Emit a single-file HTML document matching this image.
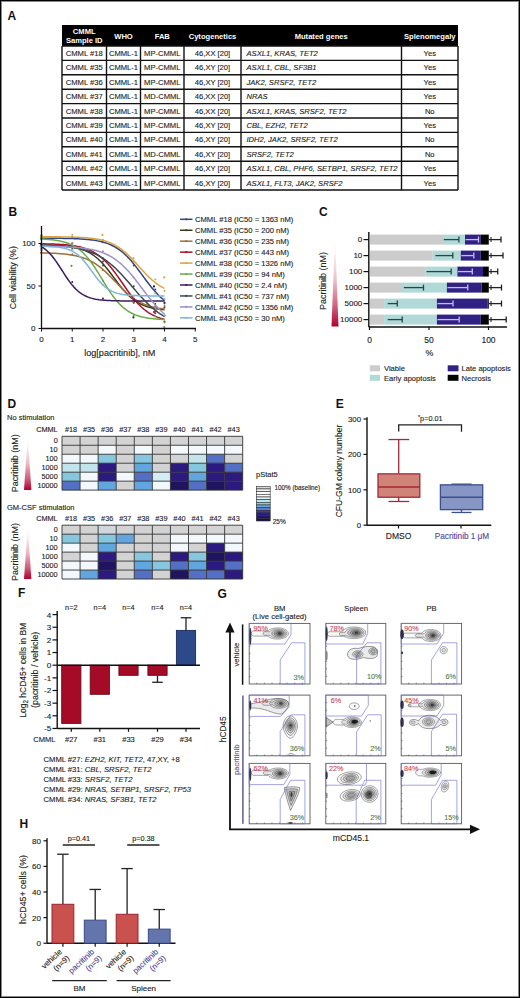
<!DOCTYPE html>
<html><head><meta charset="utf-8"><style>
html,body{margin:0;padding:0;background:#fff;}
svg{display:block;font-family:"Liberation Sans", sans-serif;}
</style></head><body>
<svg width="520" height="998" viewBox="0 0 520 998">
<rect x="0" y="0" width="520" height="998" fill="#fff"/>
<text x="7.5" y="20" font-size="12" text-anchor="start" font-weight="bold" fill="#111">A</text>
<rect x="62" y="25" width="396" height="21" fill="#000" stroke="none" stroke-width="1"/>
<text x="84.25" y="33.5" font-size="7.6" text-anchor="middle" font-weight="bold" fill="#fff">CMML</text>
<text x="84.25" y="42.5" font-size="7.6" text-anchor="middle" font-weight="bold" fill="#fff">Sample ID</text>
<text x="123.5" y="38.5" font-size="7.6" text-anchor="middle" font-weight="bold" fill="#fff">WHO</text>
<text x="162.25" y="38.5" font-size="7.6" text-anchor="middle" font-weight="bold" fill="#fff">FAB</text>
<text x="212.5" y="38.5" font-size="7.6" text-anchor="middle" font-weight="bold" fill="#fff">Cytogenetics</text>
<text x="321.25" y="38.5" font-size="7.6" text-anchor="middle" font-weight="bold" fill="#fff">Mutated genes</text>
<text x="429.75" y="38.5" font-size="7.6" text-anchor="middle" font-weight="bold" fill="#fff">Splenomegaly</text>
<text x="84.25" y="56.0" font-size="7.6" text-anchor="middle" fill="#222" stroke="#222" stroke-width="0.12">CMML #18</text>
<text x="123.5" y="56.0" font-size="7.6" text-anchor="middle" fill="#222" stroke="#222" stroke-width="0.12">CMML-1</text>
<text x="162.25" y="56.0" font-size="7.6" text-anchor="middle" fill="#222" stroke="#222" stroke-width="0.12">MP-CMML</text>
<text x="212.5" y="56.0" font-size="7.6" text-anchor="middle" fill="#222" stroke="#222" stroke-width="0.12">46,XX [20]</text>
<text x="246.5" y="56.0" font-size="7.6" text-anchor="start" font-style="italic" fill="#222" stroke="#222" stroke-width="0.12">ASXL1, KRAS, TET2</text>
<text x="429.75" y="56.0" font-size="7.6" text-anchor="middle" fill="#222" stroke="#222" stroke-width="0.12">Yes</text>
<text x="84.25" y="70.4" font-size="7.6" text-anchor="middle" fill="#222" stroke="#222" stroke-width="0.12">CMML #35</text>
<text x="123.5" y="70.4" font-size="7.6" text-anchor="middle" fill="#222" stroke="#222" stroke-width="0.12">CMML-1</text>
<text x="162.25" y="70.4" font-size="7.6" text-anchor="middle" fill="#222" stroke="#222" stroke-width="0.12">MP-CMML</text>
<text x="212.5" y="70.4" font-size="7.6" text-anchor="middle" fill="#222" stroke="#222" stroke-width="0.12">46,XY [20]</text>
<text x="246.5" y="70.4" font-size="7.6" text-anchor="start" font-style="italic" fill="#222" stroke="#222" stroke-width="0.12">ASXL1, CBL, SF3B1</text>
<text x="429.75" y="70.4" font-size="7.6" text-anchor="middle" fill="#222" stroke="#222" stroke-width="0.12">Yes</text>
<text x="84.25" y="84.8" font-size="7.6" text-anchor="middle" fill="#222" stroke="#222" stroke-width="0.12">CMML #36</text>
<text x="123.5" y="84.8" font-size="7.6" text-anchor="middle" fill="#222" stroke="#222" stroke-width="0.12">CMML-1</text>
<text x="162.25" y="84.8" font-size="7.6" text-anchor="middle" fill="#222" stroke="#222" stroke-width="0.12">MP-CMML</text>
<text x="212.5" y="84.8" font-size="7.6" text-anchor="middle" fill="#222" stroke="#222" stroke-width="0.12">46,XY [20]</text>
<text x="246.5" y="84.8" font-size="7.6" text-anchor="start" font-style="italic" fill="#222" stroke="#222" stroke-width="0.12">JAK2, SRSF2, TET2</text>
<text x="429.75" y="84.8" font-size="7.6" text-anchor="middle" fill="#222" stroke="#222" stroke-width="0.12">Yes</text>
<text x="84.25" y="99.2" font-size="7.6" text-anchor="middle" fill="#222" stroke="#222" stroke-width="0.12">CMML #37</text>
<text x="123.5" y="99.2" font-size="7.6" text-anchor="middle" fill="#222" stroke="#222" stroke-width="0.12">CMML-1</text>
<text x="162.25" y="99.2" font-size="7.6" text-anchor="middle" fill="#222" stroke="#222" stroke-width="0.12">MD-CMML</text>
<text x="212.5" y="99.2" font-size="7.6" text-anchor="middle" fill="#222" stroke="#222" stroke-width="0.12">46,XX [20]</text>
<text x="246.5" y="99.2" font-size="7.6" text-anchor="start" font-style="italic" fill="#222" stroke="#222" stroke-width="0.12">NRAS</text>
<text x="429.75" y="99.2" font-size="7.6" text-anchor="middle" fill="#222" stroke="#222" stroke-width="0.12">Yes</text>
<text x="84.25" y="113.6" font-size="7.6" text-anchor="middle" fill="#222" stroke="#222" stroke-width="0.12">CMML #38</text>
<text x="123.5" y="113.6" font-size="7.6" text-anchor="middle" fill="#222" stroke="#222" stroke-width="0.12">CMML-1</text>
<text x="162.25" y="113.6" font-size="7.6" text-anchor="middle" fill="#222" stroke="#222" stroke-width="0.12">MP-CMML</text>
<text x="212.5" y="113.6" font-size="7.6" text-anchor="middle" fill="#222" stroke="#222" stroke-width="0.12">46,XX [20]</text>
<text x="246.5" y="113.6" font-size="7.6" text-anchor="start" font-style="italic" fill="#222" stroke="#222" stroke-width="0.12">ASXL1, KRAS, SRSF2, TET2</text>
<text x="429.75" y="113.6" font-size="7.6" text-anchor="middle" fill="#222" stroke="#222" stroke-width="0.12">No</text>
<text x="84.25" y="128.0" font-size="7.6" text-anchor="middle" fill="#222" stroke="#222" stroke-width="0.12">CMML #39</text>
<text x="123.5" y="128.0" font-size="7.6" text-anchor="middle" fill="#222" stroke="#222" stroke-width="0.12">CMML-1</text>
<text x="162.25" y="128.0" font-size="7.6" text-anchor="middle" fill="#222" stroke="#222" stroke-width="0.12">MP-CMML</text>
<text x="212.5" y="128.0" font-size="7.6" text-anchor="middle" fill="#222" stroke="#222" stroke-width="0.12">46,XY [20]</text>
<text x="246.5" y="128.0" font-size="7.6" text-anchor="start" font-style="italic" fill="#222" stroke="#222" stroke-width="0.12">CBL, EZH2, TET2</text>
<text x="429.75" y="128.0" font-size="7.6" text-anchor="middle" fill="#222" stroke="#222" stroke-width="0.12">Yes</text>
<text x="84.25" y="142.4" font-size="7.6" text-anchor="middle" fill="#222" stroke="#222" stroke-width="0.12">CMML #40</text>
<text x="123.5" y="142.4" font-size="7.6" text-anchor="middle" fill="#222" stroke="#222" stroke-width="0.12">CMML-1</text>
<text x="162.25" y="142.4" font-size="7.6" text-anchor="middle" fill="#222" stroke="#222" stroke-width="0.12">MP-CMML</text>
<text x="212.5" y="142.4" font-size="7.6" text-anchor="middle" fill="#222" stroke="#222" stroke-width="0.12">46,XY [20]</text>
<text x="246.5" y="142.4" font-size="7.6" text-anchor="start" font-style="italic" fill="#222" stroke="#222" stroke-width="0.12">IDH2, JAK2, SRSF2, TET2</text>
<text x="429.75" y="142.4" font-size="7.6" text-anchor="middle" fill="#222" stroke="#222" stroke-width="0.12">No</text>
<text x="84.25" y="156.8" font-size="7.6" text-anchor="middle" fill="#222" stroke="#222" stroke-width="0.12">CMML #41</text>
<text x="123.5" y="156.8" font-size="7.6" text-anchor="middle" fill="#222" stroke="#222" stroke-width="0.12">CMML-1</text>
<text x="162.25" y="156.8" font-size="7.6" text-anchor="middle" fill="#222" stroke="#222" stroke-width="0.12">MD-CMML</text>
<text x="212.5" y="156.8" font-size="7.6" text-anchor="middle" fill="#222" stroke="#222" stroke-width="0.12">46,XY [20]</text>
<text x="246.5" y="156.8" font-size="7.6" text-anchor="start" font-style="italic" fill="#222" stroke="#222" stroke-width="0.12">SRSF2, TET2</text>
<text x="429.75" y="156.8" font-size="7.6" text-anchor="middle" fill="#222" stroke="#222" stroke-width="0.12">No</text>
<text x="84.25" y="171.2" font-size="7.6" text-anchor="middle" fill="#222" stroke="#222" stroke-width="0.12">CMML #42</text>
<text x="123.5" y="171.2" font-size="7.6" text-anchor="middle" fill="#222" stroke="#222" stroke-width="0.12">CMML-1</text>
<text x="162.25" y="171.2" font-size="7.6" text-anchor="middle" fill="#222" stroke="#222" stroke-width="0.12">MP-CMML</text>
<text x="212.5" y="171.2" font-size="7.6" text-anchor="middle" fill="#222" stroke="#222" stroke-width="0.12">46,XY [20]</text>
<text x="246.5" y="171.2" font-size="7.6" text-anchor="start" font-style="italic" fill="#222" stroke="#222" stroke-width="0.12">ASXL1, CBL, PHF6, SETBP1, SRSF2, TET2</text>
<text x="429.75" y="171.2" font-size="7.6" text-anchor="middle" fill="#222" stroke="#222" stroke-width="0.12">Yes</text>
<text x="84.25" y="185.6" font-size="7.6" text-anchor="middle" fill="#222" stroke="#222" stroke-width="0.12">CMML #43</text>
<text x="123.5" y="185.6" font-size="7.6" text-anchor="middle" fill="#222" stroke="#222" stroke-width="0.12">CMML-1</text>
<text x="162.25" y="185.6" font-size="7.6" text-anchor="middle" fill="#222" stroke="#222" stroke-width="0.12">MP-CMML</text>
<text x="212.5" y="185.6" font-size="7.6" text-anchor="middle" fill="#222" stroke="#222" stroke-width="0.12">46,XY [20]</text>
<text x="246.5" y="185.6" font-size="7.6" text-anchor="start" font-style="italic" fill="#222" stroke="#222" stroke-width="0.12">ASXL1, FLT3, JAK2, SRSF2</text>
<text x="429.75" y="185.6" font-size="7.6" text-anchor="middle" fill="#222" stroke="#222" stroke-width="0.12">Yes</text>
<line x1="62" y1="46.0" x2="458" y2="46.0" stroke="#111" stroke-width="1.4"/>
<line x1="62" y1="60.4" x2="458" y2="60.4" stroke="#111" stroke-width="1.4"/>
<line x1="62" y1="74.8" x2="458" y2="74.8" stroke="#111" stroke-width="1.4"/>
<line x1="62" y1="89.2" x2="458" y2="89.2" stroke="#111" stroke-width="1.4"/>
<line x1="62" y1="103.6" x2="458" y2="103.6" stroke="#111" stroke-width="1.4"/>
<line x1="62" y1="118.0" x2="458" y2="118.0" stroke="#111" stroke-width="1.4"/>
<line x1="62" y1="132.4" x2="458" y2="132.4" stroke="#111" stroke-width="1.4"/>
<line x1="62" y1="146.8" x2="458" y2="146.8" stroke="#111" stroke-width="1.4"/>
<line x1="62" y1="161.2" x2="458" y2="161.2" stroke="#111" stroke-width="1.4"/>
<line x1="62" y1="175.6" x2="458" y2="175.6" stroke="#111" stroke-width="1.4"/>
<line x1="62" y1="190.0" x2="458" y2="190.0" stroke="#111" stroke-width="1.4"/>
<line x1="62" y1="46" x2="62" y2="190.0" stroke="#111" stroke-width="1.4"/>
<line x1="106.5" y1="46" x2="106.5" y2="190.0" stroke="#111" stroke-width="1.4"/>
<line x1="140.5" y1="46" x2="140.5" y2="190.0" stroke="#111" stroke-width="1.4"/>
<line x1="184" y1="46" x2="184" y2="190.0" stroke="#111" stroke-width="1.4"/>
<line x1="241" y1="46" x2="241" y2="190.0" stroke="#111" stroke-width="1.4"/>
<line x1="401.5" y1="46" x2="401.5" y2="190.0" stroke="#111" stroke-width="1.4"/>
<line x1="458" y1="46" x2="458" y2="190.0" stroke="#111" stroke-width="1.4"/>
<text x="8.5" y="215.5" font-size="12" text-anchor="start" font-weight="bold" fill="#111">B</text>
<polyline points="39.96,238.19 41.52,238.19 43.08,238.20 44.63,238.21 46.19,238.21 47.75,238.22 49.30,238.23 50.86,238.24 52.42,238.25 53.97,238.26 55.53,238.28 57.09,238.29 58.64,238.31 60.20,238.33 61.76,238.35 63.31,238.38 64.87,238.41 66.43,238.44 67.98,238.47 69.54,238.51 71.10,238.56 72.65,238.61 74.21,238.66 75.77,238.72 77.32,238.79 78.88,238.87 80.44,238.95 81.99,239.05 83.55,239.16 85.11,239.27 86.66,239.41 88.22,239.56 89.78,239.72 91.33,239.91 92.89,240.11 94.45,240.34 96.00,240.59 97.56,240.88 99.12,241.19 100.67,241.54 102.23,241.92 103.79,242.35 105.34,242.82 106.90,243.34 108.46,243.92 110.01,244.55 111.57,245.25 113.13,246.01 114.69,246.84 116.24,247.75 117.80,248.73 119.36,249.80 120.91,250.96 122.47,252.21 124.03,253.55 125.58,254.98 127.14,256.50 128.70,258.11 130.25,259.81 131.81,261.60 133.37,263.46 134.92,265.39 136.48,267.38 138.04,269.42 139.59,271.50 141.15,273.61 142.71,275.72 144.26,277.84 145.82,279.95 147.38,282.03 148.93,284.07 150.49,286.06 152.05,287.98 153.60,289.84 155.16,291.62 156.72,293.31 158.27,294.92 159.83,296.44 161.39,297.87 162.94,299.20 164.50,300.44" fill="none" stroke="#33457e" stroke-width="1.5"/>
<circle cx="41.50" cy="235.13" r="1.0" fill="#33457e"/>
<circle cx="72.25" cy="237.06" r="1.0" fill="#33457e"/>
<circle cx="103.00" cy="242.13" r="1.0" fill="#33457e"/>
<circle cx="133.75" cy="265.46" r="1.0" fill="#33457e"/>
<circle cx="155.28" cy="289.45" r="1.0" fill="#33457e"/>
<circle cx="164.50" cy="303.50" r="1.0" fill="#33457e"/>
<polyline points="39.96,245.10 41.52,245.12 43.08,245.14 44.63,245.17 46.19,245.20 47.75,245.24 49.30,245.28 50.86,245.32 52.42,245.37 53.97,245.43 55.53,245.49 57.09,245.57 58.64,245.65 60.20,245.75 61.76,245.85 63.31,245.97 64.87,246.11 66.43,246.27 67.98,246.44 69.54,246.64 71.10,246.86 72.65,247.11 74.21,247.40 75.77,247.71 77.32,248.07 78.88,248.47 80.44,248.92 81.99,249.42 83.55,249.98 85.11,250.61 86.66,251.30 88.22,252.07 89.78,252.92 91.33,253.85 92.89,254.88 94.45,256.00 96.00,257.21 97.56,258.53 99.12,259.96 100.67,261.48 102.23,263.10 103.79,264.82 105.34,266.63 106.90,268.51 108.46,270.47 110.01,272.48 111.57,274.54 113.13,276.62 114.69,278.71 116.24,280.79 117.80,282.86 119.36,284.88 120.91,286.85 122.47,288.75 124.03,290.57 125.58,292.31 127.14,293.95 128.70,295.50 130.25,296.94 131.81,298.28 133.37,299.52 134.92,300.66 136.48,301.71 138.04,302.66 139.59,303.52 141.15,304.31 142.71,305.02 144.26,305.66 145.82,306.23 147.38,306.74 148.93,307.20 150.49,307.61 152.05,307.98 153.60,308.31 155.16,308.60 156.72,308.85 158.27,309.08 159.83,309.28 161.39,309.46 162.94,309.62 164.50,309.76" fill="none" stroke="#3b3a1c" stroke-width="1.5"/>
<circle cx="41.50" cy="243.59" r="1.0" fill="#3b3a1c"/>
<circle cx="72.25" cy="247.05" r="1.0" fill="#3b3a1c"/>
<circle cx="103.00" cy="265.47" r="1.0" fill="#3b3a1c"/>
<circle cx="133.75" cy="302.87" r="1.0" fill="#3b3a1c"/>
<circle cx="155.28" cy="307.85" r="1.0" fill="#3b3a1c"/>
<circle cx="164.50" cy="307.47" r="1.0" fill="#3b3a1c"/>
<polyline points="39.96,252.85 41.52,252.88 43.08,252.92 44.63,252.95 46.19,253.00 47.75,253.04 49.30,253.10 50.86,253.15 52.42,253.22 53.97,253.29 55.53,253.37 57.09,253.47 58.64,253.57 60.20,253.68 61.76,253.81 63.31,253.95 64.87,254.10 66.43,254.27 67.98,254.47 69.54,254.68 71.10,254.92 72.65,255.18 74.21,255.47 75.77,255.79 77.32,256.15 78.88,256.54 80.44,256.97 81.99,257.45 83.55,257.97 85.11,258.54 86.66,259.17 88.22,259.85 89.78,260.59 91.33,261.39 92.89,262.26 94.45,263.19 96.00,264.20 97.56,265.27 99.12,266.42 100.67,267.63 102.23,268.91 103.79,270.25 105.34,271.66 106.90,273.12 108.46,274.62 110.01,276.17 111.57,277.76 113.13,279.36 114.69,280.98 116.24,282.60 117.80,284.22 119.36,285.82 120.91,287.40 122.47,288.94 124.03,290.44 125.58,291.89 127.14,293.28 128.70,294.61 130.25,295.88 131.81,297.07 133.37,298.20 134.92,299.26 136.48,300.25 138.04,301.17 139.59,302.03 141.15,302.82 142.71,303.55 144.26,304.21 145.82,304.83 147.38,305.39 148.93,305.90 150.49,306.37 152.05,306.79 153.60,307.17 155.16,307.52 156.72,307.84 158.27,308.12 159.83,308.38 161.39,308.61 162.94,308.82 164.50,309.01" fill="none" stroke="#9c7238" stroke-width="1.5"/>
<circle cx="41.50" cy="250.59" r="1.0" fill="#9c7238"/>
<circle cx="72.25" cy="254.35" r="1.0" fill="#9c7238"/>
<circle cx="103.00" cy="270.33" r="1.0" fill="#9c7238"/>
<circle cx="133.75" cy="300.77" r="1.0" fill="#9c7238"/>
<circle cx="155.28" cy="306.02" r="1.0" fill="#9c7238"/>
<circle cx="164.50" cy="305.95" r="1.0" fill="#9c7238"/>
<polyline points="39.96,243.77 41.52,243.79 43.08,243.82 44.63,243.85 46.19,243.88 47.75,243.91 49.30,243.95 50.86,244.00 52.42,244.05 53.97,244.10 55.53,244.17 57.09,244.24 58.64,244.31 60.20,244.40 61.76,244.50 63.31,244.61 64.87,244.73 66.43,244.87 67.98,245.02 69.54,245.19 71.10,245.38 72.65,245.59 74.21,245.83 75.77,246.09 77.32,246.38 78.88,246.71 80.44,247.07 81.99,247.47 83.55,247.92 85.11,248.41 86.66,248.95 88.22,249.55 89.78,250.22 91.33,250.94 92.89,251.74 94.45,252.62 96.00,253.57 97.56,254.61 99.12,255.74 100.67,256.96 102.23,258.28 103.79,259.70 105.34,261.21 106.90,262.83 108.46,264.54 110.01,266.35 111.57,268.24 113.13,270.22 114.69,272.28 116.24,274.40 117.80,276.57 119.36,278.79 120.91,281.03 122.47,283.29 124.03,285.55 125.58,287.79 127.14,290.00 128.70,292.17 130.25,294.28 131.81,296.33 133.37,298.30 134.92,300.19 136.48,301.98 138.04,303.68 139.59,305.28 141.15,306.79 142.71,308.19 144.26,309.50 145.82,310.71 147.38,311.83 148.93,312.86 150.49,313.80 152.05,314.67 153.60,315.46 155.16,316.17 156.72,316.83 158.27,317.42 159.83,317.96 161.39,318.45 162.94,318.88 164.50,319.28" fill="none" stroke="#a8122e" stroke-width="1.5"/>
<circle cx="41.50" cy="246.85" r="1.0" fill="#a8122e"/>
<circle cx="72.25" cy="243.24" r="1.0" fill="#a8122e"/>
<circle cx="103.00" cy="258.20" r="1.0" fill="#a8122e"/>
<circle cx="133.75" cy="299.54" r="1.0" fill="#a8122e"/>
<circle cx="155.28" cy="313.17" r="1.0" fill="#a8122e"/>
<circle cx="164.50" cy="321.58" r="1.0" fill="#a8122e"/>
<polyline points="39.96,236.73 41.52,236.74 43.08,236.74 44.63,236.75 46.19,236.75 47.75,236.76 49.30,236.77 50.86,236.78 52.42,236.79 53.97,236.80 55.53,236.81 57.09,236.82 58.64,236.84 60.20,236.86 61.76,236.88 63.31,236.90 64.87,236.92 66.43,236.95 67.98,236.98 69.54,237.01 71.10,237.05 72.65,237.10 74.21,237.15 75.77,237.20 77.32,237.26 78.88,237.33 80.44,237.41 81.99,237.50 83.55,237.60 85.11,237.71 86.66,237.83 88.22,237.97 89.78,238.13 91.33,238.30 92.89,238.49 94.45,238.71 96.00,238.95 97.56,239.22 99.12,239.52 100.67,239.85 102.23,240.23 103.79,240.64 105.34,241.09 106.90,241.59 108.46,242.15 110.01,242.76 111.57,243.43 113.13,244.17 114.69,244.97 116.24,245.84 117.80,246.79 119.36,247.81 120.91,248.91 122.47,250.09 124.03,251.35 125.58,252.68 127.14,254.09 128.70,255.57 130.25,257.11 131.81,258.71 133.37,260.36 134.92,262.04 136.48,263.76 138.04,265.49 139.59,267.22 141.15,268.95 142.71,270.66 144.26,272.34 145.82,273.98 147.38,275.57 148.93,277.10 150.49,278.56 152.05,279.96 153.60,281.28 155.16,282.52 156.72,283.69 158.27,284.77 159.83,285.78 161.39,286.72 162.94,287.58 164.50,288.37" fill="none" stroke="#dca440" stroke-width="1.5"/>
<circle cx="41.50" cy="239.80" r="1.0" fill="#dca440"/>
<circle cx="72.25" cy="234.79" r="1.0" fill="#dca440"/>
<circle cx="103.00" cy="239.66" r="1.0" fill="#dca440"/>
<circle cx="133.75" cy="261.53" r="1.0" fill="#dca440"/>
<circle cx="155.28" cy="279.55" r="1.0" fill="#dca440"/>
<circle cx="164.50" cy="290.66" r="1.0" fill="#dca440"/>
<polyline points="39.96,238.93 41.52,239.00 43.08,239.09 44.63,239.18 46.19,239.28 47.75,239.40 49.30,239.53 50.86,239.68 52.42,239.84 53.97,240.03 55.53,240.25 57.09,240.49 58.64,240.76 60.20,241.07 61.76,241.41 63.31,241.80 64.87,242.24 66.43,242.72 67.98,243.27 69.54,243.88 71.10,244.56 72.65,245.32 74.21,246.15 75.77,247.08 77.32,248.11 78.88,249.24 80.44,250.48 81.99,251.83 83.55,253.31 85.11,254.90 86.66,256.62 88.22,258.47 89.78,260.43 91.33,262.51 92.89,264.70 94.45,267.00 96.00,269.38 97.56,271.83 99.12,274.34 100.67,276.89 102.23,279.45 103.79,282.02 105.34,284.56 106.90,287.06 108.46,289.50 110.01,291.86 111.57,294.14 113.13,296.31 114.69,298.37 116.24,300.31 117.80,302.13 119.36,303.82 120.91,305.39 122.47,306.84 124.03,308.17 125.58,309.39 127.14,310.50 128.70,311.51 130.25,312.42 131.81,313.24 133.37,313.98 134.92,314.65 136.48,315.24 138.04,315.78 139.59,316.25 141.15,316.68 142.71,317.06 144.26,317.39 145.82,317.69 147.38,317.96 148.93,318.20 150.49,318.40 152.05,318.59 153.60,318.75 155.16,318.90 156.72,319.03 158.27,319.14 159.83,319.24 161.39,319.33 162.94,319.41 164.50,319.48" fill="none" stroke="#6aaa48" stroke-width="1.5"/>
<circle cx="41.50" cy="235.94" r="1.0" fill="#6aaa48"/>
<circle cx="72.25" cy="243.58" r="1.0" fill="#6aaa48"/>
<circle cx="103.00" cy="280.72" r="1.0" fill="#6aaa48"/>
<circle cx="133.75" cy="315.68" r="1.0" fill="#6aaa48"/>
<circle cx="155.28" cy="316.61" r="1.0" fill="#6aaa48"/>
<circle cx="164.50" cy="322.54" r="1.0" fill="#6aaa48"/>
<polyline points="39.96,245.80 41.52,246.68 43.08,247.68 44.63,248.80 46.19,250.06 47.75,251.47 49.30,253.02 50.86,254.72 52.42,256.57 53.97,258.55 55.53,260.67 57.09,262.90 58.64,265.22 60.20,267.61 61.76,270.03 63.31,272.46 64.87,274.87 66.43,277.22 67.98,279.50 69.54,281.66 71.10,283.71 72.65,285.62 74.21,287.39 75.77,289.01 77.32,290.48 78.88,291.80 80.44,292.98 81.99,294.04 83.55,294.97 85.11,295.79 86.66,296.51 88.22,297.13 89.78,297.68 91.33,298.15 92.89,298.56 94.45,298.91 96.00,299.22 97.56,299.48 99.12,299.71 100.67,299.90 102.23,300.07 103.79,300.21 105.34,300.33 106.90,300.44 108.46,300.53 110.01,300.60 111.57,300.67 113.13,300.72 114.69,300.77 116.24,300.81 117.80,300.84 119.36,300.87 120.91,300.90 122.47,300.92 124.03,300.94 125.58,300.95 127.14,300.97 128.70,300.98 130.25,300.99 131.81,301.00 133.37,301.00 134.92,301.01 136.48,301.02 138.04,301.02 139.59,301.02 141.15,301.03 142.71,301.03 144.26,301.03 145.82,301.03 147.38,301.04 148.93,301.04 150.49,301.04 152.05,301.04 153.60,301.04 155.16,301.04 156.72,301.04 158.27,301.04 159.83,301.04 161.39,301.04 162.94,301.04 164.50,301.04" fill="none" stroke="#3a1e5e" stroke-width="1.5"/>
<circle cx="41.50" cy="248.96" r="1.0" fill="#3a1e5e"/>
<circle cx="72.25" cy="282.08" r="1.0" fill="#3a1e5e"/>
<circle cx="103.00" cy="298.61" r="1.0" fill="#3a1e5e"/>
<circle cx="133.75" cy="301.01" r="1.0" fill="#3a1e5e"/>
<circle cx="155.28" cy="304.10" r="1.0" fill="#3a1e5e"/>
<circle cx="164.50" cy="302.57" r="1.0" fill="#3a1e5e"/>
<polyline points="39.96,245.08 41.52,245.12 43.08,245.17 44.63,245.22 46.19,245.28 47.75,245.34 49.30,245.40 50.86,245.48 52.42,245.55 53.97,245.64 55.53,245.73 57.09,245.83 58.64,245.95 60.20,246.07 61.76,246.20 63.31,246.34 64.87,246.49 66.43,246.66 67.98,246.84 69.54,247.04 71.10,247.26 72.65,247.49 74.21,247.75 75.77,248.02 77.32,248.32 78.88,248.64 80.44,248.99 81.99,249.37 83.55,249.78 85.11,250.22 86.66,250.70 88.22,251.21 89.78,251.76 91.33,252.35 92.89,252.99 94.45,253.67 96.00,254.40 97.56,255.19 99.12,256.02 100.67,256.91 102.23,257.85 103.79,258.86 105.34,259.92 106.90,261.04 108.46,262.23 110.01,263.47 111.57,264.78 113.13,266.15 114.69,267.57 116.24,269.06 117.80,270.60 119.36,272.18 120.91,273.82 122.47,275.50 124.03,277.22 125.58,278.97 127.14,280.75 128.70,282.55 130.25,284.36 131.81,286.18 133.37,288.01 134.92,289.82 136.48,291.62 138.04,293.40 139.59,295.16 141.15,296.88 142.71,298.57 144.26,300.21 145.82,301.81 147.38,303.35 148.93,304.84 150.49,306.27 152.05,307.65 153.60,308.96 155.16,310.22 156.72,311.41 158.27,312.54 159.83,313.61 161.39,314.62 162.94,315.57 164.50,316.47" fill="none" stroke="#3e4854" stroke-width="1.5"/>
<circle cx="41.50" cy="245.12" r="1.0" fill="#3e4854"/>
<circle cx="72.25" cy="248.96" r="1.0" fill="#3e4854"/>
<circle cx="103.00" cy="261.40" r="1.0" fill="#3e4854"/>
<circle cx="133.75" cy="286.16" r="1.0" fill="#3e4854"/>
<circle cx="155.28" cy="311.07" r="1.0" fill="#3e4854"/>
<circle cx="164.50" cy="315.70" r="1.0" fill="#3e4854"/>
<polyline points="39.96,246.27 41.52,246.29 43.08,246.30 44.63,246.32 46.19,246.34 47.75,246.36 49.30,246.38 50.86,246.41 52.42,246.43 53.97,246.47 55.53,246.50 57.09,246.54 58.64,246.58 60.20,246.62 61.76,246.67 63.31,246.73 64.87,246.79 66.43,246.85 67.98,246.93 69.54,247.01 71.10,247.10 72.65,247.20 74.21,247.30 75.77,247.42 77.32,247.55 78.88,247.69 80.44,247.85 81.99,248.02 83.55,248.21 85.11,248.42 86.66,248.65 88.22,248.90 89.78,249.18 91.33,249.48 92.89,249.80 94.45,250.16 96.00,250.56 97.56,250.99 99.12,251.45 100.67,251.96 102.23,252.52 103.79,253.12 105.34,253.77 106.90,254.48 108.46,255.25 110.01,256.07 111.57,256.96 113.13,257.92 114.69,258.95 116.24,260.05 117.80,261.23 119.36,262.48 120.91,263.81 122.47,265.22 124.03,266.70 125.58,268.26 127.14,269.90 128.70,271.61 130.25,273.38 131.81,275.22 133.37,277.12 134.92,279.06 136.48,281.05 138.04,283.07 139.59,285.12 141.15,287.18 142.71,289.25 144.26,291.31 145.82,293.36 147.38,295.39 148.93,297.38 150.49,299.33 152.05,301.24 153.60,303.08 155.16,304.87 156.72,306.59 158.27,308.24 159.83,309.81 161.39,311.31 162.94,312.73 164.50,314.07" fill="none" stroke="#9a92c8" stroke-width="1.5"/>
<circle cx="41.50" cy="248.58" r="1.0" fill="#9a92c8"/>
<circle cx="72.25" cy="244.11" r="1.0" fill="#9a92c8"/>
<circle cx="103.00" cy="251.28" r="1.0" fill="#9a92c8"/>
<circle cx="133.75" cy="277.59" r="1.0" fill="#9a92c8"/>
<circle cx="155.28" cy="308.06" r="1.0" fill="#9a92c8"/>
<circle cx="164.50" cy="315.60" r="1.0" fill="#9a92c8"/>
<polyline points="39.96,246.21 41.52,246.24 43.08,246.27 44.63,246.31 46.19,246.36 47.75,246.42 49.30,246.49 50.86,246.57 52.42,246.67 53.97,246.79 55.53,246.92 57.09,247.09 58.64,247.28 60.20,247.50 61.76,247.77 63.31,248.08 64.87,248.45 66.43,248.88 67.98,249.38 69.54,249.96 71.10,250.64 72.65,251.41 74.21,252.30 75.77,253.32 77.32,254.46 78.88,255.75 80.44,257.18 81.99,258.75 83.55,260.47 85.11,262.31 86.66,264.27 88.22,266.32 89.78,268.44 91.33,270.60 92.89,272.76 94.45,274.90 96.00,276.98 97.56,278.97 99.12,280.86 100.67,282.62 102.23,284.25 103.79,285.73 105.34,287.07 106.90,288.27 108.46,289.33 110.01,290.26 111.57,291.08 113.13,291.79 114.69,292.41 116.24,292.94 117.80,293.39 119.36,293.78 120.91,294.11 122.47,294.40 124.03,294.64 125.58,294.84 127.14,295.01 128.70,295.16 130.25,295.28 131.81,295.39 133.37,295.48 134.92,295.55 136.48,295.61 138.04,295.67 139.59,295.71 141.15,295.75 142.71,295.78 144.26,295.80 145.82,295.83 147.38,295.85 148.93,295.86 150.49,295.88 152.05,295.89 153.60,295.90 155.16,295.90 156.72,295.91 158.27,295.92 159.83,295.92 161.39,295.92 162.94,295.93 164.50,295.93" fill="none" stroke="#80b4dc" stroke-width="1.5"/>
<circle cx="41.50" cy="243.18" r="1.0" fill="#80b4dc"/>
<circle cx="72.25" cy="249.67" r="1.0" fill="#80b4dc"/>
<circle cx="103.00" cy="285.00" r="1.0" fill="#80b4dc"/>
<circle cx="133.75" cy="297.03" r="1.0" fill="#80b4dc"/>
<circle cx="155.28" cy="293.61" r="1.0" fill="#80b4dc"/>
<circle cx="164.50" cy="298.99" r="1.0" fill="#80b4dc"/>
<circle cx="71.5" cy="265.8" r="1.1" fill="#9c7238"/>
<circle cx="133.4" cy="317.4" r="1.1" fill="#2a3a1a"/>
<circle cx="164.3" cy="277.4" r="1.1" fill="#dca440"/>
<circle cx="154" cy="286.4" r="1.1" fill="#222"/>
<circle cx="102.4" cy="234.9" r="1.1" fill="#dca440"/>
<circle cx="133.4" cy="258" r="1.1" fill="#dca440"/>
<circle cx="133.4" cy="302" r="1.1" fill="#8a5060"/>
<circle cx="164.3" cy="327" r="1.1" fill="#a07070"/>
<circle cx="154" cy="312" r="1.1" fill="#a8122e"/>
<line x1="41.5" y1="226" x2="41.5" y2="328.5" stroke="#111" stroke-width="1.3"/>
<line x1="41.5" y1="328.5" x2="196" y2="328.5" stroke="#111" stroke-width="1.3"/>
<line x1="38.5" y1="328.5" x2="41.5" y2="328.5" stroke="#111" stroke-width="1"/>
<text x="35.5" y="331.4" font-size="8.0" text-anchor="end" fill="#222" stroke="#222" stroke-width="0.12">0</text>
<line x1="38.5" y1="286.0" x2="41.5" y2="286.0" stroke="#111" stroke-width="1"/>
<text x="35.5" y="288.9" font-size="8.0" text-anchor="end" fill="#222" stroke="#222" stroke-width="0.12">50</text>
<line x1="38.5" y1="243.5" x2="41.5" y2="243.5" stroke="#111" stroke-width="1"/>
<text x="35.5" y="246.4" font-size="8.0" text-anchor="end" fill="#222" stroke="#222" stroke-width="0.12">100</text>
<line x1="41.5" y1="328.5" x2="41.5" y2="331.5" stroke="#111" stroke-width="1"/>
<text x="41.5" y="342" font-size="8.0" text-anchor="middle" fill="#222" stroke="#222" stroke-width="0.12">0</text>
<line x1="72.25" y1="328.5" x2="72.25" y2="331.5" stroke="#111" stroke-width="1"/>
<text x="72.25" y="342" font-size="8.0" text-anchor="middle" fill="#222" stroke="#222" stroke-width="0.12">1</text>
<line x1="103.0" y1="328.5" x2="103.0" y2="331.5" stroke="#111" stroke-width="1"/>
<text x="103.0" y="342" font-size="8.0" text-anchor="middle" fill="#222" stroke="#222" stroke-width="0.12">2</text>
<line x1="133.75" y1="328.5" x2="133.75" y2="331.5" stroke="#111" stroke-width="1"/>
<text x="133.75" y="342" font-size="8.0" text-anchor="middle" fill="#222" stroke="#222" stroke-width="0.12">3</text>
<line x1="164.5" y1="328.5" x2="164.5" y2="331.5" stroke="#111" stroke-width="1"/>
<text x="164.5" y="342" font-size="8.0" text-anchor="middle" fill="#222" stroke="#222" stroke-width="0.12">4</text>
<line x1="195.25" y1="328.5" x2="195.25" y2="331.5" stroke="#111" stroke-width="1"/>
<text x="195.25" y="342" font-size="8.0" text-anchor="middle" fill="#222" stroke="#222" stroke-width="0.12">5</text>
<text x="119.8" y="356.2" font-size="9.1" text-anchor="middle" fill="#222" stroke="#222" stroke-width="0.12">log[pacritinib], nM</text>
<text x="15.8" y="277.7" font-size="8.9" text-anchor="middle" fill="#222" stroke="#222" stroke-width="0.12" transform="rotate(-90 15.8 277.7)">Cell viability (%)</text>
<line x1="180" y1="219.3" x2="192.5" y2="219.3" stroke="#33457e" stroke-width="1.5"/>
<circle cx="186.2" cy="219.3" r="1.1" fill="#33457e"/>
<line x1="180" y1="230.25" x2="192.5" y2="230.25" stroke="#3b3a1c" stroke-width="1.5"/>
<circle cx="186.2" cy="230.25" r="1.1" fill="#3b3a1c"/>
<line x1="180" y1="241.20000000000002" x2="192.5" y2="241.20000000000002" stroke="#9c7238" stroke-width="1.5"/>
<circle cx="186.2" cy="241.20000000000002" r="1.1" fill="#9c7238"/>
<line x1="180" y1="252.15" x2="192.5" y2="252.15" stroke="#a8122e" stroke-width="1.5"/>
<circle cx="186.2" cy="252.15" r="1.1" fill="#a8122e"/>
<line x1="180" y1="263.1" x2="192.5" y2="263.1" stroke="#dca440" stroke-width="1.5"/>
<circle cx="186.2" cy="263.1" r="1.1" fill="#dca440"/>
<line x1="180" y1="274.05" x2="192.5" y2="274.05" stroke="#6aaa48" stroke-width="1.5"/>
<circle cx="186.2" cy="274.05" r="1.1" fill="#6aaa48"/>
<line x1="180" y1="285.0" x2="192.5" y2="285.0" stroke="#3a1e5e" stroke-width="1.5"/>
<circle cx="186.2" cy="285.0" r="1.1" fill="#3a1e5e"/>
<line x1="180" y1="295.95" x2="192.5" y2="295.95" stroke="#3e4854" stroke-width="1.5"/>
<circle cx="186.2" cy="295.95" r="1.1" fill="#3e4854"/>
<line x1="180" y1="306.9" x2="192.5" y2="306.9" stroke="#9a92c8" stroke-width="1.5"/>
<circle cx="186.2" cy="306.9" r="1.1" fill="#9a92c8"/>
<line x1="180" y1="317.85" x2="192.5" y2="317.85" stroke="#80b4dc" stroke-width="1.5"/>
<circle cx="186.2" cy="317.85" r="1.1" fill="#80b4dc"/>
<text x="195" y="222.0" font-size="7.6" text-anchor="start" fill="#222" stroke="#222" stroke-width="0.12">CMML #18 (IC50 = 1363 nM)</text>
<text x="195" y="232.95" font-size="7.6" text-anchor="start" fill="#222" stroke="#222" stroke-width="0.12">CMML #35 (IC50 = 200 nM)</text>
<text x="195" y="243.9" font-size="7.6" text-anchor="start" fill="#222" stroke="#222" stroke-width="0.12">CMML #36 (IC50 = 235 nM)</text>
<text x="195" y="254.85" font-size="7.6" text-anchor="start" fill="#222" stroke="#222" stroke-width="0.12">CMML #37 (IC50 = 443 nM)</text>
<text x="195" y="265.8" font-size="7.6" text-anchor="start" fill="#222" stroke="#222" stroke-width="0.12">CMML #38 (IC50 = 1326 nM)</text>
<text x="195" y="276.75" font-size="7.6" text-anchor="start" fill="#222" stroke="#222" stroke-width="0.12">CMML #39 (IC50 = 94 nM)</text>
<text x="195" y="287.7" font-size="7.6" text-anchor="start" fill="#222" stroke="#222" stroke-width="0.12">CMML #40 (IC50 = 2.4 nM)</text>
<text x="195" y="298.65" font-size="7.6" text-anchor="start" fill="#222" stroke="#222" stroke-width="0.12">CMML #41 (IC50 = 737 nM)</text>
<text x="195" y="309.59999999999997" font-size="7.6" text-anchor="start" fill="#222" stroke="#222" stroke-width="0.12">CMML #42 (IC50 = 1356 nM)</text>
<text x="195" y="320.55" font-size="7.6" text-anchor="start" fill="#222" stroke="#222" stroke-width="0.12">CMML #43 (IC50 = 30 nM)</text>
<text x="319" y="216" font-size="12" text-anchor="start" font-weight="bold" fill="#111">C</text>
<rect x="370" y="234.6" width="73" height="10" fill="#cccccc" stroke="none" stroke-width="1"/>
<rect x="443" y="234.6" width="22" height="10" fill="#b1d9d8" stroke="none" stroke-width="1"/>
<rect x="465" y="234.6" width="15.800000000000011" height="10" fill="#302284" stroke="none" stroke-width="1"/>
<rect x="480.8" y="234.6" width="8.0" height="10" fill="#050505" stroke="none" stroke-width="1"/>
<line x1="443.8" y1="239.6" x2="458.9" y2="239.6" stroke="#1c4a48" stroke-width="1.3"/>
<line x1="458.9" y1="236.6" x2="458.9" y2="242.6" stroke="#1c4a48" stroke-width="1.3"/>
<line x1="465.5" y1="239.6" x2="478.5" y2="239.6" stroke="#c8b8ff" stroke-width="1.3"/>
<line x1="478.5" y1="236.6" x2="478.5" y2="242.6" stroke="#c8b8ff" stroke-width="1.3"/>
<line x1="488.8" y1="239.6" x2="501" y2="239.6" stroke="#222" stroke-width="1.3"/>
<line x1="501" y1="236.6" x2="501" y2="242.6" stroke="#222" stroke-width="1.3"/>
<line x1="491" y1="237.1" x2="491" y2="242.1" stroke="#222" stroke-width="1.1"/>
<rect x="370" y="250.6" width="62.69999999999999" height="10" fill="#cccccc" stroke="none" stroke-width="1"/>
<rect x="432.7" y="250.6" width="28.100000000000023" height="10" fill="#b1d9d8" stroke="none" stroke-width="1"/>
<rect x="460.8" y="250.6" width="20.0" height="10" fill="#302284" stroke="none" stroke-width="1"/>
<rect x="480.8" y="250.6" width="8.0" height="10" fill="#050505" stroke="none" stroke-width="1"/>
<line x1="435.4" y1="255.6" x2="452.8" y2="255.6" stroke="#1c4a48" stroke-width="1.3"/>
<line x1="452.8" y1="252.6" x2="452.8" y2="258.6" stroke="#1c4a48" stroke-width="1.3"/>
<line x1="461.3" y1="255.6" x2="473.8" y2="255.6" stroke="#c8b8ff" stroke-width="1.3"/>
<line x1="473.8" y1="252.6" x2="473.8" y2="258.6" stroke="#c8b8ff" stroke-width="1.3"/>
<line x1="488.8" y1="255.6" x2="503" y2="255.6" stroke="#222" stroke-width="1.3"/>
<line x1="503" y1="252.6" x2="503" y2="258.6" stroke="#222" stroke-width="1.3"/>
<line x1="491" y1="253.1" x2="491" y2="258.1" stroke="#222" stroke-width="1.1"/>
<rect x="370" y="266.6" width="55.80000000000001" height="10" fill="#cccccc" stroke="none" stroke-width="1"/>
<rect x="425.8" y="266.6" width="31.599999999999966" height="10" fill="#b1d9d8" stroke="none" stroke-width="1"/>
<rect x="457.4" y="266.6" width="25.600000000000023" height="10" fill="#302284" stroke="none" stroke-width="1"/>
<rect x="483" y="266.6" width="5.800000000000011" height="10" fill="#050505" stroke="none" stroke-width="1"/>
<line x1="426.5" y1="271.6" x2="451.2" y2="271.6" stroke="#1c4a48" stroke-width="1.3"/>
<line x1="451.2" y1="268.6" x2="451.2" y2="274.6" stroke="#1c4a48" stroke-width="1.3"/>
<line x1="457.9" y1="271.6" x2="472.3" y2="271.6" stroke="#c8b8ff" stroke-width="1.3"/>
<line x1="472.3" y1="268.6" x2="472.3" y2="274.6" stroke="#c8b8ff" stroke-width="1.3"/>
<line x1="488.8" y1="271.6" x2="497.7" y2="271.6" stroke="#222" stroke-width="1.3"/>
<line x1="497.7" y1="268.6" x2="497.7" y2="274.6" stroke="#222" stroke-width="1.3"/>
<line x1="491" y1="269.1" x2="491" y2="274.1" stroke="#222" stroke-width="1.1"/>
<rect x="370" y="282.6" width="31.0" height="10" fill="#cccccc" stroke="none" stroke-width="1"/>
<rect x="401.0" y="282.6" width="45.89999999999998" height="10" fill="#b1d9d8" stroke="none" stroke-width="1"/>
<rect x="446.9" y="282.6" width="34.60000000000002" height="10" fill="#302284" stroke="none" stroke-width="1"/>
<rect x="481.5" y="282.6" width="7.300000000000011" height="10" fill="#050505" stroke="none" stroke-width="1"/>
<line x1="403.8" y1="287.6" x2="423.5" y2="287.6" stroke="#1c4a48" stroke-width="1.3"/>
<line x1="423.5" y1="284.6" x2="423.5" y2="290.6" stroke="#1c4a48" stroke-width="1.3"/>
<line x1="447.4" y1="287.6" x2="467.7" y2="287.6" stroke="#c8b8ff" stroke-width="1.3"/>
<line x1="467.7" y1="284.6" x2="467.7" y2="290.6" stroke="#c8b8ff" stroke-width="1.3"/>
<line x1="488.8" y1="287.6" x2="501.5" y2="287.6" stroke="#222" stroke-width="1.3"/>
<line x1="501.5" y1="284.6" x2="501.5" y2="290.6" stroke="#222" stroke-width="1.3"/>
<line x1="491" y1="285.1" x2="491" y2="290.1" stroke="#222" stroke-width="1.1"/>
<rect x="370" y="298.6" width="14.199999999999989" height="10" fill="#cccccc" stroke="none" stroke-width="1"/>
<rect x="384.2" y="298.6" width="52.69999999999999" height="10" fill="#b1d9d8" stroke="none" stroke-width="1"/>
<rect x="436.9" y="298.6" width="50.80000000000001" height="10" fill="#302284" stroke="none" stroke-width="1"/>
<rect x="487.7" y="298.6" width="1.1000000000000227" height="10" fill="#050505" stroke="none" stroke-width="1"/>
<line x1="387.7" y1="303.6" x2="397.3" y2="303.6" stroke="#1c4a48" stroke-width="1.3"/>
<line x1="397.3" y1="300.6" x2="397.3" y2="306.6" stroke="#1c4a48" stroke-width="1.3"/>
<line x1="437.4" y1="303.6" x2="453" y2="303.6" stroke="#c8b8ff" stroke-width="1.3"/>
<line x1="453" y1="300.6" x2="453" y2="306.6" stroke="#c8b8ff" stroke-width="1.3"/>
<line x1="488.8" y1="303.6" x2="501.5" y2="303.6" stroke="#222" stroke-width="1.3"/>
<line x1="501.5" y1="300.6" x2="501.5" y2="306.6" stroke="#222" stroke-width="1.3"/>
<line x1="491" y1="301.1" x2="491" y2="306.1" stroke="#222" stroke-width="1.1"/>
<rect x="370" y="314.6" width="14.199999999999989" height="10" fill="#cccccc" stroke="none" stroke-width="1"/>
<rect x="384.2" y="314.6" width="52.69999999999999" height="10" fill="#b1d9d8" stroke="none" stroke-width="1"/>
<rect x="436.9" y="314.6" width="43.900000000000034" height="10" fill="#302284" stroke="none" stroke-width="1"/>
<rect x="480.8" y="314.6" width="8.0" height="10" fill="#050505" stroke="none" stroke-width="1"/>
<line x1="387.7" y1="319.6" x2="402.2" y2="319.6" stroke="#1c4a48" stroke-width="1.3"/>
<line x1="402.2" y1="316.6" x2="402.2" y2="322.6" stroke="#1c4a48" stroke-width="1.3"/>
<line x1="437.4" y1="319.6" x2="459.2" y2="319.6" stroke="#c8b8ff" stroke-width="1.3"/>
<line x1="459.2" y1="316.6" x2="459.2" y2="322.6" stroke="#c8b8ff" stroke-width="1.3"/>
<line x1="488.8" y1="319.6" x2="506.2" y2="319.6" stroke="#222" stroke-width="1.3"/>
<line x1="506.2" y1="316.6" x2="506.2" y2="322.6" stroke="#222" stroke-width="1.3"/>
<line x1="491" y1="317.1" x2="491" y2="322.1" stroke="#222" stroke-width="1.1"/>
<line x1="368.8" y1="232" x2="368.8" y2="327" stroke="#111" stroke-width="1.4"/>
<line x1="368.8" y1="327" x2="507" y2="327" stroke="#111" stroke-width="1.4"/>
<line x1="363.5" y1="239.6" x2="368.8" y2="239.6" stroke="#111" stroke-width="1.2"/>
<text x="362.3" y="241.9" font-size="8.0" text-anchor="end" fill="#222" stroke="#222" stroke-width="0.12">0</text>
<line x1="363.5" y1="255.6" x2="368.8" y2="255.6" stroke="#111" stroke-width="1.2"/>
<text x="362.3" y="257.9" font-size="8.0" text-anchor="end" fill="#222" stroke="#222" stroke-width="0.12">10</text>
<line x1="363.5" y1="271.6" x2="368.8" y2="271.6" stroke="#111" stroke-width="1.2"/>
<text x="362.3" y="273.90000000000003" font-size="8.0" text-anchor="end" fill="#222" stroke="#222" stroke-width="0.12">100</text>
<line x1="363.5" y1="287.6" x2="368.8" y2="287.6" stroke="#111" stroke-width="1.2"/>
<text x="362.3" y="289.90000000000003" font-size="8.0" text-anchor="end" fill="#222" stroke="#222" stroke-width="0.12">1000</text>
<line x1="363.5" y1="303.6" x2="368.8" y2="303.6" stroke="#111" stroke-width="1.2"/>
<text x="362.3" y="305.90000000000003" font-size="8.0" text-anchor="end" fill="#222" stroke="#222" stroke-width="0.12">5000</text>
<line x1="363.5" y1="319.6" x2="368.8" y2="319.6" stroke="#111" stroke-width="1.2"/>
<text x="362.3" y="321.90000000000003" font-size="8.0" text-anchor="end" fill="#222" stroke="#222" stroke-width="0.12">10000</text>
<line x1="369.5" y1="326.5" x2="369.5" y2="330" stroke="#111" stroke-width="1.2"/>
<text x="369.5" y="343.2" font-size="8.5" text-anchor="middle" fill="#222" stroke="#222" stroke-width="0.12">0</text>
<line x1="429.0" y1="326.5" x2="429.0" y2="330" stroke="#111" stroke-width="1.2"/>
<text x="429.0" y="343.2" font-size="8.5" text-anchor="middle" fill="#222" stroke="#222" stroke-width="0.12">50</text>
<line x1="488.5" y1="326.5" x2="488.5" y2="330" stroke="#111" stroke-width="1.2"/>
<text x="488.5" y="343.2" font-size="8.5" text-anchor="middle" fill="#222" stroke="#222" stroke-width="0.12">100</text>
<text x="429.5" y="355.6" font-size="8.8" text-anchor="middle" fill="#222" stroke="#222" stroke-width="0.12">%</text>
<text x="326.3" y="281" font-size="9.0" text-anchor="middle" fill="#222" stroke="#222" stroke-width="0.12" transform="rotate(-90 326.3 281)">Pacritinib (nM)</text>
<defs><linearGradient id="tri" x1="0" y1="0" x2="0" y2="1"><stop offset="0" stop-color="#ffffff"/><stop offset="0.2" stop-color="#fcf0f3"/><stop offset="0.5" stop-color="#eebcc8"/><stop offset="0.78" stop-color="#d0607e"/><stop offset="1" stop-color="#b00030"/></linearGradient></defs>
<polygon points="335,235 331.5,326.5 338.5,326.5" fill="url(#tri)"/>
<rect x="369.8" y="365.3" width="10.2" height="6" fill="#cccccc" stroke="none" stroke-width="1"/>
<text x="384" y="371" font-size="7.6" text-anchor="start" fill="#222" stroke="#222" stroke-width="0.12">Viable</text>
<rect x="369.8" y="374.8" width="10.2" height="6" fill="#b1d9d8" stroke="none" stroke-width="1"/>
<text x="384" y="380.5" font-size="7.6" text-anchor="start" fill="#222" stroke="#222" stroke-width="0.12">Early apoptosis</text>
<rect x="447.7" y="365.3" width="10.8" height="6" fill="#302284" stroke="none" stroke-width="1"/>
<text x="461.5" y="371" font-size="7.6" text-anchor="start" fill="#222" stroke="#222" stroke-width="0.12">Late apoptosis</text>
<rect x="447.7" y="374.8" width="10.8" height="6" fill="#050505" stroke="none" stroke-width="1"/>
<text x="461.5" y="380.5" font-size="7.6" text-anchor="start" fill="#222" stroke="#222" stroke-width="0.12">Necrosis</text>
<text x="7.5" y="408" font-size="12" text-anchor="start" font-weight="bold" fill="#111">D</text>
<text x="7" y="419.5" font-size="7.5" text-anchor="start" fill="#222" stroke="#222" stroke-width="0.12">No stimulation</text>
<text x="57.7" y="431.7" font-size="7.3" text-anchor="end" fill="#222" stroke="#222" stroke-width="0.12">CMML</text>
<text x="71.035" y="431.7" font-size="7.3" text-anchor="middle" fill="#222" stroke="#222" stroke-width="0.12">#18</text>
<text x="89.10499999999999" y="431.7" font-size="7.3" text-anchor="middle" fill="#222" stroke="#222" stroke-width="0.12">#35</text>
<text x="107.175" y="431.7" font-size="7.3" text-anchor="middle" fill="#222" stroke="#222" stroke-width="0.12">#36</text>
<text x="125.245" y="431.7" font-size="7.3" text-anchor="middle" fill="#222" stroke="#222" stroke-width="0.12">#37</text>
<text x="143.315" y="431.7" font-size="7.3" text-anchor="middle" fill="#222" stroke="#222" stroke-width="0.12">#38</text>
<text x="161.385" y="431.7" font-size="7.3" text-anchor="middle" fill="#222" stroke="#222" stroke-width="0.12">#39</text>
<text x="179.455" y="431.7" font-size="7.3" text-anchor="middle" fill="#222" stroke="#222" stroke-width="0.12">#40</text>
<text x="197.525" y="431.7" font-size="7.3" text-anchor="middle" fill="#222" stroke="#222" stroke-width="0.12">#41</text>
<text x="215.595" y="431.7" font-size="7.3" text-anchor="middle" fill="#222" stroke="#222" stroke-width="0.12">#42</text>
<text x="233.665" y="431.7" font-size="7.3" text-anchor="middle" fill="#222" stroke="#222" stroke-width="0.12">#43</text>
<rect x="62.0" y="436.3" width="18.07" height="8.97" fill="#d3d3d3" stroke="none" stroke-width="1"/>
<rect x="62.0" y="445.27000000000004" width="18.07" height="8.97" fill="#d3d3d3" stroke="none" stroke-width="1"/>
<rect x="62.0" y="454.24" width="18.07" height="8.97" fill="#f3f8fc" stroke="none" stroke-width="1"/>
<rect x="62.0" y="463.21000000000004" width="18.07" height="8.97" fill="#c2e4ea" stroke="none" stroke-width="1"/>
<rect x="62.0" y="472.18" width="18.07" height="8.97" fill="#86c6df" stroke="none" stroke-width="1"/>
<rect x="62.0" y="481.15000000000003" width="18.07" height="8.97" fill="#5470c4" stroke="none" stroke-width="1"/>
<rect x="80.07" y="436.3" width="18.07" height="8.97" fill="#d3d3d3" stroke="none" stroke-width="1"/>
<rect x="80.07" y="445.27000000000004" width="18.07" height="8.97" fill="#d3d3d3" stroke="none" stroke-width="1"/>
<rect x="80.07" y="454.24" width="18.07" height="8.97" fill="#f3f8fc" stroke="none" stroke-width="1"/>
<rect x="80.07" y="463.21000000000004" width="18.07" height="8.97" fill="#c2e4ea" stroke="none" stroke-width="1"/>
<rect x="80.07" y="472.18" width="18.07" height="8.97" fill="#f3f8fc" stroke="none" stroke-width="1"/>
<rect x="80.07" y="481.15000000000003" width="18.07" height="8.97" fill="#f3f8fc" stroke="none" stroke-width="1"/>
<rect x="98.14" y="436.3" width="18.07" height="8.97" fill="#d3d3d3" stroke="none" stroke-width="1"/>
<rect x="98.14" y="445.27000000000004" width="18.07" height="8.97" fill="#f3f8fc" stroke="none" stroke-width="1"/>
<rect x="98.14" y="454.24" width="18.07" height="8.97" fill="#86c6df" stroke="none" stroke-width="1"/>
<rect x="98.14" y="463.21000000000004" width="18.07" height="8.97" fill="#2c1a80" stroke="none" stroke-width="1"/>
<rect x="98.14" y="472.18" width="18.07" height="8.97" fill="#2c1a80" stroke="none" stroke-width="1"/>
<rect x="98.14" y="481.15000000000003" width="18.07" height="8.97" fill="#62a6e0" stroke="none" stroke-width="1"/>
<rect x="116.21000000000001" y="436.3" width="18.07" height="8.97" fill="#d3d3d3" stroke="none" stroke-width="1"/>
<rect x="116.21000000000001" y="445.27000000000004" width="18.07" height="8.97" fill="#d3d3d3" stroke="none" stroke-width="1"/>
<rect x="116.21000000000001" y="454.24" width="18.07" height="8.97" fill="#d3d3d3" stroke="none" stroke-width="1"/>
<rect x="116.21000000000001" y="463.21000000000004" width="18.07" height="8.97" fill="#d3d3d3" stroke="none" stroke-width="1"/>
<rect x="116.21000000000001" y="472.18" width="18.07" height="8.97" fill="#f3f8fc" stroke="none" stroke-width="1"/>
<rect x="116.21000000000001" y="481.15000000000003" width="18.07" height="8.97" fill="#d3d3d3" stroke="none" stroke-width="1"/>
<rect x="134.28" y="436.3" width="18.07" height="8.97" fill="#d3d3d3" stroke="none" stroke-width="1"/>
<rect x="134.28" y="445.27000000000004" width="18.07" height="8.97" fill="#f3f8fc" stroke="none" stroke-width="1"/>
<rect x="134.28" y="454.24" width="18.07" height="8.97" fill="#86c6df" stroke="none" stroke-width="1"/>
<rect x="134.28" y="463.21000000000004" width="18.07" height="8.97" fill="#62a6e0" stroke="none" stroke-width="1"/>
<rect x="134.28" y="472.18" width="18.07" height="8.97" fill="#5470c4" stroke="none" stroke-width="1"/>
<rect x="134.28" y="481.15000000000003" width="18.07" height="8.97" fill="#62a6e0" stroke="none" stroke-width="1"/>
<rect x="152.35" y="436.3" width="18.07" height="8.97" fill="#d3d3d3" stroke="none" stroke-width="1"/>
<rect x="152.35" y="445.27000000000004" width="18.07" height="8.97" fill="#d3d3d3" stroke="none" stroke-width="1"/>
<rect x="152.35" y="454.24" width="18.07" height="8.97" fill="#d3d3d3" stroke="none" stroke-width="1"/>
<rect x="152.35" y="463.21000000000004" width="18.07" height="8.97" fill="#d3d3d3" stroke="none" stroke-width="1"/>
<rect x="152.35" y="472.18" width="18.07" height="8.97" fill="#d4edf3" stroke="none" stroke-width="1"/>
<rect x="152.35" y="481.15000000000003" width="18.07" height="8.97" fill="#f3f8fc" stroke="none" stroke-width="1"/>
<rect x="170.42000000000002" y="436.3" width="18.07" height="8.97" fill="#d3d3d3" stroke="none" stroke-width="1"/>
<rect x="170.42000000000002" y="445.27000000000004" width="18.07" height="8.97" fill="#f3f8fc" stroke="none" stroke-width="1"/>
<rect x="170.42000000000002" y="454.24" width="18.07" height="8.97" fill="#d3d3d3" stroke="none" stroke-width="1"/>
<rect x="170.42000000000002" y="463.21000000000004" width="18.07" height="8.97" fill="#2c1a80" stroke="none" stroke-width="1"/>
<rect x="170.42000000000002" y="472.18" width="18.07" height="8.97" fill="#2c1a80" stroke="none" stroke-width="1"/>
<rect x="170.42000000000002" y="481.15000000000003" width="18.07" height="8.97" fill="#1e1460" stroke="none" stroke-width="1"/>
<rect x="188.49" y="436.3" width="18.07" height="8.97" fill="#d3d3d3" stroke="none" stroke-width="1"/>
<rect x="188.49" y="445.27000000000004" width="18.07" height="8.97" fill="#f3f8fc" stroke="none" stroke-width="1"/>
<rect x="188.49" y="454.24" width="18.07" height="8.97" fill="#c2e4ea" stroke="none" stroke-width="1"/>
<rect x="188.49" y="463.21000000000004" width="18.07" height="8.97" fill="#86c6df" stroke="none" stroke-width="1"/>
<rect x="188.49" y="472.18" width="18.07" height="8.97" fill="#62a6e0" stroke="none" stroke-width="1"/>
<rect x="188.49" y="481.15000000000003" width="18.07" height="8.97" fill="#5470c4" stroke="none" stroke-width="1"/>
<rect x="206.56" y="436.3" width="18.07" height="8.97" fill="#d3d3d3" stroke="none" stroke-width="1"/>
<rect x="206.56" y="445.27000000000004" width="18.07" height="8.97" fill="#f3f8fc" stroke="none" stroke-width="1"/>
<rect x="206.56" y="454.24" width="18.07" height="8.97" fill="#5470c4" stroke="none" stroke-width="1"/>
<rect x="206.56" y="463.21000000000004" width="18.07" height="8.97" fill="#2c1a80" stroke="none" stroke-width="1"/>
<rect x="206.56" y="472.18" width="18.07" height="8.97" fill="#2c1a80" stroke="none" stroke-width="1"/>
<rect x="206.56" y="481.15000000000003" width="18.07" height="8.97" fill="#1e1460" stroke="none" stroke-width="1"/>
<rect x="224.63" y="436.3" width="18.07" height="8.97" fill="#d3d3d3" stroke="none" stroke-width="1"/>
<rect x="224.63" y="445.27000000000004" width="18.07" height="8.97" fill="#f3f8fc" stroke="none" stroke-width="1"/>
<rect x="224.63" y="454.24" width="18.07" height="8.97" fill="#d3d3d3" stroke="none" stroke-width="1"/>
<rect x="224.63" y="463.21000000000004" width="18.07" height="8.97" fill="#5470c4" stroke="none" stroke-width="1"/>
<rect x="224.63" y="472.18" width="18.07" height="8.97" fill="#2c1a80" stroke="none" stroke-width="1"/>
<rect x="224.63" y="481.15000000000003" width="18.07" height="8.97" fill="#2c1a80" stroke="none" stroke-width="1"/>
<line x1="62" y1="436.3" x2="242.7" y2="436.3" stroke="#333" stroke-width="0.9"/>
<line x1="62" y1="445.27000000000004" x2="242.7" y2="445.27000000000004" stroke="#333" stroke-width="0.9"/>
<line x1="62" y1="454.24" x2="242.7" y2="454.24" stroke="#333" stroke-width="0.9"/>
<line x1="62" y1="463.21000000000004" x2="242.7" y2="463.21000000000004" stroke="#333" stroke-width="0.9"/>
<line x1="62" y1="472.18" x2="242.7" y2="472.18" stroke="#333" stroke-width="0.9"/>
<line x1="62" y1="481.15000000000003" x2="242.7" y2="481.15000000000003" stroke="#333" stroke-width="0.9"/>
<line x1="62" y1="490.12" x2="242.7" y2="490.12" stroke="#333" stroke-width="0.9"/>
<line x1="62.0" y1="436.3" x2="62.0" y2="490.12" stroke="#333" stroke-width="0.9"/>
<line x1="80.07" y1="436.3" x2="80.07" y2="490.12" stroke="#333" stroke-width="0.9"/>
<line x1="98.14" y1="436.3" x2="98.14" y2="490.12" stroke="#333" stroke-width="0.9"/>
<line x1="116.21000000000001" y1="436.3" x2="116.21000000000001" y2="490.12" stroke="#333" stroke-width="0.9"/>
<line x1="134.28" y1="436.3" x2="134.28" y2="490.12" stroke="#333" stroke-width="0.9"/>
<line x1="152.35" y1="436.3" x2="152.35" y2="490.12" stroke="#333" stroke-width="0.9"/>
<line x1="170.42000000000002" y1="436.3" x2="170.42000000000002" y2="490.12" stroke="#333" stroke-width="0.9"/>
<line x1="188.49" y1="436.3" x2="188.49" y2="490.12" stroke="#333" stroke-width="0.9"/>
<line x1="206.56" y1="436.3" x2="206.56" y2="490.12" stroke="#333" stroke-width="0.9"/>
<line x1="224.63" y1="436.3" x2="224.63" y2="490.12" stroke="#333" stroke-width="0.9"/>
<line x1="242.7" y1="436.3" x2="242.7" y2="490.12" stroke="#333" stroke-width="0.9"/>
<text x="57.7" y="443.38500000000005" font-size="7.3" text-anchor="end" fill="#222" stroke="#222" stroke-width="0.12">0</text>
<text x="57.7" y="452.3550000000001" font-size="7.3" text-anchor="end" fill="#222" stroke="#222" stroke-width="0.12">10</text>
<text x="57.7" y="461.32500000000005" font-size="7.3" text-anchor="end" fill="#222" stroke="#222" stroke-width="0.12">100</text>
<text x="57.7" y="470.2950000000001" font-size="7.3" text-anchor="end" fill="#222" stroke="#222" stroke-width="0.12">1000</text>
<text x="57.7" y="479.26500000000004" font-size="7.3" text-anchor="end" fill="#222" stroke="#222" stroke-width="0.12">5000</text>
<text x="57.7" y="488.23500000000007" font-size="7.3" text-anchor="end" fill="#222" stroke="#222" stroke-width="0.12">10000</text>
<polygon points="27.7,436.3 24,490.12 31.4,490.12" fill="url(#tri)"/>
<text x="18.3" y="463.21000000000004" font-size="9.0" text-anchor="middle" fill="#222" stroke="#222" stroke-width="0.12" transform="rotate(-90 18.3 463.21000000000004)">Pacritinib (nM)</text>
<text x="7" y="509.5" font-size="7.5" text-anchor="start" fill="#222" stroke="#222" stroke-width="0.12">GM-CSF stimulation</text>
<text x="57.7" y="520.6" font-size="7.3" text-anchor="end" fill="#222" stroke="#222" stroke-width="0.12">CMML</text>
<text x="71.035" y="520.6" font-size="7.3" text-anchor="middle" fill="#222" stroke="#222" stroke-width="0.12">#18</text>
<text x="89.10499999999999" y="520.6" font-size="7.3" text-anchor="middle" fill="#222" stroke="#222" stroke-width="0.12">#35</text>
<text x="107.175" y="520.6" font-size="7.3" text-anchor="middle" fill="#222" stroke="#222" stroke-width="0.12">#36</text>
<text x="125.245" y="520.6" font-size="7.3" text-anchor="middle" fill="#222" stroke="#222" stroke-width="0.12">#37</text>
<text x="143.315" y="520.6" font-size="7.3" text-anchor="middle" fill="#222" stroke="#222" stroke-width="0.12">#38</text>
<text x="161.385" y="520.6" font-size="7.3" text-anchor="middle" fill="#222" stroke="#222" stroke-width="0.12">#39</text>
<text x="179.455" y="520.6" font-size="7.3" text-anchor="middle" fill="#222" stroke="#222" stroke-width="0.12">#40</text>
<text x="197.525" y="520.6" font-size="7.3" text-anchor="middle" fill="#222" stroke="#222" stroke-width="0.12">#41</text>
<text x="215.595" y="520.6" font-size="7.3" text-anchor="middle" fill="#222" stroke="#222" stroke-width="0.12">#42</text>
<text x="233.665" y="520.6" font-size="7.3" text-anchor="middle" fill="#222" stroke="#222" stroke-width="0.12">#43</text>
<rect x="62.0" y="525.2" width="18.07" height="8.97" fill="#d3d3d3" stroke="none" stroke-width="1"/>
<rect x="62.0" y="534.1700000000001" width="18.07" height="8.97" fill="#86c6df" stroke="none" stroke-width="1"/>
<rect x="62.0" y="543.1400000000001" width="18.07" height="8.97" fill="#f3f8fc" stroke="none" stroke-width="1"/>
<rect x="62.0" y="552.11" width="18.07" height="8.97" fill="#d3d3d3" stroke="none" stroke-width="1"/>
<rect x="62.0" y="561.08" width="18.07" height="8.97" fill="#f3f8fc" stroke="none" stroke-width="1"/>
<rect x="62.0" y="570.0500000000001" width="18.07" height="8.97" fill="#f3f8fc" stroke="none" stroke-width="1"/>
<rect x="80.07" y="525.2" width="18.07" height="8.97" fill="#d3d3d3" stroke="none" stroke-width="1"/>
<rect x="80.07" y="534.1700000000001" width="18.07" height="8.97" fill="#d3d3d3" stroke="none" stroke-width="1"/>
<rect x="80.07" y="543.1400000000001" width="18.07" height="8.97" fill="#d3d3d3" stroke="none" stroke-width="1"/>
<rect x="80.07" y="552.11" width="18.07" height="8.97" fill="#f3f8fc" stroke="none" stroke-width="1"/>
<rect x="80.07" y="561.08" width="18.07" height="8.97" fill="#f3f8fc" stroke="none" stroke-width="1"/>
<rect x="80.07" y="570.0500000000001" width="18.07" height="8.97" fill="#62a6e0" stroke="none" stroke-width="1"/>
<rect x="98.14" y="525.2" width="18.07" height="8.97" fill="#cfd6de" stroke="none" stroke-width="1"/>
<rect x="98.14" y="534.1700000000001" width="18.07" height="8.97" fill="#86c6df" stroke="none" stroke-width="1"/>
<rect x="98.14" y="543.1400000000001" width="18.07" height="8.97" fill="#62a6e0" stroke="none" stroke-width="1"/>
<rect x="98.14" y="552.11" width="18.07" height="8.97" fill="#2c1a80" stroke="none" stroke-width="1"/>
<rect x="98.14" y="561.08" width="18.07" height="8.97" fill="#1e1460" stroke="none" stroke-width="1"/>
<rect x="98.14" y="570.0500000000001" width="18.07" height="8.97" fill="#2c1a80" stroke="none" stroke-width="1"/>
<rect x="116.21000000000001" y="525.2" width="18.07" height="8.97" fill="#d3d3d3" stroke="none" stroke-width="1"/>
<rect x="116.21000000000001" y="534.1700000000001" width="18.07" height="8.97" fill="#62a6e0" stroke="none" stroke-width="1"/>
<rect x="116.21000000000001" y="543.1400000000001" width="18.07" height="8.97" fill="#d3d3d3" stroke="none" stroke-width="1"/>
<rect x="116.21000000000001" y="552.11" width="18.07" height="8.97" fill="#d3d3d3" stroke="none" stroke-width="1"/>
<rect x="116.21000000000001" y="561.08" width="18.07" height="8.97" fill="#d3d3d3" stroke="none" stroke-width="1"/>
<rect x="116.21000000000001" y="570.0500000000001" width="18.07" height="8.97" fill="#d3d3d3" stroke="none" stroke-width="1"/>
<rect x="134.28" y="525.2" width="18.07" height="8.97" fill="#d3d3d3" stroke="none" stroke-width="1"/>
<rect x="134.28" y="534.1700000000001" width="18.07" height="8.97" fill="#d3d3d3" stroke="none" stroke-width="1"/>
<rect x="134.28" y="543.1400000000001" width="18.07" height="8.97" fill="#d3d3d3" stroke="none" stroke-width="1"/>
<rect x="134.28" y="552.11" width="18.07" height="8.97" fill="#86c6df" stroke="none" stroke-width="1"/>
<rect x="134.28" y="561.08" width="18.07" height="8.97" fill="#62a6e0" stroke="none" stroke-width="1"/>
<rect x="134.28" y="570.0500000000001" width="18.07" height="8.97" fill="#5470c4" stroke="none" stroke-width="1"/>
<rect x="152.35" y="525.2" width="18.07" height="8.97" fill="#d3d3d3" stroke="none" stroke-width="1"/>
<rect x="152.35" y="534.1700000000001" width="18.07" height="8.97" fill="#d3d3d3" stroke="none" stroke-width="1"/>
<rect x="152.35" y="543.1400000000001" width="18.07" height="8.97" fill="#d3d3d3" stroke="none" stroke-width="1"/>
<rect x="152.35" y="552.11" width="18.07" height="8.97" fill="#d3d3d3" stroke="none" stroke-width="1"/>
<rect x="152.35" y="561.08" width="18.07" height="8.97" fill="#86c6df" stroke="none" stroke-width="1"/>
<rect x="152.35" y="570.0500000000001" width="18.07" height="8.97" fill="#d3d3d3" stroke="none" stroke-width="1"/>
<rect x="170.42000000000002" y="525.2" width="18.07" height="8.97" fill="#d3d3d3" stroke="none" stroke-width="1"/>
<rect x="170.42000000000002" y="534.1700000000001" width="18.07" height="8.97" fill="#f3f8fc" stroke="none" stroke-width="1"/>
<rect x="170.42000000000002" y="543.1400000000001" width="18.07" height="8.97" fill="#f3f8fc" stroke="none" stroke-width="1"/>
<rect x="170.42000000000002" y="552.11" width="18.07" height="8.97" fill="#2c1a80" stroke="none" stroke-width="1"/>
<rect x="170.42000000000002" y="561.08" width="18.07" height="8.97" fill="#5470c4" stroke="none" stroke-width="1"/>
<rect x="170.42000000000002" y="570.0500000000001" width="18.07" height="8.97" fill="#1e1460" stroke="none" stroke-width="1"/>
<rect x="188.49" y="525.2" width="18.07" height="8.97" fill="#d3d3d3" stroke="none" stroke-width="1"/>
<rect x="188.49" y="534.1700000000001" width="18.07" height="8.97" fill="#f3f8fc" stroke="none" stroke-width="1"/>
<rect x="188.49" y="543.1400000000001" width="18.07" height="8.97" fill="#d3d3d3" stroke="none" stroke-width="1"/>
<rect x="188.49" y="552.11" width="18.07" height="8.97" fill="#86c6df" stroke="none" stroke-width="1"/>
<rect x="188.49" y="561.08" width="18.07" height="8.97" fill="#62a6e0" stroke="none" stroke-width="1"/>
<rect x="188.49" y="570.0500000000001" width="18.07" height="8.97" fill="#5470c4" stroke="none" stroke-width="1"/>
<rect x="206.56" y="525.2" width="18.07" height="8.97" fill="#d3d3d3" stroke="none" stroke-width="1"/>
<rect x="206.56" y="534.1700000000001" width="18.07" height="8.97" fill="#f3f8fc" stroke="none" stroke-width="1"/>
<rect x="206.56" y="543.1400000000001" width="18.07" height="8.97" fill="#2c1a80" stroke="none" stroke-width="1"/>
<rect x="206.56" y="552.11" width="18.07" height="8.97" fill="#1e1460" stroke="none" stroke-width="1"/>
<rect x="206.56" y="561.08" width="18.07" height="8.97" fill="#2c1a80" stroke="none" stroke-width="1"/>
<rect x="206.56" y="570.0500000000001" width="18.07" height="8.97" fill="#5470c4" stroke="none" stroke-width="1"/>
<rect x="224.63" y="525.2" width="18.07" height="8.97" fill="#d3d3d3" stroke="none" stroke-width="1"/>
<rect x="224.63" y="534.1700000000001" width="18.07" height="8.97" fill="#f3f8fc" stroke="none" stroke-width="1"/>
<rect x="224.63" y="543.1400000000001" width="18.07" height="8.97" fill="#f3f8fc" stroke="none" stroke-width="1"/>
<rect x="224.63" y="552.11" width="18.07" height="8.97" fill="#2c1a80" stroke="none" stroke-width="1"/>
<rect x="224.63" y="561.08" width="18.07" height="8.97" fill="#5470c4" stroke="none" stroke-width="1"/>
<rect x="224.63" y="570.0500000000001" width="18.07" height="8.97" fill="#2c1a80" stroke="none" stroke-width="1"/>
<line x1="62" y1="525.2" x2="242.7" y2="525.2" stroke="#333" stroke-width="0.9"/>
<line x1="62" y1="534.1700000000001" x2="242.7" y2="534.1700000000001" stroke="#333" stroke-width="0.9"/>
<line x1="62" y1="543.1400000000001" x2="242.7" y2="543.1400000000001" stroke="#333" stroke-width="0.9"/>
<line x1="62" y1="552.11" x2="242.7" y2="552.11" stroke="#333" stroke-width="0.9"/>
<line x1="62" y1="561.08" x2="242.7" y2="561.08" stroke="#333" stroke-width="0.9"/>
<line x1="62" y1="570.0500000000001" x2="242.7" y2="570.0500000000001" stroke="#333" stroke-width="0.9"/>
<line x1="62" y1="579.0200000000001" x2="242.7" y2="579.0200000000001" stroke="#333" stroke-width="0.9"/>
<line x1="62.0" y1="525.2" x2="62.0" y2="579.0200000000001" stroke="#333" stroke-width="0.9"/>
<line x1="80.07" y1="525.2" x2="80.07" y2="579.0200000000001" stroke="#333" stroke-width="0.9"/>
<line x1="98.14" y1="525.2" x2="98.14" y2="579.0200000000001" stroke="#333" stroke-width="0.9"/>
<line x1="116.21000000000001" y1="525.2" x2="116.21000000000001" y2="579.0200000000001" stroke="#333" stroke-width="0.9"/>
<line x1="134.28" y1="525.2" x2="134.28" y2="579.0200000000001" stroke="#333" stroke-width="0.9"/>
<line x1="152.35" y1="525.2" x2="152.35" y2="579.0200000000001" stroke="#333" stroke-width="0.9"/>
<line x1="170.42000000000002" y1="525.2" x2="170.42000000000002" y2="579.0200000000001" stroke="#333" stroke-width="0.9"/>
<line x1="188.49" y1="525.2" x2="188.49" y2="579.0200000000001" stroke="#333" stroke-width="0.9"/>
<line x1="206.56" y1="525.2" x2="206.56" y2="579.0200000000001" stroke="#333" stroke-width="0.9"/>
<line x1="224.63" y1="525.2" x2="224.63" y2="579.0200000000001" stroke="#333" stroke-width="0.9"/>
<line x1="242.7" y1="525.2" x2="242.7" y2="579.0200000000001" stroke="#333" stroke-width="0.9"/>
<text x="57.7" y="532.2850000000001" font-size="7.3" text-anchor="end" fill="#222" stroke="#222" stroke-width="0.12">0</text>
<text x="57.7" y="541.2550000000001" font-size="7.3" text-anchor="end" fill="#222" stroke="#222" stroke-width="0.12">10</text>
<text x="57.7" y="550.2250000000001" font-size="7.3" text-anchor="end" fill="#222" stroke="#222" stroke-width="0.12">100</text>
<text x="57.7" y="559.195" font-size="7.3" text-anchor="end" fill="#222" stroke="#222" stroke-width="0.12">1000</text>
<text x="57.7" y="568.1650000000001" font-size="7.3" text-anchor="end" fill="#222" stroke="#222" stroke-width="0.12">5000</text>
<text x="57.7" y="577.1350000000001" font-size="7.3" text-anchor="end" fill="#222" stroke="#222" stroke-width="0.12">10000</text>
<polygon points="27.7,525.2 24,579.0200000000001 31.4,579.0200000000001" fill="url(#tri)"/>
<text x="18.3" y="552.11" font-size="9.0" text-anchor="middle" fill="#222" stroke="#222" stroke-width="0.12" transform="rotate(-90 18.3 552.11)">Pacritinib (nM)</text>
<text x="256" y="477" font-size="7.5" text-anchor="start" fill="#222" stroke="#222" stroke-width="0.12">pStat5</text>
<rect x="256.3" y="486.3" width="13.9" height="2.669230769230768" fill="#d8d8d8" stroke="#333" stroke-width="0.6"/>
<rect x="256.3" y="488.96923076923076" width="13.9" height="2.669230769230768" fill="#f4f4f4" stroke="#333" stroke-width="0.6"/>
<rect x="256.3" y="491.63846153846157" width="13.9" height="2.669230769230768" fill="#ffffff" stroke="#333" stroke-width="0.6"/>
<rect x="256.3" y="494.3076923076923" width="13.9" height="2.669230769230768" fill="#ffffff" stroke="#333" stroke-width="0.6"/>
<rect x="256.3" y="496.9769230769231" width="13.9" height="2.669230769230768" fill="#e0f4f8" stroke="#333" stroke-width="0.6"/>
<rect x="256.3" y="499.6461538461539" width="13.9" height="2.669230769230768" fill="#b8e4ee" stroke="#333" stroke-width="0.6"/>
<rect x="256.3" y="502.31538461538463" width="13.9" height="2.669230769230768" fill="#86cbe2" stroke="#333" stroke-width="0.6"/>
<rect x="256.3" y="504.9846153846154" width="13.9" height="2.669230769230768" fill="#72a8dc" stroke="#333" stroke-width="0.6"/>
<rect x="256.3" y="507.65384615384613" width="13.9" height="2.669230769230768" fill="#5a7ccc" stroke="#333" stroke-width="0.6"/>
<rect x="256.3" y="510.32307692307694" width="13.9" height="2.669230769230768" fill="#3c3ca6" stroke="#333" stroke-width="0.6"/>
<rect x="256.3" y="512.9923076923077" width="13.9" height="2.669230769230768" fill="#2a1a84" stroke="#333" stroke-width="0.6"/>
<rect x="256.3" y="515.6615384615385" width="13.9" height="2.669230769230768" fill="#20146a" stroke="#333" stroke-width="0.6"/>
<rect x="256.3" y="518.3307692307692" width="13.9" height="2.669230769230768" fill="#180e52" stroke="#333" stroke-width="0.6"/>
<text x="274.4" y="490" font-size="6.35" text-anchor="start" fill="#222" stroke="#222" stroke-width="0.12">100% (baseline)</text>
<text x="272.7" y="523.5" font-size="6.5" text-anchor="start" fill="#222" stroke="#222" stroke-width="0.12">25%</text>
<text x="335.8" y="408.1" font-size="12" text-anchor="start" font-weight="bold" fill="#111">E</text>
<line x1="367" y1="417.2" x2="367" y2="525.2" stroke="#111" stroke-width="1.4"/>
<line x1="367" y1="525.2" x2="491.3" y2="525.2" stroke="#111" stroke-width="1.4"/>
<line x1="363.5" y1="525.2" x2="367" y2="525.2" stroke="#111" stroke-width="1.2"/>
<text x="361" y="528.0" font-size="7.8" text-anchor="end" fill="#222" stroke="#222" stroke-width="0.12">0</text>
<line x1="363.5" y1="489.80000000000007" x2="367" y2="489.80000000000007" stroke="#111" stroke-width="1.2"/>
<text x="361" y="492.6000000000001" font-size="7.8" text-anchor="end" fill="#222" stroke="#222" stroke-width="0.12">100</text>
<line x1="363.5" y1="454.40000000000003" x2="367" y2="454.40000000000003" stroke="#111" stroke-width="1.2"/>
<text x="361" y="457.20000000000005" font-size="7.8" text-anchor="end" fill="#222" stroke="#222" stroke-width="0.12">200</text>
<line x1="363.5" y1="419.00000000000006" x2="367" y2="419.00000000000006" stroke="#111" stroke-width="1.2"/>
<text x="361" y="421.80000000000007" font-size="7.8" text-anchor="end" fill="#222" stroke="#222" stroke-width="0.12">300</text>
<line x1="398.5" y1="525.2" x2="398.5" y2="528.5" stroke="#111" stroke-width="1.2"/>
<line x1="461" y1="525.2" x2="461" y2="528.5" stroke="#111" stroke-width="1.2"/>
<text x="398.5" y="539.3" font-size="8.5" text-anchor="middle" fill="#222" stroke="#222" stroke-width="0.12">DMSO</text>
<text x="462" y="539.3" font-size="8.2" text-anchor="middle" fill="#4a4a9a" stroke="#4a4a9a" stroke-width="0.12">Pacritinib 1 &#956;M</text>
<text x="342.3" y="471" font-size="8.55" text-anchor="middle" fill="#222" stroke="#222" stroke-width="0.12" transform="rotate(-90 342.3 471)">CFU-GM colony number</text>
<line x1="398.7" y1="439.53200000000004" x2="398.7" y2="473.87000000000006" stroke="#a3283a" stroke-width="1.3"/>
<line x1="388.5" y1="439.53200000000004" x2="409.2" y2="439.53200000000004" stroke="#a3283a" stroke-width="1.3"/>
<line x1="398.7" y1="497.23400000000004" x2="398.7" y2="501.482" stroke="#a3283a" stroke-width="1.3"/>
<line x1="388.5" y1="501.482" x2="409.2" y2="501.482" stroke="#a3283a" stroke-width="1.3"/>
<rect x="378" y="473.87000000000006" width="41.8" height="23.363999999999976" fill="#d08478" stroke="#a3283a" stroke-width="1.3"/>
<line x1="378" y1="486.9680000000001" x2="419.8" y2="486.9680000000001" stroke="#a3283a" stroke-width="1.6"/>
<line x1="461.5" y1="484.136" x2="461.5" y2="484.84400000000005" stroke="#3a4f8e" stroke-width="1.3"/>
<line x1="451.5" y1="484.136" x2="471.5" y2="484.136" stroke="#3a4f8e" stroke-width="1.3"/>
<line x1="461.5" y1="509.624" x2="461.5" y2="512.456" stroke="#3a4f8e" stroke-width="1.3"/>
<line x1="451.5" y1="512.456" x2="471.5" y2="512.456" stroke="#3a4f8e" stroke-width="1.3"/>
<rect x="440.4" y="484.84400000000005" width="42.3" height="24.779999999999973" fill="#8796c4" stroke="#3a4f8e" stroke-width="1.3"/>
<line x1="440.4" y1="497.23400000000004" x2="482.7" y2="497.23400000000004" stroke="#3a4f8e" stroke-width="1.6"/>
<polyline points="398.7,431.6 398.7,424.8 461.5,424.8 461.5,431.7" fill="none" stroke="#222" stroke-width="1.3"/>
<text x="430.3" y="420.5" font-size="7.3" text-anchor="middle" fill="#222" stroke="#222" stroke-width="0.12"><tspan font-size="5.5" dy="-1.5">*</tspan><tspan dy="1.5">p=0.01</tspan></text>
<text x="18" y="597.2" font-size="12" text-anchor="start" font-weight="bold" fill="#111">F</text>
<line x1="57.2" y1="611" x2="57.2" y2="728.45" stroke="#111" stroke-width="1.4"/>
<line x1="57.2" y1="728.45" x2="200" y2="728.45" stroke="#111" stroke-width="1.4"/>
<line x1="52.5" y1="728.45" x2="57.2" y2="728.45" stroke="#111" stroke-width="1.2"/>
<text x="51.2" y="731.35" font-size="8.1" text-anchor="end" fill="#222" stroke="#222" stroke-width="0.12">-5</text>
<line x1="52.5" y1="715.8000000000001" x2="57.2" y2="715.8000000000001" stroke="#111" stroke-width="1.2"/>
<text x="51.2" y="718.7" font-size="8.1" text-anchor="end" fill="#222" stroke="#222" stroke-width="0.12">-4</text>
<line x1="52.5" y1="703.1500000000001" x2="57.2" y2="703.1500000000001" stroke="#111" stroke-width="1.2"/>
<text x="51.2" y="706.0500000000001" font-size="8.1" text-anchor="end" fill="#222" stroke="#222" stroke-width="0.12">-3</text>
<line x1="52.5" y1="690.5" x2="57.2" y2="690.5" stroke="#111" stroke-width="1.2"/>
<text x="51.2" y="693.4" font-size="8.1" text-anchor="end" fill="#222" stroke="#222" stroke-width="0.12">-2</text>
<line x1="52.5" y1="677.85" x2="57.2" y2="677.85" stroke="#111" stroke-width="1.2"/>
<text x="51.2" y="680.75" font-size="8.1" text-anchor="end" fill="#222" stroke="#222" stroke-width="0.12">-1</text>
<line x1="52.5" y1="665.2" x2="57.2" y2="665.2" stroke="#111" stroke-width="1.2"/>
<text x="51.2" y="668.1" font-size="8.1" text-anchor="end" fill="#222" stroke="#222" stroke-width="0.12">0</text>
<line x1="52.5" y1="652.5500000000001" x2="57.2" y2="652.5500000000001" stroke="#111" stroke-width="1.2"/>
<text x="51.2" y="655.45" font-size="8.1" text-anchor="end" fill="#222" stroke="#222" stroke-width="0.12">1</text>
<line x1="52.5" y1="639.9000000000001" x2="57.2" y2="639.9000000000001" stroke="#111" stroke-width="1.2"/>
<text x="51.2" y="642.8000000000001" font-size="8.1" text-anchor="end" fill="#222" stroke="#222" stroke-width="0.12">2</text>
<line x1="52.5" y1="627.25" x2="57.2" y2="627.25" stroke="#111" stroke-width="1.2"/>
<text x="51.2" y="630.15" font-size="8.1" text-anchor="end" fill="#222" stroke="#222" stroke-width="0.12">3</text>
<line x1="52.5" y1="614.6" x2="57.2" y2="614.6" stroke="#111" stroke-width="1.2"/>
<text x="51.2" y="617.5" font-size="8.1" text-anchor="end" fill="#222" stroke="#222" stroke-width="0.12">4</text>
<rect x="61.699999999999996" y="665.2" width="19.2" height="58.190000000000055" fill="#a50a26" stroke="#6a0a18" stroke-width="0.9"/>
<text x="71.3" y="610" font-size="7.3" text-anchor="middle" fill="#222" stroke="#222" stroke-width="0.12">n=2</text>
<line x1="71.3" y1="728.45" x2="71.3" y2="731.75" stroke="#111" stroke-width="1.2"/>
<text x="71.3" y="741.8" font-size="7.5" text-anchor="middle" fill="#222" stroke="#222" stroke-width="0.12">#27</text>
<rect x="90.2" y="665.2" width="19.2" height="29.095000000000027" fill="#a50a26" stroke="#6a0a18" stroke-width="0.9"/>
<text x="99.8" y="610" font-size="7.3" text-anchor="middle" fill="#222" stroke="#222" stroke-width="0.12">n=4</text>
<line x1="99.8" y1="728.45" x2="99.8" y2="731.75" stroke="#111" stroke-width="1.2"/>
<text x="99.8" y="741.8" font-size="7.5" text-anchor="middle" fill="#222" stroke="#222" stroke-width="0.12">#31</text>
<rect x="118.9" y="665.2" width="19.2" height="10.120000000000005" fill="#a50a26" stroke="#6a0a18" stroke-width="0.9"/>
<text x="128.5" y="610" font-size="7.3" text-anchor="middle" fill="#222" stroke="#222" stroke-width="0.12">n=4</text>
<line x1="128.5" y1="728.45" x2="128.5" y2="731.75" stroke="#111" stroke-width="1.2"/>
<text x="128.5" y="741.8" font-size="7.5" text-anchor="middle" fill="#222" stroke="#222" stroke-width="0.12">#33</text>
<rect x="147.9" y="665.2" width="19.2" height="10.120000000000005" fill="#a50a26" stroke="#6a0a18" stroke-width="0.9"/>
<line x1="157.5" y1="675.32" x2="157.5" y2="682.2775" stroke="#222" stroke-width="1.3"/>
<line x1="152.2" y1="682.2775" x2="162.8" y2="682.2775" stroke="#222" stroke-width="1.3"/>
<text x="157.5" y="610" font-size="7.3" text-anchor="middle" fill="#222" stroke="#222" stroke-width="0.12">n=4</text>
<line x1="157.5" y1="728.45" x2="157.5" y2="731.75" stroke="#111" stroke-width="1.2"/>
<text x="157.5" y="741.8" font-size="7.5" text-anchor="middle" fill="#222" stroke="#222" stroke-width="0.12">#29</text>
<rect x="176.4" y="630.4125" width="19.2" height="34.78750000000002" fill="#2c4a8a" stroke="#1a2a5a" stroke-width="0.9"/>
<line x1="186" y1="630.4125" x2="186" y2="617.7625" stroke="#222" stroke-width="1.3"/>
<line x1="180.7" y1="617.7625" x2="191.3" y2="617.7625" stroke="#222" stroke-width="1.3"/>
<text x="186" y="610" font-size="7.3" text-anchor="middle" fill="#222" stroke="#222" stroke-width="0.12">n=4</text>
<line x1="186" y1="728.45" x2="186" y2="731.75" stroke="#111" stroke-width="1.2"/>
<text x="186" y="741.8" font-size="7.5" text-anchor="middle" fill="#222" stroke="#222" stroke-width="0.12">#34</text>
<line x1="57.2" y1="665.2" x2="200" y2="665.2" stroke="#111" stroke-width="1.4"/>
<text x="55.4" y="741.8" font-size="7.5" text-anchor="end" fill="#222" stroke="#222" stroke-width="0.12">CMML</text>
<text x="26.3" y="670.3" font-size="8.5" text-anchor="middle" fill="#222" stroke="#222" stroke-width="0.12" transform="rotate(-90 26.3 670.3)">Log<tspan font-size="6.3" dy="2">2</tspan><tspan dy="-2"> hCD45+ cells in BM</tspan></text>
<text x="37.6" y="669.8" font-size="8.85" text-anchor="middle" fill="#222" stroke="#222" stroke-width="0.12" transform="rotate(-90 37.6 669.8)">(pacritinib / vehicle)</text>
<text x="43.5" y="761.6" font-size="7.65" fill="#222" stroke="#222" stroke-width="0.12">CMML #27: <tspan font-style="italic">EZH2, KIT, TET2</tspan>, 47,XY, +8</text>
<text x="43.5" y="771.6" font-size="7.65" fill="#222" stroke="#222" stroke-width="0.12">CMML #31: <tspan font-style="italic">CBL, SRSF2, TET2</tspan></text>
<text x="43.5" y="781.6" font-size="7.65" fill="#222" stroke="#222" stroke-width="0.12">CMML #33: <tspan font-style="italic">SRSF2, TET2</tspan></text>
<text x="43.5" y="791.6" font-size="7.65" fill="#222" stroke="#222" stroke-width="0.12">CMML #29: <tspan font-style="italic">NRAS, SETBP1, SRSF2, TP53</tspan></text>
<text x="43.5" y="801.6" font-size="7.65" fill="#222" stroke="#222" stroke-width="0.12">CMML #34: <tspan font-style="italic">NRAS, SF3B1, TET2</tspan></text>
<text x="19.4" y="828" font-size="12" text-anchor="start" font-weight="bold" fill="#111">H</text>
<line x1="47" y1="838.3" x2="47" y2="943.2" stroke="#111" stroke-width="1.4"/>
<line x1="47" y1="943.2" x2="175.5" y2="943.2" stroke="#111" stroke-width="1.4"/>
<line x1="43.5" y1="943.2" x2="47" y2="943.2" stroke="#111" stroke-width="1.2"/>
<text x="41" y="946.1" font-size="8.1" text-anchor="end" fill="#222" stroke="#222" stroke-width="0.12">0</text>
<line x1="43.5" y1="917.6" x2="47" y2="917.6" stroke="#111" stroke-width="1.2"/>
<text x="41" y="920.5" font-size="8.1" text-anchor="end" fill="#222" stroke="#222" stroke-width="0.12">20</text>
<line x1="43.5" y1="892.0" x2="47" y2="892.0" stroke="#111" stroke-width="1.2"/>
<text x="41" y="894.9" font-size="8.1" text-anchor="end" fill="#222" stroke="#222" stroke-width="0.12">40</text>
<line x1="43.5" y1="866.4000000000001" x2="47" y2="866.4000000000001" stroke="#111" stroke-width="1.2"/>
<text x="41" y="869.3000000000001" font-size="8.1" text-anchor="end" fill="#222" stroke="#222" stroke-width="0.12">60</text>
<line x1="43.5" y1="840.8000000000001" x2="47" y2="840.8000000000001" stroke="#111" stroke-width="1.2"/>
<text x="41" y="843.7" font-size="8.1" text-anchor="end" fill="#222" stroke="#222" stroke-width="0.12">80</text>
<text x="26" y="889.5" font-size="8.85" text-anchor="middle" fill="#222" stroke="#222" stroke-width="0.12" transform="rotate(-90 26 889.5)">hCD45+ cells (%)</text>
<line x1="62.9" y1="904.288" x2="62.9" y2="854.24" stroke="#222" stroke-width="1.3"/>
<line x1="57.199999999999996" y1="854.24" x2="68.6" y2="854.24" stroke="#222" stroke-width="1.3"/>
<rect x="52.0" y="904.288" width="21.8" height="38.912000000000035" fill="#c9524e" stroke="#9a2230" stroke-width="1.0"/>
<line x1="62.9" y1="943.2" x2="62.9" y2="946.8" stroke="#111" stroke-width="1.2"/>
<text x="62.4" y="952.5" font-size="7.9" text-anchor="end" fill="#222" stroke="#222" stroke-width="0.12" transform="rotate(-43 62.4 952.5)">vehicle</text>
<text x="69.9" y="958.8" font-size="7.9" text-anchor="end" fill="#222" stroke="#222" stroke-width="0.12" transform="rotate(-43 69.9 958.8)">(n=9)</text>
<line x1="95.2" y1="920.1600000000001" x2="95.2" y2="889.44" stroke="#222" stroke-width="1.3"/>
<line x1="89.5" y1="889.44" x2="100.9" y2="889.44" stroke="#222" stroke-width="1.3"/>
<rect x="84.3" y="920.1600000000001" width="21.8" height="23.039999999999964" fill="#6474ac" stroke="#3a4a84" stroke-width="1.0"/>
<line x1="95.2" y1="943.2" x2="95.2" y2="946.8" stroke="#111" stroke-width="1.2"/>
<text x="94.7" y="952.5" font-size="7.9" text-anchor="end" fill="#4a4a9a" stroke="#4a4a9a" stroke-width="0.12" transform="rotate(-43 94.7 952.5)">pacritinib</text>
<text x="102.2" y="958.8" font-size="7.9" text-anchor="end" fill="#4a4a9a" stroke="#4a4a9a" stroke-width="0.12" transform="rotate(-43 102.2 958.8)">(n=9)</text>
<line x1="127.1" y1="914.272" x2="127.1" y2="868.576" stroke="#222" stroke-width="1.3"/>
<line x1="121.39999999999999" y1="868.576" x2="132.79999999999998" y2="868.576" stroke="#222" stroke-width="1.3"/>
<rect x="116.19999999999999" y="914.272" width="21.8" height="28.927999999999997" fill="#c9524e" stroke="#9a2230" stroke-width="1.0"/>
<line x1="127.1" y1="943.2" x2="127.1" y2="946.8" stroke="#111" stroke-width="1.2"/>
<text x="126.6" y="952.5" font-size="7.9" text-anchor="end" fill="#222" stroke="#222" stroke-width="0.12" transform="rotate(-43 126.6 952.5)">vehicle</text>
<text x="134.1" y="958.8" font-size="7.9" text-anchor="end" fill="#222" stroke="#222" stroke-width="0.12" transform="rotate(-43 134.1 958.8)">(n=9)</text>
<line x1="159.25" y1="929.12" x2="159.25" y2="909.5360000000001" stroke="#222" stroke-width="1.3"/>
<line x1="153.55" y1="909.5360000000001" x2="164.95" y2="909.5360000000001" stroke="#222" stroke-width="1.3"/>
<rect x="148.35" y="929.12" width="21.8" height="14.080000000000041" fill="#6474ac" stroke="#3a4a84" stroke-width="1.0"/>
<line x1="159.25" y1="943.2" x2="159.25" y2="946.8" stroke="#111" stroke-width="1.2"/>
<text x="158.75" y="952.5" font-size="7.9" text-anchor="end" fill="#4a4a9a" stroke="#4a4a9a" stroke-width="0.12" transform="rotate(-43 158.75 952.5)">pacritinib</text>
<text x="166.25" y="958.8" font-size="7.9" text-anchor="end" fill="#4a4a9a" stroke="#4a4a9a" stroke-width="0.12" transform="rotate(-43 166.25 958.8)">(n=9)</text>
<line x1="62.8" y1="845" x2="95" y2="845" stroke="#222" stroke-width="1.3"/>
<text x="78.9" y="840.5" font-size="7.3" text-anchor="middle" fill="#222" stroke="#222" stroke-width="0.12">p=0.41</text>
<line x1="127.2" y1="845" x2="159.5" y2="845" stroke="#222" stroke-width="1.3"/>
<text x="143.4" y="840.5" font-size="7.3" text-anchor="middle" fill="#222" stroke="#222" stroke-width="0.12">p=0.38</text>
<line x1="52.2" y1="980.7" x2="106.8" y2="980.7" stroke="#222" stroke-width="1.3"/>
<line x1="116.6" y1="980.7" x2="170.6" y2="980.7" stroke="#222" stroke-width="1.3"/>
<text x="79.5" y="991" font-size="8.0" text-anchor="middle" fill="#222" stroke="#222" stroke-width="0.12">BM</text>
<text x="143.6" y="991" font-size="8.0" text-anchor="middle" fill="#222" stroke="#222" stroke-width="0.12">Spleen</text>
<text x="217.5" y="597.5" font-size="12" text-anchor="start" font-weight="bold" fill="#111">G</text>
<text x="279.6" y="610.5" font-size="7.6" text-anchor="middle" fill="#222" stroke="#222" stroke-width="0.12">BM</text>
<text x="279.6" y="619" font-size="7.6" text-anchor="middle" fill="#222" stroke="#222" stroke-width="0.12">(Live cell-gated)</text>
<text x="356.2" y="610.5" font-size="7.6" text-anchor="middle" fill="#222" stroke="#222" stroke-width="0.12">Spleen</text>
<text x="431.5" y="610.5" font-size="7.6" text-anchor="middle" fill="#222" stroke="#222" stroke-width="0.12">PB</text>
<line x1="230" y1="630" x2="230" y2="829.3" stroke="#111" stroke-width="1.8"/>
<polygon points="230,622.4 225.4,632.5 234.6,632.5" fill="#111"/>
<line x1="229.1" y1="829.3" x2="472" y2="829.3" stroke="#111" stroke-width="1.8"/>
<polygon points="480,829.3 470,824.7 470,833.9" fill="#111"/>
<text x="225.6" y="729.3" font-size="8.3" text-anchor="middle" fill="#222" stroke="#222" stroke-width="0.12" transform="rotate(-90 225.6 729.3)">hCD45</text>
<text x="351" y="841" font-size="8.6" text-anchor="middle" fill="#222" stroke="#222" stroke-width="0.12">mCD45.1</text>
<line x1="242.6" y1="624.4" x2="242.6" y2="684.8" stroke="#111" stroke-width="1.5"/>
<text x="238.6" y="654.7" font-size="7.6" text-anchor="middle" fill="#222" stroke="#222" stroke-width="0.12" transform="rotate(-90 238.6 654.7)">vehicle</text>
<line x1="242.9" y1="695.6" x2="242.9" y2="823.7" stroke="#5c5c96" stroke-width="1.5"/>
<text x="239.0" y="759.8" font-size="7.6" text-anchor="middle" fill="#5a5a96" stroke="#5a5a96" stroke-width="0.12" transform="rotate(-90 239.0 759.8)">pacritinib</text>
<rect x="249.2" y="623.4" width="60.80000000000001" height="60.60000000000002" fill="#fff" stroke="#5a5a5a" stroke-width="0.9"/>
<line x1="256.8" y1="684.0" x2="256.8" y2="682.7" stroke="#555" stroke-width="0.7"/>
<line x1="264.4" y1="684.0" x2="264.4" y2="682.7" stroke="#555" stroke-width="0.7"/>
<line x1="272.0" y1="684.0" x2="272.0" y2="682.7" stroke="#555" stroke-width="0.7"/>
<line x1="279.6" y1="684.0" x2="279.6" y2="682.7" stroke="#555" stroke-width="0.7"/>
<line x1="287.2" y1="684.0" x2="287.2" y2="682.7" stroke="#555" stroke-width="0.7"/>
<line x1="294.8" y1="684.0" x2="294.8" y2="682.7" stroke="#555" stroke-width="0.7"/>
<line x1="302.4" y1="684.0" x2="302.4" y2="682.7" stroke="#555" stroke-width="0.7"/>
<line x1="249.2" y1="630.975" x2="250.5" y2="630.975" stroke="#555" stroke-width="0.7"/>
<line x1="249.2" y1="638.55" x2="250.5" y2="638.55" stroke="#555" stroke-width="0.7"/>
<line x1="249.2" y1="646.125" x2="250.5" y2="646.125" stroke="#555" stroke-width="0.7"/>
<line x1="249.2" y1="653.7" x2="250.5" y2="653.7" stroke="#555" stroke-width="0.7"/>
<line x1="249.2" y1="661.275" x2="250.5" y2="661.275" stroke="#555" stroke-width="0.7"/>
<line x1="249.2" y1="668.85" x2="250.5" y2="668.85" stroke="#555" stroke-width="0.7"/>
<line x1="249.2" y1="676.425" x2="250.5" y2="676.425" stroke="#555" stroke-width="0.7"/>
<polygon points="249.2,623.4 291,623.4 291,634.8 284.9,644 249.2,644" fill="none" stroke="#7c7cd6" stroke-width="0.7"/>
<polygon points="280.2,684 280.2,660 291.7,642.8 304.9,642.8 304.9,684" fill="none" stroke="#7c7cd6" stroke-width="0.7"/>
<polygon points="251.00,633.50 251.78,632.07 252.56,631.48 253.34,631.03 254.12,630.90 254.91,630.90 255.69,630.90 256.47,630.90 257.25,630.90 258.03,630.90 258.81,630.90 259.59,630.90 260.38,630.90 261.16,630.90 261.94,630.90 262.72,630.90 263.50,630.90 264.28,630.90 265.06,630.90 265.84,630.90 266.62,630.90 267.41,630.90 268.19,630.52 268.97,629.96 269.75,629.53 270.53,629.17 271.31,628.87 272.09,628.62 272.88,628.42 273.66,628.25 274.44,628.12 275.22,628.02 276.00,627.95 276.78,627.91 277.56,627.90 278.34,627.92 279.12,627.96 279.91,628.04 280.69,628.14 281.47,628.28 282.25,628.45 283.03,628.66 283.81,628.91 284.59,629.22 285.38,629.59 286.16,630.04 286.94,630.62 287.72,631.43 288.50,633.50 288.50,633.50 287.72,635.57 286.94,636.38 286.16,636.96 285.38,637.41 284.59,637.78 283.81,638.09 283.03,638.34 282.25,638.55 281.47,638.72 280.69,638.86 279.91,638.96 279.12,639.04 278.34,639.08 277.56,639.10 276.78,639.09 276.00,639.05 275.22,638.98 274.44,638.88 273.66,638.75 272.88,638.58 272.09,638.38 271.31,638.13 270.53,637.83 269.75,637.47 268.97,637.04 268.19,636.48 267.41,636.10 266.62,636.10 265.84,636.10 265.06,636.10 264.28,636.10 263.50,636.10 262.72,636.10 261.94,636.10 261.16,636.10 260.38,636.10 259.59,636.10 258.81,636.10 258.03,636.10 257.25,636.10 256.47,636.10 255.69,636.10 254.91,636.10 254.12,636.10 253.34,635.97 252.56,635.52 251.78,634.93 251.00,633.50" fill="#000" fill-opacity="0.03" stroke="#4a4a4a" stroke-width="0.5"/>
<polygon points="262.93,633.50 263.42,632.55 263.92,632.15 264.42,631.85 264.92,631.68 265.42,631.68 265.92,631.68 266.41,631.68 266.91,631.68 267.41,631.68 267.91,631.68 268.41,631.68 268.91,631.68 269.40,631.68 269.90,631.68 270.40,631.28 270.90,630.89 271.40,630.57 271.90,630.30 272.40,630.07 272.89,629.87 273.39,629.70 273.89,629.55 274.39,629.43 274.89,629.32 275.39,629.23 275.88,629.16 276.38,629.10 276.88,629.06 277.38,629.03 277.88,629.02 278.38,629.02 278.88,629.04 279.37,629.07 279.87,629.12 280.37,629.18 280.87,629.26 281.37,629.35 281.87,629.46 282.36,629.60 282.86,629.75 283.36,629.93 283.86,630.13 284.36,630.38 284.86,630.66 285.35,631.00 285.85,631.43 286.35,632.01 286.85,633.50 286.85,633.50 286.35,634.99 285.85,635.57 285.35,636.00 284.86,636.34 284.36,636.62 283.86,636.87 283.36,637.07 282.86,637.25 282.36,637.40 281.87,637.54 281.37,637.65 280.87,637.74 280.37,637.82 279.87,637.88 279.37,637.93 278.88,637.96 278.38,637.98 277.88,637.98 277.38,637.97 276.88,637.94 276.38,637.90 275.88,637.84 275.39,637.77 274.89,637.68 274.39,637.57 273.89,637.45 273.39,637.30 272.89,637.13 272.40,636.93 271.90,636.70 271.40,636.43 270.90,636.11 270.40,635.72 269.90,635.32 269.40,635.32 268.91,635.32 268.41,635.32 267.91,635.32 267.41,635.32 266.91,635.32 266.41,635.32 265.92,635.32 265.42,635.32 264.92,635.32 264.42,635.15 263.92,634.85 263.42,634.45 262.93,633.50" fill="#000" fill-opacity="0.08" stroke="#4a4a4a" stroke-width="0.5"/>
<polygon points="271.73,633.50 272.01,632.51 272.29,632.11 272.58,631.82 272.86,631.58 273.15,631.38 273.43,631.20 273.71,631.05 274.00,630.91 274.28,630.79 274.57,630.68 274.85,630.58 275.13,630.49 275.42,630.41 275.70,630.34 275.99,630.28 276.27,630.23 276.56,630.18 276.84,630.14 277.12,630.10 277.41,630.08 277.69,630.06 277.98,630.04 278.26,630.03 278.55,630.03 278.83,630.03 279.11,630.04 279.40,630.06 279.68,630.08 279.97,630.10 280.25,630.14 280.53,630.18 280.82,630.23 281.10,630.28 281.39,630.34 281.67,630.41 281.96,630.49 282.24,630.58 282.52,630.68 282.81,630.79 283.09,630.91 283.38,631.05 283.66,631.20 283.94,631.38 284.23,631.58 284.51,631.82 284.80,632.11 285.08,632.51 285.37,633.50 285.37,633.50 285.08,634.49 284.80,634.89 284.51,635.18 284.23,635.42 283.94,635.62 283.66,635.80 283.38,635.95 283.09,636.09 282.81,636.21 282.52,636.32 282.24,636.42 281.96,636.51 281.67,636.59 281.39,636.66 281.10,636.72 280.82,636.77 280.53,636.82 280.25,636.86 279.97,636.90 279.68,636.92 279.40,636.94 279.11,636.96 278.83,636.97 278.55,636.97 278.26,636.97 277.98,636.96 277.69,636.94 277.41,636.92 277.12,636.90 276.84,636.86 276.56,636.82 276.27,636.77 275.99,636.72 275.70,636.66 275.42,636.59 275.13,636.51 274.85,636.42 274.57,636.32 274.28,636.21 274.00,636.09 273.71,635.95 273.43,635.80 273.15,635.62 272.86,635.42 272.58,635.18 272.29,634.89 272.01,634.49 271.73,633.50" fill="#000" fill-opacity="0.13" stroke="#4a4a4a" stroke-width="0.5"/>
<polygon points="274.06,633.50 274.27,632.78 274.48,632.49 274.68,632.28 274.89,632.11 275.09,631.96 275.30,631.83 275.51,631.72 275.71,631.62 275.92,631.53 276.12,631.45 276.33,631.38 276.54,631.32 276.74,631.26 276.95,631.21 277.16,631.16 277.36,631.12 277.57,631.09 277.77,631.06 277.98,631.04 278.19,631.02 278.39,631.00 278.60,630.99 278.81,630.98 279.01,630.98 279.22,630.98 279.43,630.99 279.63,631.00 279.84,631.02 280.04,631.04 280.25,631.06 280.46,631.09 280.66,631.12 280.87,631.16 281.07,631.21 281.28,631.26 281.49,631.32 281.69,631.38 281.90,631.45 282.11,631.53 282.31,631.62 282.52,631.72 282.72,631.83 282.93,631.96 283.14,632.11 283.34,632.28 283.55,632.49 283.76,632.78 283.96,633.50 283.96,633.50 283.76,634.22 283.55,634.51 283.34,634.72 283.14,634.89 282.93,635.04 282.72,635.17 282.52,635.28 282.31,635.38 282.11,635.47 281.90,635.55 281.69,635.62 281.49,635.68 281.28,635.74 281.07,635.79 280.87,635.84 280.66,635.88 280.46,635.91 280.25,635.94 280.04,635.96 279.84,635.98 279.63,636.00 279.43,636.01 279.22,636.02 279.01,636.02 278.81,636.02 278.60,636.01 278.39,636.00 278.19,635.98 277.98,635.96 277.77,635.94 277.57,635.91 277.36,635.88 277.16,635.84 276.95,635.79 276.74,635.74 276.54,635.68 276.33,635.62 276.12,635.55 275.92,635.47 275.71,635.38 275.51,635.28 275.30,635.17 275.09,635.04 274.89,634.89 274.68,634.72 274.48,634.51 274.27,634.22 274.06,633.50" fill="#000" fill-opacity="0.18" stroke="#4a4a4a" stroke-width="0.5"/>
<polygon points="276.12,633.50 276.26,633.02 276.40,632.83 276.54,632.69 276.68,632.57 276.81,632.47 276.95,632.39 277.09,632.31 277.23,632.25 277.36,632.19 277.50,632.14 277.64,632.09 277.77,632.05 277.91,632.01 278.05,631.97 278.19,631.94 278.32,631.92 278.46,631.89 278.60,631.87 278.74,631.86 278.88,631.84 279.01,631.83 279.15,631.83 279.29,631.82 279.43,631.82 279.56,631.82 279.70,631.83 279.84,631.83 279.98,631.84 280.11,631.86 280.25,631.87 280.39,631.89 280.53,631.92 280.66,631.94 280.80,631.97 280.94,632.01 281.08,632.05 281.21,632.09 281.35,632.14 281.49,632.19 281.62,632.25 281.76,632.31 281.90,632.39 282.04,632.47 282.18,632.57 282.31,632.69 282.45,632.83 282.59,633.02 282.73,633.50 282.73,633.50 282.59,633.98 282.45,634.17 282.31,634.31 282.18,634.43 282.04,634.53 281.90,634.61 281.76,634.69 281.62,634.75 281.49,634.81 281.35,634.86 281.21,634.91 281.08,634.95 280.94,634.99 280.80,635.03 280.66,635.06 280.53,635.08 280.39,635.11 280.25,635.13 280.11,635.14 279.98,635.16 279.84,635.17 279.70,635.17 279.56,635.18 279.43,635.18 279.29,635.18 279.15,635.17 279.01,635.17 278.88,635.16 278.74,635.14 278.60,635.13 278.46,635.11 278.32,635.08 278.19,635.06 278.05,635.03 277.91,634.99 277.77,634.95 277.64,634.91 277.50,634.86 277.36,634.81 277.23,634.75 277.09,634.69 276.95,634.61 276.81,634.53 276.68,634.43 276.54,634.31 276.40,634.17 276.26,633.98 276.12,633.50" fill="#000" fill-opacity="0.23" stroke="#4a4a4a" stroke-width="0.5"/>
<ellipse cx="279.7" cy="633.5" rx="1.6900000000000002" ry="1.3" fill="#111" fill-opacity="0.6"/>
<ellipse cx="250.4" cy="636.25" rx="1.0" ry="8.75" fill="#15153a" fill-opacity="0.85"/>
<text x="253.5" y="630.5" font-size="7.2" text-anchor="start" fill="#c8485a" stroke="#c8485a" stroke-width="0.12">95%</text>
<text x="293.5" y="679.7" font-size="7.2" text-anchor="start" fill="#4e7e4e" stroke="#4e7e4e" stroke-width="0.12">3%</text>
<rect x="325.8" y="623.4" width="60.0" height="60.60000000000002" fill="#fff" stroke="#5a5a5a" stroke-width="0.9"/>
<line x1="333.3" y1="684.0" x2="333.3" y2="682.7" stroke="#555" stroke-width="0.7"/>
<line x1="340.8" y1="684.0" x2="340.8" y2="682.7" stroke="#555" stroke-width="0.7"/>
<line x1="348.3" y1="684.0" x2="348.3" y2="682.7" stroke="#555" stroke-width="0.7"/>
<line x1="355.8" y1="684.0" x2="355.8" y2="682.7" stroke="#555" stroke-width="0.7"/>
<line x1="363.3" y1="684.0" x2="363.3" y2="682.7" stroke="#555" stroke-width="0.7"/>
<line x1="370.8" y1="684.0" x2="370.8" y2="682.7" stroke="#555" stroke-width="0.7"/>
<line x1="378.3" y1="684.0" x2="378.3" y2="682.7" stroke="#555" stroke-width="0.7"/>
<line x1="325.8" y1="630.975" x2="327.1" y2="630.975" stroke="#555" stroke-width="0.7"/>
<line x1="325.8" y1="638.55" x2="327.1" y2="638.55" stroke="#555" stroke-width="0.7"/>
<line x1="325.8" y1="646.125" x2="327.1" y2="646.125" stroke="#555" stroke-width="0.7"/>
<line x1="325.8" y1="653.7" x2="327.1" y2="653.7" stroke="#555" stroke-width="0.7"/>
<line x1="325.8" y1="661.275" x2="327.1" y2="661.275" stroke="#555" stroke-width="0.7"/>
<line x1="325.8" y1="668.85" x2="327.1" y2="668.85" stroke="#555" stroke-width="0.7"/>
<line x1="325.8" y1="676.425" x2="327.1" y2="676.425" stroke="#555" stroke-width="0.7"/>
<polygon points="325.8,623.4 367.7,623.4 367.7,633.5 362.8,644 325.8,644" fill="none" stroke="#7c7cd6" stroke-width="0.7"/>
<polygon points="356.6,684 356.6,655.7 367,642.8 380.9,642.8 380.9,684" fill="none" stroke="#7c7cd6" stroke-width="0.7"/>
<polygon points="327.00,634.00 327.81,632.63 328.62,632.07 329.44,631.70 330.25,631.70 331.06,631.70 331.88,631.70 332.69,631.70 333.50,631.70 334.31,631.70 335.12,631.70 335.94,631.70 336.75,631.70 337.56,631.70 338.38,631.70 339.19,631.70 340.00,631.70 340.81,631.70 341.62,631.70 342.44,631.25 343.25,630.22 344.06,629.55 344.88,629.03 345.69,628.62 346.50,628.27 347.31,627.98 348.12,627.74 348.94,627.54 349.75,627.38 350.56,627.24 351.38,627.14 352.19,627.07 353.00,627.02 353.81,627.00 354.62,627.01 355.44,627.04 356.25,627.10 357.06,627.19 357.88,627.31 358.69,627.46 359.50,627.65 360.31,627.87 361.12,628.13 361.94,628.45 362.75,628.83 363.56,629.30 364.38,629.89 365.19,630.70 366.00,634.00 366.00,634.00 365.19,634.90 364.38,635.71 363.56,636.30 362.75,636.77 361.94,637.15 361.12,637.47 360.31,637.73 359.50,637.95 358.69,638.14 357.88,638.29 357.06,638.41 356.25,638.50 355.44,638.56 354.62,638.59 353.81,638.60 353.00,638.58 352.19,638.53 351.38,638.46 350.56,638.36 349.75,638.22 348.94,638.06 348.12,637.86 347.31,637.62 346.50,637.33 345.69,636.98 344.88,636.57 344.06,636.30 343.25,636.30 342.44,636.30 341.62,636.30 340.81,636.30 340.00,636.30 339.19,636.30 338.38,636.30 337.56,636.30 336.75,636.30 335.94,636.30 335.12,636.30 334.31,636.30 333.50,636.30 332.69,636.30 331.88,636.30 331.06,636.30 330.25,636.30 329.44,636.30 328.62,635.93 327.81,635.37 327.00,634.00" fill="#000" fill-opacity="0.03" stroke="#4a4a4a" stroke-width="0.5"/>
<polygon points="339.15,634.00 339.67,633.08 340.19,632.70 340.72,632.41 341.24,632.39 341.76,632.39 342.28,632.39 342.80,632.39 343.32,632.39 343.85,632.39 344.37,632.39 344.89,632.39 345.41,631.45 345.93,630.80 346.46,630.34 346.98,629.98 347.50,629.68 348.02,629.42 348.54,629.20 349.07,629.01 349.59,628.84 350.11,628.70 350.63,628.58 351.15,628.47 351.68,628.38 352.20,628.31 352.72,628.25 353.24,628.21 353.76,628.18 354.28,628.16 354.81,628.16 355.33,628.17 355.85,628.20 356.37,628.24 356.89,628.29 357.42,628.36 357.94,628.45 358.46,628.55 358.98,628.67 359.50,628.81 360.03,628.97 360.55,629.16 361.07,629.37 361.59,629.62 362.11,629.91 362.63,630.26 363.16,630.70 363.68,631.29 364.20,634.00 364.20,634.00 363.68,634.31 363.16,634.90 362.63,635.34 362.11,635.69 361.59,635.98 361.07,636.23 360.55,636.44 360.03,636.63 359.50,636.79 358.98,636.93 358.46,637.05 357.94,637.15 357.42,637.24 356.89,637.31 356.37,637.36 355.85,637.40 355.33,637.43 354.81,637.44 354.28,637.44 353.76,637.42 353.24,637.39 352.72,637.35 352.20,637.29 351.68,637.22 351.15,637.13 350.63,637.02 350.11,636.90 349.59,636.76 349.07,636.59 348.54,636.40 348.02,636.18 347.50,635.92 346.98,635.62 346.46,635.61 345.93,635.61 345.41,635.61 344.89,635.61 344.37,635.61 343.85,635.61 343.32,635.61 342.80,635.61 342.28,635.61 341.76,635.61 341.24,635.61 340.72,635.59 340.19,635.30 339.67,634.92 339.15,634.00" fill="#000" fill-opacity="0.08" stroke="#4a4a4a" stroke-width="0.5"/>
<polygon points="347.70,632.80 348.01,631.77 348.32,631.36 348.63,631.06 348.94,630.81 349.25,630.60 349.56,630.42 349.87,630.26 350.18,630.12 350.49,629.99 350.80,629.88 351.11,629.78 351.42,629.69 351.73,629.60 352.04,629.53 352.35,629.47 352.66,629.41 352.97,629.36 353.28,629.32 353.59,629.28 353.90,629.25 354.21,629.23 354.52,629.22 354.83,629.21 355.14,629.20 355.45,629.21 355.76,629.22 356.07,629.23 356.38,629.25 356.69,629.28 357.00,629.32 357.31,629.36 357.62,629.41 357.93,629.47 358.24,629.53 358.55,629.60 358.86,629.69 359.17,629.78 359.48,629.88 359.79,629.99 360.10,630.12 360.41,630.26 360.72,630.42 361.03,630.60 361.34,630.81 361.65,631.06 361.96,631.36 362.27,631.77 362.58,632.80 362.58,632.80 362.27,633.83 361.96,634.24 361.65,634.54 361.34,634.79 361.03,635.00 360.72,635.18 360.41,635.34 360.10,635.48 359.79,635.61 359.48,635.72 359.17,635.82 358.86,635.91 358.55,636.00 358.24,636.07 357.93,636.13 357.62,636.19 357.31,636.24 357.00,636.28 356.69,636.32 356.38,636.35 356.07,636.37 355.76,636.38 355.45,636.39 355.14,636.40 354.83,636.39 354.52,636.38 354.21,636.37 353.90,636.35 353.59,636.32 353.28,636.28 352.97,636.24 352.66,636.19 352.35,636.13 352.04,636.07 351.73,636.00 351.42,635.91 351.11,635.82 350.80,635.72 350.49,635.61 350.18,635.48 349.87,635.34 349.56,635.18 349.25,635.00 348.94,634.79 348.63,634.54 348.32,634.24 348.01,633.83 347.70,632.80" fill="#000" fill-opacity="0.13" stroke="#4a4a4a" stroke-width="0.5"/>
<polygon points="350.25,632.80 350.48,632.05 350.70,631.76 350.93,631.54 351.15,631.36 351.38,631.21 351.60,631.07 351.82,630.96 352.05,630.85 352.27,630.76 352.50,630.68 352.72,630.61 352.95,630.54 353.18,630.48 353.40,630.43 353.62,630.38 353.85,630.34 354.07,630.30 354.30,630.27 354.52,630.25 354.75,630.23 354.97,630.21 355.20,630.20 355.42,630.19 355.65,630.19 355.88,630.19 356.10,630.20 356.32,630.21 356.55,630.23 356.77,630.25 357.00,630.27 357.22,630.30 357.45,630.34 357.67,630.38 357.90,630.43 358.12,630.48 358.35,630.54 358.57,630.61 358.80,630.68 359.02,630.76 359.25,630.85 359.47,630.96 359.70,631.07 359.92,631.21 360.15,631.36 360.37,631.54 360.60,631.76 360.82,632.05 361.05,632.80 361.05,632.80 360.82,633.55 360.60,633.84 360.37,634.06 360.15,634.24 359.92,634.39 359.70,634.53 359.47,634.64 359.25,634.75 359.02,634.84 358.80,634.92 358.57,634.99 358.35,635.06 358.12,635.12 357.90,635.17 357.67,635.22 357.45,635.26 357.22,635.30 357.00,635.33 356.77,635.35 356.55,635.37 356.32,635.39 356.10,635.40 355.88,635.41 355.65,635.41 355.42,635.41 355.20,635.40 354.97,635.39 354.75,635.37 354.52,635.35 354.30,635.33 354.07,635.30 353.85,635.26 353.62,635.22 353.40,635.17 353.18,635.12 352.95,635.06 352.72,634.99 352.50,634.92 352.27,634.84 352.05,634.75 351.82,634.64 351.60,634.53 351.38,634.39 351.15,634.24 350.93,634.06 350.70,633.84 350.48,633.55 350.25,632.80" fill="#000" fill-opacity="0.18" stroke="#4a4a4a" stroke-width="0.5"/>
<polygon points="352.50,634.00 352.65,632.30 352.80,632.10 352.95,631.96 353.10,631.84 353.25,631.74 353.40,631.65 353.55,631.57 353.70,631.50 353.85,631.44 354.00,631.39 354.15,631.34 354.30,631.29 354.45,631.25 354.60,631.22 354.75,631.19 354.90,631.16 355.05,631.14 355.20,631.12 355.35,631.10 355.50,631.08 355.65,631.07 355.80,631.07 355.95,631.06 356.10,631.06 356.25,631.06 356.40,631.07 356.55,631.07 356.70,631.08 356.85,631.10 357.00,631.12 357.15,631.14 357.30,631.16 357.45,631.19 357.60,631.22 357.75,631.25 357.90,631.29 358.05,631.34 358.20,631.39 358.35,631.44 358.50,631.50 358.65,631.57 358.80,631.65 358.95,631.74 359.10,631.84 359.25,631.96 359.40,632.10 359.55,632.30 359.70,634.00 359.70,634.00 359.55,633.30 359.40,633.50 359.25,633.64 359.10,633.76 358.95,633.86 358.80,633.95 358.65,634.03 358.50,634.10 358.35,634.16 358.20,634.21 358.05,634.26 357.90,634.31 357.75,634.35 357.60,634.38 357.45,634.41 357.30,634.44 357.15,634.46 357.00,634.48 356.85,634.50 356.70,634.52 356.55,634.53 356.40,634.53 356.25,634.54 356.10,634.54 355.95,634.54 355.80,634.53 355.65,634.53 355.50,634.52 355.35,634.50 355.20,634.48 355.05,634.46 354.90,634.44 354.75,634.41 354.60,634.38 354.45,634.35 354.30,634.31 354.15,634.26 354.00,634.21 353.85,634.16 353.70,634.10 353.55,634.03 353.40,633.95 353.25,633.86 353.10,633.76 352.95,633.64 352.80,633.50 352.65,633.30 352.50,634.00" fill="#000" fill-opacity="0.23" stroke="#4a4a4a" stroke-width="0.5"/>
<ellipse cx="356.4" cy="632.8" rx="1.6900000000000002" ry="1.3" fill="#111" fill-opacity="0.6"/>
<path d="M347.5,655.5 C347,650 352,647.5 358,648.5 C362,647.5 366,646 371,646.5 C377,646.5 378.5,652 377,656 C374.5,659.5 368,658.5 363,657.5 C358,660 349,660.5 347.5,655.5Z" fill="#000" fill-opacity="0.08" stroke="#3c3c3c" stroke-width="0.5"/>
<polygon points="363.00,654.20 362.92,654.79 362.69,655.36 362.30,655.90 361.78,656.39 361.14,656.80 360.40,657.14 359.58,657.39 358.70,657.55 357.80,657.60 356.90,657.55 356.02,657.39 355.20,657.14 354.46,656.80 353.82,656.39 353.30,655.90 352.91,655.36 352.68,654.79 352.60,654.20 352.68,653.61 352.91,653.04 353.30,652.50 353.82,652.01 354.46,651.60 355.20,651.26 356.02,651.01 356.90,650.85 357.80,650.80 358.70,650.85 359.58,651.01 360.40,651.26 361.14,651.60 361.78,652.01 362.30,652.50 362.69,653.04 362.92,653.61" fill="#000" fill-opacity="0.03" stroke="#4a4a4a" stroke-width="0.5"/>
<polygon points="361.44,654.20 361.38,654.61 361.22,655.01 360.95,655.39 360.59,655.73 360.14,656.02 359.62,656.26 359.04,656.44 358.43,656.54 357.80,656.58 357.17,656.54 356.56,656.44 355.98,656.26 355.46,656.02 355.01,655.73 354.65,655.39 354.38,655.01 354.22,654.61 354.16,654.20 354.22,653.79 354.38,653.39 354.65,653.01 355.01,652.67 355.46,652.38 355.98,652.14 356.56,651.96 357.17,651.86 357.80,651.82 358.43,651.86 359.04,651.96 359.62,652.14 360.14,652.38 360.59,652.67 360.95,653.01 361.22,653.39 361.38,653.79" fill="#000" fill-opacity="0.08" stroke="#4a4a4a" stroke-width="0.5"/>
<polygon points="359.98,654.20 359.95,654.45 359.85,654.69 359.69,654.91 359.47,655.12 359.20,655.29 358.89,655.44 358.55,655.54 358.18,655.61 357.80,655.63 357.42,655.61 357.05,655.54 356.71,655.44 356.40,655.29 356.13,655.12 355.91,654.91 355.75,654.69 355.65,654.45 355.62,654.20 355.65,653.95 355.75,653.71 355.91,653.49 356.13,653.28 356.40,653.11 356.71,652.96 357.05,652.86 357.42,652.79 357.80,652.77 358.18,652.79 358.55,652.86 358.89,652.96 359.20,653.11 359.47,653.28 359.69,653.49 359.85,653.71 359.95,653.95" fill="#000" fill-opacity="0.13" stroke="#4a4a4a" stroke-width="0.5"/>
<polygon points="377.70,651.40 377.63,652.03 377.43,652.63 377.10,653.20 376.65,653.71 376.09,654.16 375.45,654.52 374.74,654.78 373.98,654.95 373.20,655.00 372.42,654.95 371.66,654.78 370.95,654.52 370.31,654.16 369.75,653.71 369.30,653.20 368.97,652.63 368.77,652.03 368.70,651.40 368.77,650.77 368.97,650.17 369.30,649.60 369.75,649.09 370.31,648.64 370.95,648.28 371.66,648.02 372.42,647.85 373.20,647.80 373.98,647.85 374.74,648.02 375.45,648.28 376.09,648.64 376.65,649.09 377.10,649.60 377.43,650.17 377.63,650.77" fill="#000" fill-opacity="0.03" stroke="#4a4a4a" stroke-width="0.5"/>
<polygon points="376.35,651.40 376.30,651.84 376.16,652.26 375.93,652.66 375.61,653.02 375.22,653.33 374.77,653.58 374.28,653.77 373.75,653.88 373.20,653.92 372.65,653.88 372.12,653.77 371.62,653.58 371.18,653.33 370.79,653.02 370.47,652.66 370.24,652.26 370.10,651.84 370.05,651.40 370.10,650.96 370.24,650.54 370.47,650.14 370.79,649.78 371.18,649.47 371.62,649.22 372.12,649.03 372.65,648.92 373.20,648.88 373.75,648.92 374.28,649.03 374.77,649.22 375.22,649.47 375.61,649.78 375.93,650.14 376.16,650.54 376.30,650.96" fill="#000" fill-opacity="0.08" stroke="#4a4a4a" stroke-width="0.5"/>
<polygon points="375.09,651.40 375.06,651.66 374.98,651.92 374.84,652.16 374.65,652.37 374.41,652.56 374.14,652.71 373.85,652.82 373.53,652.89 373.20,652.91 372.87,652.89 372.55,652.82 372.25,652.71 371.99,652.56 371.75,652.37 371.56,652.16 371.42,651.92 371.34,651.66 371.31,651.40 371.34,651.14 371.42,650.88 371.56,650.64 371.75,650.43 371.99,650.24 372.25,650.09 372.55,649.98 372.87,649.91 373.20,649.89 373.53,649.91 373.85,649.98 374.14,650.09 374.41,650.24 374.65,650.43 374.84,650.64 374.98,650.88 375.06,651.14" fill="#000" fill-opacity="0.13" stroke="#4a4a4a" stroke-width="0.5"/>
<ellipse cx="326.7" cy="633.75" rx="1.0" ry="7.25" fill="#15153a" fill-opacity="0.85"/>
<ellipse cx="326.7" cy="655.7" rx="1.0" ry="4.900000000000034" fill="#808080" fill-opacity="0.85"/>
<text x="329.5" y="630.5" font-size="7.2" text-anchor="start" fill="#c8485a" stroke="#c8485a" stroke-width="0.12">78%</text>
<text x="367" y="679.2" font-size="7.2" text-anchor="start" fill="#4e7e4e" stroke="#4e7e4e" stroke-width="0.12">10%</text>
<rect x="401.2" y="623.4" width="60.400000000000034" height="60.60000000000002" fill="#fff" stroke="#5a5a5a" stroke-width="0.9"/>
<line x1="408.75" y1="684.0" x2="408.75" y2="682.7" stroke="#555" stroke-width="0.7"/>
<line x1="416.3" y1="684.0" x2="416.3" y2="682.7" stroke="#555" stroke-width="0.7"/>
<line x1="423.85" y1="684.0" x2="423.85" y2="682.7" stroke="#555" stroke-width="0.7"/>
<line x1="431.4" y1="684.0" x2="431.4" y2="682.7" stroke="#555" stroke-width="0.7"/>
<line x1="438.95" y1="684.0" x2="438.95" y2="682.7" stroke="#555" stroke-width="0.7"/>
<line x1="446.5" y1="684.0" x2="446.5" y2="682.7" stroke="#555" stroke-width="0.7"/>
<line x1="454.05" y1="684.0" x2="454.05" y2="682.7" stroke="#555" stroke-width="0.7"/>
<line x1="401.2" y1="630.975" x2="402.5" y2="630.975" stroke="#555" stroke-width="0.7"/>
<line x1="401.2" y1="638.55" x2="402.5" y2="638.55" stroke="#555" stroke-width="0.7"/>
<line x1="401.2" y1="646.125" x2="402.5" y2="646.125" stroke="#555" stroke-width="0.7"/>
<line x1="401.2" y1="653.7" x2="402.5" y2="653.7" stroke="#555" stroke-width="0.7"/>
<line x1="401.2" y1="661.275" x2="402.5" y2="661.275" stroke="#555" stroke-width="0.7"/>
<line x1="401.2" y1="668.85" x2="402.5" y2="668.85" stroke="#555" stroke-width="0.7"/>
<line x1="401.2" y1="676.425" x2="402.5" y2="676.425" stroke="#555" stroke-width="0.7"/>
<polygon points="401.2,623.4 443.7,623.4 443.7,633.5 436.9,644 401.2,644" fill="none" stroke="#7c7cd6" stroke-width="0.7"/>
<polygon points="431.4,684 431.4,660 442.5,642.8 456.9,642.8 456.9,684" fill="none" stroke="#7c7cd6" stroke-width="0.7"/>
<polygon points="402.50,635.50 403.30,634.11 404.10,633.54 404.91,633.10 405.71,633.10 406.51,633.10 407.31,633.10 408.11,633.10 408.92,633.10 409.72,633.10 410.52,633.10 411.32,633.10 412.12,633.10 412.93,633.10 413.73,633.10 414.53,633.10 415.33,633.10 416.14,633.10 416.94,633.10 417.74,633.10 418.54,633.10 419.34,633.10 420.15,633.10 420.95,633.10 421.75,633.10 422.55,632.29 423.35,631.63 424.16,631.13 424.96,630.72 425.76,630.39 426.56,630.12 427.36,629.91 428.17,629.75 428.97,629.63 429.77,629.55 430.57,629.51 431.38,629.50 432.18,629.54 432.98,629.62 433.78,629.74 434.58,629.90 435.39,630.11 436.19,630.37 436.99,630.70 437.79,631.10 438.59,631.60 439.40,632.24 440.20,633.15 441.00,635.50 441.00,635.50 440.20,637.85 439.40,638.76 438.59,639.40 437.79,639.90 436.99,640.30 436.19,640.63 435.39,640.89 434.58,641.10 433.78,641.26 432.98,641.38 432.18,641.46 431.38,641.50 430.57,641.49 429.77,641.45 428.97,641.37 428.17,641.25 427.36,641.09 426.56,640.88 425.76,640.61 424.96,640.28 424.16,639.87 423.35,639.37 422.55,638.71 421.75,637.90 420.95,637.90 420.15,637.90 419.34,637.90 418.54,637.90 417.74,637.90 416.94,637.90 416.14,637.90 415.33,637.90 414.53,637.90 413.73,637.90 412.93,637.90 412.12,637.90 411.32,637.90 410.52,637.90 409.72,637.90 408.92,637.90 408.11,637.90 407.31,637.90 406.51,637.90 405.71,637.90 404.91,637.90 404.10,637.46 403.30,636.89 402.50,635.50" fill="#000" fill-opacity="0.03" stroke="#4a4a4a" stroke-width="0.5"/>
<polygon points="415.32,635.50 415.83,634.58 416.33,634.20 416.84,633.91 417.34,633.82 417.84,633.82 418.35,633.82 418.85,633.82 419.35,633.82 419.86,633.82 420.36,633.82 420.87,633.82 421.37,633.82 421.87,633.82 422.38,633.82 422.88,633.82 423.38,633.82 423.89,633.82 424.39,633.30 424.89,632.79 425.40,632.40 425.90,632.07 426.41,631.80 426.91,631.57 427.41,631.37 427.92,631.21 428.42,631.07 428.92,630.96 429.43,630.86 429.93,630.79 430.43,630.74 430.94,630.71 431.44,630.70 431.95,630.71 432.45,630.73 432.95,630.78 433.46,630.85 433.96,630.93 434.46,631.04 434.97,631.17 435.47,631.33 435.97,631.52 436.48,631.74 436.98,632.00 437.49,632.32 437.99,632.69 438.49,633.17 439.00,633.82 439.50,635.50 439.50,635.50 439.00,637.18 438.49,637.83 437.99,638.31 437.49,638.68 436.98,639.00 436.48,639.26 435.97,639.48 435.47,639.67 434.97,639.83 434.46,639.96 433.96,640.07 433.46,640.15 432.95,640.22 432.45,640.27 431.95,640.29 431.44,640.30 430.94,640.29 430.43,640.26 429.93,640.21 429.43,640.14 428.92,640.04 428.42,639.93 427.92,639.79 427.41,639.63 426.91,639.43 426.41,639.20 425.90,638.93 425.40,638.60 424.89,638.21 424.39,637.70 423.89,637.18 423.38,637.18 422.88,637.18 422.38,637.18 421.87,637.18 421.37,637.18 420.87,637.18 420.36,637.18 419.86,637.18 419.35,637.18 418.85,637.18 418.35,637.18 417.84,637.18 417.34,637.18 416.84,637.09 416.33,636.80 415.83,636.42 415.32,635.50" fill="#000" fill-opacity="0.08" stroke="#4a4a4a" stroke-width="0.5"/>
<polygon points="425.75,635.50 426.01,634.44 426.27,634.01 426.52,633.70 426.78,633.44 427.04,633.23 427.30,633.04 427.56,632.87 427.82,632.73 428.07,632.60 428.33,632.48 428.59,632.37 428.85,632.28 429.11,632.19 429.37,632.12 429.62,632.05 429.88,631.99 430.14,631.94 430.40,631.90 430.66,631.86 430.92,631.83 431.18,631.81 431.43,631.79 431.69,631.78 431.95,631.78 432.21,631.78 432.47,631.79 432.72,631.81 432.98,631.83 433.24,631.86 433.50,631.90 433.76,631.94 434.02,631.99 434.27,632.05 434.53,632.12 434.79,632.19 435.05,632.28 435.31,632.37 435.57,632.48 435.82,632.60 436.08,632.73 436.34,632.87 436.60,633.04 436.86,633.23 437.12,633.44 437.38,633.70 437.63,634.01 437.89,634.44 438.15,635.50 438.15,635.50 437.89,636.56 437.63,636.99 437.38,637.30 437.12,637.56 436.86,637.77 436.60,637.96 436.34,638.13 436.08,638.27 435.82,638.40 435.57,638.52 435.31,638.63 435.05,638.72 434.79,638.81 434.53,638.88 434.27,638.95 434.02,639.01 433.76,639.06 433.50,639.10 433.24,639.14 432.98,639.17 432.72,639.19 432.47,639.21 432.21,639.22 431.95,639.22 431.69,639.22 431.43,639.21 431.18,639.19 430.92,639.17 430.66,639.14 430.40,639.10 430.14,639.06 429.88,639.01 429.62,638.95 429.37,638.88 429.11,638.81 428.85,638.72 428.59,638.63 428.33,638.52 428.07,638.40 427.82,638.27 427.56,638.13 427.30,637.96 427.04,637.77 426.78,637.56 426.52,637.30 426.27,636.99 426.01,636.56 425.75,635.50" fill="#000" fill-opacity="0.13" stroke="#4a4a4a" stroke-width="0.5"/>
<polygon points="427.88,635.50 428.06,634.73 428.25,634.42 428.44,634.19 428.62,634.01 428.81,633.85 429.00,633.71 429.19,633.59 429.38,633.49 429.56,633.39 429.75,633.31 429.94,633.23 430.12,633.16 430.31,633.10 430.50,633.05 430.69,633.00 430.88,632.95 431.06,632.92 431.25,632.89 431.44,632.86 431.62,632.84 431.81,632.82 432.00,632.81 432.19,632.80 432.38,632.80 432.56,632.80 432.75,632.81 432.94,632.82 433.12,632.84 433.31,632.86 433.50,632.89 433.69,632.92 433.88,632.95 434.06,633.00 434.25,633.05 434.44,633.10 434.62,633.16 434.81,633.23 435.00,633.31 435.19,633.39 435.38,633.49 435.56,633.59 435.75,633.71 435.94,633.85 436.12,634.01 436.31,634.19 436.50,634.42 436.69,634.73 436.88,635.50 436.88,635.50 436.69,636.27 436.50,636.58 436.31,636.81 436.12,636.99 435.94,637.15 435.75,637.29 435.56,637.41 435.38,637.51 435.19,637.61 435.00,637.69 434.81,637.77 434.62,637.84 434.44,637.90 434.25,637.95 434.06,638.00 433.88,638.05 433.69,638.08 433.50,638.11 433.31,638.14 433.12,638.16 432.94,638.18 432.75,638.19 432.56,638.20 432.38,638.20 432.19,638.20 432.00,638.19 431.81,638.18 431.62,638.16 431.44,638.14 431.25,638.11 431.06,638.08 430.88,638.05 430.69,638.00 430.50,637.95 430.31,637.90 430.12,637.84 429.94,637.77 429.75,637.69 429.56,637.61 429.38,637.51 429.19,637.41 429.00,637.29 428.81,637.15 428.62,636.99 428.44,636.81 428.25,636.58 428.06,636.27 427.88,635.50" fill="#000" fill-opacity="0.18" stroke="#4a4a4a" stroke-width="0.5"/>
<polygon points="429.75,635.50 429.88,634.99 430.00,634.78 430.12,634.63 430.25,634.51 430.38,634.40 430.50,634.31 430.62,634.23 430.75,634.16 430.88,634.09 431.00,634.04 431.12,633.99 431.25,633.94 431.38,633.90 431.50,633.86 431.62,633.83 431.75,633.80 431.88,633.78 432.00,633.76 432.12,633.74 432.25,633.73 432.38,633.71 432.50,633.71 432.62,633.70 432.75,633.70 432.88,633.70 433.00,633.71 433.12,633.71 433.25,633.73 433.38,633.74 433.50,633.76 433.62,633.78 433.75,633.80 433.88,633.83 434.00,633.86 434.12,633.90 434.25,633.94 434.38,633.99 434.50,634.04 434.62,634.09 434.75,634.16 434.88,634.23 435.00,634.31 435.12,634.40 435.25,634.51 435.38,634.63 435.50,634.78 435.62,634.99 435.75,635.50 435.75,635.50 435.62,636.01 435.50,636.22 435.38,636.37 435.25,636.49 435.12,636.60 435.00,636.69 434.88,636.77 434.75,636.84 434.62,636.91 434.50,636.96 434.38,637.01 434.25,637.06 434.12,637.10 434.00,637.14 433.88,637.17 433.75,637.20 433.62,637.22 433.50,637.24 433.38,637.26 433.25,637.27 433.12,637.29 433.00,637.29 432.88,637.30 432.75,637.30 432.62,637.30 432.50,637.29 432.38,637.29 432.25,637.27 432.12,637.26 432.00,637.24 431.88,637.22 431.75,637.20 431.62,637.17 431.50,637.14 431.38,637.10 431.25,637.06 431.12,637.01 431.00,636.96 430.88,636.91 430.75,636.84 430.62,636.77 430.50,636.69 430.38,636.60 430.25,636.49 430.12,636.37 430.00,636.22 429.88,636.01 429.75,635.50" fill="#000" fill-opacity="0.23" stroke="#4a4a4a" stroke-width="0.5"/>
<ellipse cx="433.0" cy="635.5" rx="1.6900000000000002" ry="1.3" fill="#111" fill-opacity="0.6"/>
<polygon points="447.30,650.20 447.25,650.83 447.08,651.43 446.82,652.00 446.46,652.51 446.01,652.96 445.50,653.32 444.93,653.58 444.33,653.75 443.70,653.80 443.07,653.75 442.47,653.58 441.90,653.32 441.39,652.96 440.94,652.51 440.58,652.00 440.32,651.43 440.15,650.83 440.10,650.20 440.15,649.57 440.32,648.97 440.58,648.40 440.94,647.89 441.39,647.44 441.90,647.08 442.47,646.82 443.07,646.65 443.70,646.60 444.33,646.65 444.93,646.82 445.50,647.08 446.01,647.44 446.46,647.89 446.82,648.40 447.08,648.97 447.25,649.57" fill="#000" fill-opacity="0.03" stroke="#4a4a4a" stroke-width="0.5"/>
<polygon points="445.50,650.20 445.47,650.51 445.39,650.82 445.26,651.10 445.08,651.36 444.86,651.58 444.60,651.76 444.32,651.89 444.01,651.97 443.70,652.00 443.39,651.97 443.08,651.89 442.80,651.76 442.54,651.58 442.32,651.36 442.14,651.10 442.01,650.82 441.93,650.51 441.90,650.20 441.93,649.89 442.01,649.58 442.14,649.30 442.32,649.04 442.54,648.82 442.80,648.64 443.08,648.51 443.39,648.43 443.70,648.40 444.01,648.43 444.32,648.51 444.60,648.64 444.86,648.82 445.08,649.04 445.26,649.30 445.39,649.58 445.47,649.89" fill="#000" fill-opacity="0.08" stroke="#4a4a4a" stroke-width="0.5"/>
<ellipse cx="402.09999999999997" cy="634.25" rx="1.8" ry="4.75" fill="#15153a" fill-opacity="0.85"/>
<ellipse cx="402.09999999999997" cy="652.75" rx="1.0" ry="1.25" fill="#15153a" fill-opacity="0.85"/>
<text x="404.3" y="630.5" font-size="7.2" text-anchor="start" fill="#c8485a" stroke="#c8485a" stroke-width="0.12">90%</text>
<text x="445.5" y="679.2" font-size="7.2" text-anchor="start" fill="#4e7e4e" stroke="#4e7e4e" stroke-width="0.12">6%</text>
<rect x="249.2" y="695.1" width="60.80000000000001" height="60.69999999999993" fill="#fff" stroke="#5a5a5a" stroke-width="0.9"/>
<line x1="256.8" y1="755.8" x2="256.8" y2="754.5" stroke="#555" stroke-width="0.7"/>
<line x1="264.4" y1="755.8" x2="264.4" y2="754.5" stroke="#555" stroke-width="0.7"/>
<line x1="272.0" y1="755.8" x2="272.0" y2="754.5" stroke="#555" stroke-width="0.7"/>
<line x1="279.6" y1="755.8" x2="279.6" y2="754.5" stroke="#555" stroke-width="0.7"/>
<line x1="287.2" y1="755.8" x2="287.2" y2="754.5" stroke="#555" stroke-width="0.7"/>
<line x1="294.8" y1="755.8" x2="294.8" y2="754.5" stroke="#555" stroke-width="0.7"/>
<line x1="302.4" y1="755.8" x2="302.4" y2="754.5" stroke="#555" stroke-width="0.7"/>
<line x1="249.2" y1="702.6875" x2="250.5" y2="702.6875" stroke="#555" stroke-width="0.7"/>
<line x1="249.2" y1="710.275" x2="250.5" y2="710.275" stroke="#555" stroke-width="0.7"/>
<line x1="249.2" y1="717.8625" x2="250.5" y2="717.8625" stroke="#555" stroke-width="0.7"/>
<line x1="249.2" y1="725.45" x2="250.5" y2="725.45" stroke="#555" stroke-width="0.7"/>
<line x1="249.2" y1="733.0375" x2="250.5" y2="733.0375" stroke="#555" stroke-width="0.7"/>
<line x1="249.2" y1="740.625" x2="250.5" y2="740.625" stroke="#555" stroke-width="0.7"/>
<line x1="249.2" y1="748.2125" x2="250.5" y2="748.2125" stroke="#555" stroke-width="0.7"/>
<polygon points="249.2,695.1 289.2,695.1 289.2,706.8 280.6,716.4 249.2,716.4" fill="none" stroke="#7c7cd6" stroke-width="0.7"/>
<polygon points="280.2,755.8 280.2,731.4 291.1,714.8 304.9,714.8 304.9,755.8" fill="none" stroke="#7c7cd6" stroke-width="0.7"/>
<path d="M250.5,704 C256,702.5 262,702 268,699.8 C275,697.8 284,698 287.6,701.5 C290,705 287,710 282,714 C276,714.5 270,711 262,709 C257,708 253,708 250.5,708Z" fill="#000" fill-opacity="0.08" stroke="#3c3c3c" stroke-width="0.5"/>
<polygon points="262.00,703.50 262.55,702.50 263.10,702.09 263.66,701.77 264.21,701.70 264.76,701.70 265.31,701.70 265.86,701.70 266.42,701.70 266.97,701.70 267.52,701.70 268.07,701.70 268.62,701.70 269.18,701.70 269.73,701.70 270.28,701.59 270.83,701.05 271.39,700.63 271.94,700.29 272.49,700.00 273.04,699.76 273.59,699.55 274.15,699.37 274.70,699.22 275.25,699.09 275.80,698.98 276.35,698.89 276.91,698.82 277.46,698.76 278.01,698.73 278.56,698.71 279.11,698.70 279.67,698.71 280.22,698.74 280.77,698.78 281.32,698.85 281.88,698.93 282.43,699.02 282.98,699.14 283.53,699.28 284.08,699.44 284.64,699.64 285.19,699.86 285.74,700.12 286.29,700.42 286.84,700.79 287.40,701.25 287.95,701.89 288.50,703.50 288.50,703.50 287.95,705.11 287.40,705.75 286.84,706.21 286.29,706.58 285.74,706.88 285.19,707.14 284.64,707.36 284.08,707.56 283.53,707.72 282.98,707.86 282.43,707.98 281.88,708.07 281.32,708.15 280.77,708.22 280.22,708.26 279.67,708.29 279.11,708.30 278.56,708.29 278.01,708.27 277.46,708.24 276.91,708.18 276.35,708.11 275.80,708.02 275.25,707.91 274.70,707.78 274.15,707.63 273.59,707.45 273.04,707.24 272.49,707.00 271.94,706.71 271.39,706.37 270.83,705.95 270.28,705.41 269.73,705.30 269.18,705.30 268.62,705.30 268.07,705.30 267.52,705.30 266.97,705.30 266.42,705.30 265.86,705.30 265.31,705.30 264.76,705.30 264.21,705.30 263.66,705.23 263.10,704.91 262.55,704.50 262.00,703.50" fill="#000" fill-opacity="0.03" stroke="#4a4a4a" stroke-width="0.5"/>
<polygon points="269.65,703.50 270.01,702.83 270.36,702.55 270.72,702.34 271.07,702.24 271.43,702.24 271.78,702.24 272.14,702.24 272.49,702.24 272.85,702.24 273.21,701.91 273.56,701.58 273.92,701.32 274.27,701.11 274.63,700.92 274.98,700.75 275.34,700.61 275.70,700.49 276.05,700.38 276.41,700.28 276.76,700.20 277.12,700.12 277.47,700.06 277.83,700.01 278.18,699.97 278.54,699.94 278.90,699.92 279.25,699.90 279.61,699.90 279.96,699.90 280.32,699.92 280.67,699.94 281.03,699.97 281.38,700.02 281.74,700.07 282.10,700.13 282.45,700.20 282.81,700.29 283.16,700.38 283.52,700.50 283.87,700.62 284.23,700.77 284.59,700.93 284.94,701.12 285.30,701.34 285.65,701.61 286.01,701.93 286.36,702.38 286.72,703.50 286.72,703.50 286.36,704.62 286.01,705.07 285.65,705.39 285.30,705.66 284.94,705.88 284.59,706.07 284.23,706.23 283.87,706.38 283.52,706.50 283.16,706.62 282.81,706.71 282.45,706.80 282.10,706.87 281.74,706.93 281.38,706.98 281.03,707.03 280.67,707.06 280.32,707.08 279.96,707.10 279.61,707.10 279.25,707.10 278.90,707.08 278.54,707.06 278.18,707.03 277.83,706.99 277.47,706.94 277.12,706.88 276.76,706.80 276.41,706.72 276.05,706.62 275.70,706.51 275.34,706.39 274.98,706.25 274.63,706.08 274.27,705.89 273.92,705.68 273.56,705.42 273.21,705.09 272.85,704.76 272.49,704.76 272.14,704.76 271.78,704.76 271.43,704.76 271.07,704.76 270.72,704.66 270.36,704.45 270.01,704.17 269.65,703.50" fill="#000" fill-opacity="0.08" stroke="#4a4a4a" stroke-width="0.5"/>
<polygon points="274.84,703.50 275.06,702.75 275.28,702.44 275.50,702.22 275.71,702.04 275.93,701.89 276.15,701.75 276.37,701.64 276.59,701.53 276.80,701.44 277.02,701.36 277.24,701.28 277.46,701.21 277.67,701.15 277.89,701.10 278.11,701.05 278.33,701.01 278.54,700.97 278.76,700.94 278.98,700.92 279.20,700.90 279.42,700.88 279.63,700.87 279.85,700.86 280.07,700.86 280.29,700.86 280.50,700.87 280.72,700.88 280.94,700.90 281.16,700.92 281.38,700.94 281.59,700.97 281.81,701.01 282.03,701.05 282.25,701.10 282.46,701.15 282.68,701.21 282.90,701.28 283.12,701.36 283.33,701.44 283.55,701.53 283.77,701.64 283.99,701.75 284.21,701.89 284.42,702.04 284.64,702.22 284.86,702.44 285.08,702.75 285.29,703.50 285.29,703.50 285.08,704.25 284.86,704.56 284.64,704.78 284.42,704.96 284.21,705.11 283.99,705.25 283.77,705.36 283.55,705.47 283.33,705.56 283.12,705.64 282.90,705.72 282.68,705.79 282.46,705.85 282.25,705.90 282.03,705.95 281.81,705.99 281.59,706.03 281.38,706.06 281.16,706.08 280.94,706.10 280.72,706.12 280.50,706.13 280.29,706.14 280.07,706.14 279.85,706.14 279.63,706.13 279.42,706.12 279.20,706.10 278.98,706.08 278.76,706.06 278.54,706.03 278.33,705.99 278.11,705.95 277.89,705.90 277.67,705.85 277.46,705.79 277.24,705.72 277.02,705.64 276.80,705.56 276.59,705.47 276.37,705.36 276.15,705.25 275.93,705.11 275.71,704.96 275.50,704.78 275.28,704.56 275.06,704.25 274.84,703.50" fill="#000" fill-opacity="0.13" stroke="#4a4a4a" stroke-width="0.5"/>
<polygon points="277.22,703.50 277.36,703.02 277.50,702.83 277.63,702.69 277.77,702.57 277.91,702.47 278.05,702.39 278.19,702.31 278.33,702.25 278.47,702.19 278.60,702.14 278.74,702.09 278.88,702.05 279.02,702.01 279.16,701.97 279.30,701.94 279.44,701.92 279.57,701.89 279.71,701.87 279.85,701.86 279.99,701.84 280.13,701.83 280.27,701.83 280.41,701.82 280.54,701.82 280.68,701.82 280.82,701.83 280.96,701.83 281.10,701.84 281.24,701.86 281.38,701.87 281.51,701.89 281.65,701.92 281.79,701.94 281.93,701.97 282.07,702.01 282.21,702.05 282.34,702.09 282.48,702.14 282.62,702.19 282.76,702.25 282.90,702.31 283.04,702.39 283.18,702.47 283.31,702.57 283.45,702.69 283.59,702.83 283.73,703.02 283.87,703.50 283.87,703.50 283.73,703.98 283.59,704.17 283.45,704.31 283.31,704.43 283.18,704.53 283.04,704.61 282.90,704.69 282.76,704.75 282.62,704.81 282.48,704.86 282.34,704.91 282.21,704.95 282.07,704.99 281.93,705.03 281.79,705.06 281.65,705.08 281.51,705.11 281.38,705.13 281.24,705.14 281.10,705.16 280.96,705.17 280.82,705.17 280.68,705.18 280.54,705.18 280.41,705.18 280.27,705.17 280.13,705.17 279.99,705.16 279.85,705.14 279.71,705.13 279.57,705.11 279.44,705.08 279.30,705.06 279.16,705.03 279.02,704.99 278.88,704.95 278.74,704.91 278.60,704.86 278.47,704.81 278.33,704.75 278.19,704.69 278.05,704.61 277.91,704.53 277.77,704.43 277.63,704.31 277.50,704.17 277.36,703.98 277.22,703.50" fill="#000" fill-opacity="0.18" stroke="#4a4a4a" stroke-width="0.5"/>
<ellipse cx="280.9" cy="703.5" rx="1.6900000000000002" ry="1.3" fill="#111" fill-opacity="0.6"/>
<polygon points="297.50,727.00 297.08,728.94 296.49,730.83 295.76,732.60 294.93,734.20 294.04,735.58 293.12,736.70 292.18,737.52 291.24,738.03 290.30,738.20 289.36,738.03 288.42,737.52 287.48,736.70 286.56,735.58 285.67,734.20 284.84,732.60 284.11,730.83 283.52,728.94 283.10,727.00 283.21,725.06 283.53,723.17 284.06,721.40 284.78,719.80 285.67,718.42 286.70,717.30 287.84,716.48 289.05,715.97 290.30,715.80 291.55,715.97 292.76,716.48 293.90,717.30 294.93,718.42 295.82,719.80 296.54,721.40 297.07,723.17 297.39,725.06" fill="#000" fill-opacity="0.03" stroke="#4a4a4a" stroke-width="0.5"/>
<polygon points="295.98,726.67 295.66,728.19 295.19,729.66 294.62,731.04 293.98,732.29 293.28,733.36 292.57,734.24 291.84,734.88 291.10,735.27 290.37,735.41 289.63,735.27 288.90,734.88 288.17,734.24 287.45,733.36 286.76,732.29 286.11,731.04 285.54,729.66 285.08,728.19 284.75,726.67 284.84,725.15 285.09,723.68 285.50,722.30 286.06,721.05 286.76,719.98 287.56,719.10 288.45,718.46 289.39,718.07 290.37,717.93 291.34,718.07 292.29,718.46 293.17,719.10 293.98,719.98 294.67,721.05 295.23,722.30 295.64,723.68 295.90,725.15" fill="#000" fill-opacity="0.08" stroke="#4a4a4a" stroke-width="0.5"/>
<polygon points="294.60,726.37 294.36,727.50 294.01,728.59 293.59,729.62 293.11,730.55 292.60,731.35 292.06,732.00 291.52,732.47 290.97,732.77 290.43,732.87 289.88,732.77 289.33,732.47 288.79,732.00 288.26,731.35 287.74,730.55 287.26,729.62 286.84,728.59 286.49,727.50 286.25,726.37 286.31,725.24 286.50,724.15 286.81,723.12 287.23,722.19 287.74,721.39 288.34,720.74 289.00,720.27 289.70,719.97 290.43,719.87 291.15,719.97 291.85,720.27 292.51,720.74 293.11,721.39 293.63,722.19 294.04,723.12 294.35,724.15 294.54,725.24" fill="#000" fill-opacity="0.13" stroke="#4a4a4a" stroke-width="0.5"/>
<polygon points="293.36,726.10 293.19,726.88 292.95,727.63 292.66,728.34 292.33,728.98 291.98,729.53 291.61,729.98 291.23,730.31 290.86,730.51 290.48,730.58 290.10,730.51 289.73,730.31 289.35,729.98 288.98,729.53 288.63,728.98 288.30,728.34 288.01,727.63 287.77,726.88 287.60,726.10 287.64,725.32 287.77,724.57 287.99,723.86 288.27,723.22 288.63,722.67 289.04,722.22 289.49,721.89 289.98,721.69 290.48,721.62 290.98,721.69 291.47,721.89 291.92,722.22 292.33,722.67 292.69,723.22 292.97,723.86 293.19,724.57 293.32,725.32" fill="#000" fill-opacity="0.18" stroke="#4a4a4a" stroke-width="0.5"/>
<polygon points="292.26,725.86 292.16,726.33 292.01,726.78 291.84,727.20 291.64,727.59 291.43,727.92 291.20,728.19 290.98,728.39 290.75,728.51 290.53,728.55 290.30,728.51 290.08,728.39 289.85,728.19 289.63,727.92 289.42,727.59 289.22,727.20 289.04,726.78 288.90,726.33 288.80,725.86 288.83,725.39 288.90,724.94 289.03,724.52 289.20,724.13 289.42,723.80 289.66,723.53 289.94,723.33 290.23,723.21 290.53,723.17 290.83,723.21 291.12,723.33 291.39,723.53 291.64,723.80 291.85,724.13 292.02,724.52 292.15,724.94 292.23,725.39" fill="#000" fill-opacity="0.23" stroke="#4a4a4a" stroke-width="0.5"/>
<ellipse cx="290.6" cy="725.5" rx="1.3" ry="1.0" fill="#111" fill-opacity="0.6"/>
<ellipse cx="291" cy="754.5" rx="2.2" ry="1.1" fill="none" stroke="#444" stroke-width="0.5"/>
<ellipse cx="250.3" cy="705.3" rx="1.0" ry="4.699999999999989" fill="#15153a" fill-opacity="0.85"/>
<text x="253.5" y="702.5" font-size="7.2" text-anchor="start" fill="#c8485a" stroke="#c8485a" stroke-width="0.12">41%</text>
<text x="289.8" y="751" font-size="7.2" text-anchor="start" fill="#4e7e4e" stroke="#4e7e4e" stroke-width="0.12">36%</text>
<rect x="325.8" y="695.1" width="60.0" height="60.69999999999993" fill="#fff" stroke="#5a5a5a" stroke-width="0.9"/>
<line x1="333.3" y1="755.8" x2="333.3" y2="754.5" stroke="#555" stroke-width="0.7"/>
<line x1="340.8" y1="755.8" x2="340.8" y2="754.5" stroke="#555" stroke-width="0.7"/>
<line x1="348.3" y1="755.8" x2="348.3" y2="754.5" stroke="#555" stroke-width="0.7"/>
<line x1="355.8" y1="755.8" x2="355.8" y2="754.5" stroke="#555" stroke-width="0.7"/>
<line x1="363.3" y1="755.8" x2="363.3" y2="754.5" stroke="#555" stroke-width="0.7"/>
<line x1="370.8" y1="755.8" x2="370.8" y2="754.5" stroke="#555" stroke-width="0.7"/>
<line x1="378.3" y1="755.8" x2="378.3" y2="754.5" stroke="#555" stroke-width="0.7"/>
<line x1="325.8" y1="702.6875" x2="327.1" y2="702.6875" stroke="#555" stroke-width="0.7"/>
<line x1="325.8" y1="710.275" x2="327.1" y2="710.275" stroke="#555" stroke-width="0.7"/>
<line x1="325.8" y1="717.8625" x2="327.1" y2="717.8625" stroke="#555" stroke-width="0.7"/>
<line x1="325.8" y1="725.45" x2="327.1" y2="725.45" stroke="#555" stroke-width="0.7"/>
<line x1="325.8" y1="733.0375" x2="327.1" y2="733.0375" stroke="#555" stroke-width="0.7"/>
<line x1="325.8" y1="740.625" x2="327.1" y2="740.625" stroke="#555" stroke-width="0.7"/>
<line x1="325.8" y1="748.2125" x2="327.1" y2="748.2125" stroke="#555" stroke-width="0.7"/>
<polygon points="325.8,695.1 368.3,695.1 368.3,705.5 361.5,716 325.8,716" fill="none" stroke="#7c7cd6" stroke-width="0.7"/>
<polygon points="356.6,755.8 356.6,732 367.7,714.8 381.2,714.8 381.2,755.8" fill="none" stroke="#7c7cd6" stroke-width="0.7"/>
<polygon points="359.20,706.20 359.12,706.77 358.90,707.33 358.53,707.85 358.03,708.32 357.41,708.73 356.70,709.06 355.91,709.30 355.07,709.45 354.20,709.50 353.33,709.45 352.49,709.30 351.70,709.06 350.99,708.73 350.37,708.32 349.87,707.85 349.50,707.33 349.28,706.77 349.20,706.20 349.28,705.63 349.50,705.07 349.87,704.55 350.37,704.08 350.99,703.67 351.70,703.34 352.49,703.10 353.33,702.95 354.20,702.90 355.07,702.95 355.91,703.10 356.70,703.34 357.41,703.67 358.03,704.08 358.53,704.55 358.90,705.07 359.12,705.63" fill="#000" fill-opacity="0.03" stroke="#4a4a4a" stroke-width="0.5"/>
<circle cx="354.8" cy="706" r="0.8" fill="#333"/>
<path d="M326.2,717.5 L333,722 L326.2,727 Z" fill="#000" fill-opacity="0.25" stroke="#3c3c3c" stroke-width="0.5"/>
<polygon points="333.00,722.20 333.59,720.91 334.19,720.38 334.78,719.97 335.38,719.62 335.97,719.40 336.56,719.40 337.16,719.40 337.75,719.40 338.34,719.40 338.94,719.40 339.53,719.40 340.12,719.40 340.72,719.40 341.31,719.40 341.91,719.40 342.50,719.40 343.09,719.40 343.69,719.40 344.28,719.11 344.88,718.69 345.47,718.35 346.06,718.06 346.66,717.82 347.25,717.61 347.84,717.43 348.44,717.29 349.03,717.17 349.62,717.07 350.22,716.99 350.81,716.94 351.41,716.91 352.00,716.90 352.59,716.91 353.19,716.94 353.78,716.99 354.38,717.07 354.97,717.17 355.56,717.29 356.16,717.43 356.75,717.61 357.34,717.82 357.94,718.06 358.53,718.35 359.12,718.69 359.72,719.11 360.31,719.63 360.91,720.36 361.50,722.20 361.50,722.20 360.91,724.04 360.31,724.77 359.72,725.29 359.12,725.71 358.53,726.05 357.94,726.34 357.34,726.58 356.75,726.79 356.16,726.97 355.56,727.11 354.97,727.23 354.38,727.33 353.78,727.41 353.19,727.46 352.59,727.49 352.00,727.50 351.41,727.49 350.81,727.46 350.22,727.41 349.62,727.33 349.03,727.23 348.44,727.11 347.84,726.97 347.25,726.79 346.66,726.58 346.06,726.34 345.47,726.05 344.88,725.71 344.28,725.29 343.69,725.00 343.09,725.00 342.50,725.00 341.91,725.00 341.31,725.00 340.72,725.00 340.12,725.00 339.53,725.00 338.94,725.00 338.34,725.00 337.75,725.00 337.16,725.00 336.56,725.00 335.97,725.00 335.38,724.78 334.78,724.43 334.19,724.02 333.59,723.49 333.00,722.20" fill="#000" fill-opacity="0.03" stroke="#4a4a4a" stroke-width="0.5"/>
<polygon points="341.55,722.20 341.94,721.33 342.32,720.97 342.71,720.69 343.09,720.46 343.48,720.26 343.87,720.24 344.25,720.24 344.64,720.24 345.02,720.24 345.41,720.24 345.80,720.18 346.18,719.82 346.57,719.53 346.95,719.29 347.34,719.07 347.73,718.89 348.11,718.73 348.50,718.59 348.88,718.46 349.27,718.36 349.65,718.26 350.04,718.18 350.43,718.12 350.81,718.06 351.20,718.02 351.58,717.99 351.97,717.97 352.36,717.96 352.74,717.96 353.13,717.98 353.51,718.00 353.90,718.04 354.29,718.08 354.67,718.14 355.06,718.21 355.44,718.30 355.83,718.40 356.22,718.51 356.60,718.64 356.99,718.79 357.37,718.96 357.76,719.15 358.15,719.38 358.53,719.64 358.92,719.95 359.30,720.34 359.69,720.87 360.08,722.20 360.08,722.20 359.69,723.53 359.30,724.06 358.92,724.45 358.53,724.76 358.15,725.02 357.76,725.25 357.37,725.44 356.99,725.61 356.60,725.76 356.22,725.89 355.83,726.00 355.44,726.10 355.06,726.19 354.67,726.26 354.29,726.32 353.90,726.36 353.51,726.40 353.13,726.42 352.74,726.44 352.36,726.44 351.97,726.43 351.58,726.41 351.20,726.38 350.81,726.34 350.43,726.28 350.04,726.22 349.65,726.14 349.27,726.04 348.88,725.94 348.50,725.81 348.11,725.67 347.73,725.51 347.34,725.33 346.95,725.11 346.57,724.87 346.18,724.58 345.80,724.22 345.41,724.16 345.02,724.16 344.64,724.16 344.25,724.16 343.87,724.16 343.48,724.14 343.09,723.94 342.71,723.71 342.32,723.43 341.94,723.07 341.55,722.20" fill="#000" fill-opacity="0.08" stroke="#4a4a4a" stroke-width="0.5"/>
<polygon points="347.01,722.20 347.26,721.26 347.50,720.89 347.75,720.61 347.99,720.38 348.24,720.19 348.49,720.03 348.73,719.88 348.98,719.75 349.22,719.63 349.47,719.53 349.71,719.44 349.96,719.35 350.20,719.28 350.45,719.21 350.69,719.15 350.94,719.10 351.18,719.06 351.43,719.02 351.68,718.99 351.92,718.96 352.17,718.94 352.41,718.93 352.66,718.92 352.90,718.91 353.15,718.92 353.39,718.93 353.64,718.94 353.88,718.96 354.13,718.99 354.38,719.02 354.62,719.06 354.87,719.10 355.11,719.15 355.36,719.21 355.60,719.28 355.85,719.35 356.09,719.44 356.34,719.53 356.58,719.63 356.83,719.75 357.07,719.88 357.32,720.03 357.57,720.19 357.81,720.38 358.06,720.61 358.30,720.89 358.55,721.26 358.79,722.20 358.79,722.20 358.55,723.14 358.30,723.51 358.06,723.79 357.81,724.02 357.57,724.21 357.32,724.37 357.07,724.52 356.83,724.65 356.58,724.77 356.34,724.87 356.09,724.96 355.85,725.05 355.60,725.12 355.36,725.19 355.11,725.25 354.87,725.30 354.62,725.34 354.38,725.38 354.13,725.41 353.88,725.44 353.64,725.46 353.39,725.47 353.15,725.48 352.90,725.49 352.66,725.48 352.41,725.47 352.17,725.46 351.92,725.44 351.68,725.41 351.43,725.38 351.18,725.34 350.94,725.30 350.69,725.25 350.45,725.19 350.20,725.12 349.96,725.05 349.71,724.96 349.47,724.87 349.22,724.77 348.98,724.65 348.73,724.52 348.49,724.37 348.24,724.21 347.99,724.02 347.75,723.79 347.50,723.51 347.26,723.14 347.01,722.20" fill="#000" fill-opacity="0.13" stroke="#4a4a4a" stroke-width="0.5"/>
<polygon points="349.03,722.20 349.21,721.52 349.39,721.25 349.57,721.05 349.74,720.88 349.92,720.74 350.10,720.62 350.28,720.52 350.46,720.42 350.63,720.34 350.81,720.26 350.99,720.20 351.17,720.13 351.35,720.08 351.52,720.03 351.70,719.99 351.88,719.95 352.06,719.92 352.24,719.89 352.42,719.87 352.59,719.85 352.77,719.83 352.95,719.82 353.13,719.82 353.31,719.82 353.48,719.82 353.66,719.82 353.84,719.83 354.02,719.85 354.20,719.87 354.38,719.89 354.55,719.92 354.73,719.95 354.91,719.99 355.09,720.03 355.27,720.08 355.44,720.13 355.62,720.20 355.80,720.26 355.98,720.34 356.16,720.42 356.33,720.52 356.51,720.62 356.69,720.74 356.87,720.88 357.05,721.05 357.22,721.25 357.40,721.52 357.58,722.20 357.58,722.20 357.40,722.88 357.22,723.15 357.05,723.35 356.87,723.52 356.69,723.66 356.51,723.78 356.33,723.88 356.16,723.98 355.98,724.06 355.80,724.14 355.62,724.20 355.44,724.27 355.27,724.32 355.09,724.37 354.91,724.41 354.73,724.45 354.55,724.48 354.38,724.51 354.20,724.53 354.02,724.55 353.84,724.57 353.66,724.58 353.48,724.58 353.31,724.59 353.13,724.58 352.95,724.58 352.77,724.57 352.59,724.55 352.42,724.53 352.24,724.51 352.06,724.48 351.88,724.45 351.70,724.41 351.52,724.37 351.35,724.32 351.17,724.27 350.99,724.20 350.81,724.14 350.63,724.06 350.46,723.98 350.28,723.88 350.10,723.78 349.92,723.66 349.74,723.52 349.57,723.35 349.39,723.15 349.21,722.88 349.03,722.20" fill="#000" fill-opacity="0.18" stroke="#4a4a4a" stroke-width="0.5"/>
<polygon points="350.81,722.20 350.93,721.75 351.05,721.56 351.17,721.43 351.29,721.32 351.41,721.23 351.52,721.15 351.64,721.08 351.76,721.01 351.88,720.96 352.00,720.91 352.12,720.86 352.24,720.82 352.36,720.79 352.48,720.75 352.59,720.73 352.71,720.70 352.83,720.68 352.95,720.66 353.07,720.64 353.19,720.63 353.31,720.62 353.43,720.62 353.54,720.61 353.66,720.61 353.78,720.61 353.90,720.62 354.02,720.62 354.14,720.63 354.26,720.64 354.38,720.66 354.49,720.68 354.61,720.70 354.73,720.73 354.85,720.75 354.97,720.79 355.09,720.82 355.21,720.86 355.33,720.91 355.44,720.96 355.56,721.01 355.68,721.08 355.80,721.15 355.92,721.23 356.04,721.32 356.16,721.43 356.28,721.56 356.39,721.75 356.51,722.20 356.51,722.20 356.39,722.65 356.28,722.84 356.16,722.97 356.04,723.08 355.92,723.17 355.80,723.25 355.68,723.32 355.56,723.39 355.44,723.44 355.33,723.49 355.21,723.54 355.09,723.58 354.97,723.61 354.85,723.65 354.73,723.67 354.61,723.70 354.49,723.72 354.38,723.74 354.26,723.76 354.14,723.77 354.02,723.78 353.90,723.78 353.78,723.79 353.66,723.79 353.54,723.79 353.43,723.78 353.31,723.78 353.19,723.77 353.07,723.76 352.95,723.74 352.83,723.72 352.71,723.70 352.59,723.67 352.48,723.65 352.36,723.61 352.24,723.58 352.12,723.54 352.00,723.49 351.88,723.44 351.76,723.39 351.64,723.32 351.52,723.25 351.41,723.17 351.29,723.08 351.17,722.97 351.05,722.84 350.93,722.65 350.81,722.20" fill="#000" fill-opacity="0.23" stroke="#4a4a4a" stroke-width="0.5"/>
<ellipse cx="353.9" cy="722.2" rx="1.6900000000000002" ry="1.3" fill="#111" fill-opacity="0.6"/>
<ellipse cx="354.8" cy="721.6" rx="3.2" ry="1.8" fill="#111" fill-opacity="0.85"/>
<circle cx="370.2" cy="720.9" r="0.7" fill="#444"/>
<text x="330.8" y="702.5" font-size="7.2" text-anchor="start" fill="#c8485a" stroke="#c8485a" stroke-width="0.12">6%</text>
<text x="370.2" y="751" font-size="7.2" text-anchor="start" fill="#4e7e4e" stroke="#4e7e4e" stroke-width="0.12">2%</text>
<rect x="401.2" y="695.1" width="60.400000000000034" height="60.69999999999993" fill="#fff" stroke="#5a5a5a" stroke-width="0.9"/>
<line x1="408.75" y1="755.8" x2="408.75" y2="754.5" stroke="#555" stroke-width="0.7"/>
<line x1="416.3" y1="755.8" x2="416.3" y2="754.5" stroke="#555" stroke-width="0.7"/>
<line x1="423.85" y1="755.8" x2="423.85" y2="754.5" stroke="#555" stroke-width="0.7"/>
<line x1="431.4" y1="755.8" x2="431.4" y2="754.5" stroke="#555" stroke-width="0.7"/>
<line x1="438.95" y1="755.8" x2="438.95" y2="754.5" stroke="#555" stroke-width="0.7"/>
<line x1="446.5" y1="755.8" x2="446.5" y2="754.5" stroke="#555" stroke-width="0.7"/>
<line x1="454.05" y1="755.8" x2="454.05" y2="754.5" stroke="#555" stroke-width="0.7"/>
<line x1="401.2" y1="702.6875" x2="402.5" y2="702.6875" stroke="#555" stroke-width="0.7"/>
<line x1="401.2" y1="710.275" x2="402.5" y2="710.275" stroke="#555" stroke-width="0.7"/>
<line x1="401.2" y1="717.8625" x2="402.5" y2="717.8625" stroke="#555" stroke-width="0.7"/>
<line x1="401.2" y1="725.45" x2="402.5" y2="725.45" stroke="#555" stroke-width="0.7"/>
<line x1="401.2" y1="733.0375" x2="402.5" y2="733.0375" stroke="#555" stroke-width="0.7"/>
<line x1="401.2" y1="740.625" x2="402.5" y2="740.625" stroke="#555" stroke-width="0.7"/>
<line x1="401.2" y1="748.2125" x2="402.5" y2="748.2125" stroke="#555" stroke-width="0.7"/>
<polygon points="401.2,695.1 443.7,695.1 443.7,705.5 436.9,716 401.2,716" fill="none" stroke="#7c7cd6" stroke-width="0.7"/>
<polygon points="431.4,755.8 431.4,731.4 442.5,714.2 456.6,714.2 456.6,755.8" fill="none" stroke="#7c7cd6" stroke-width="0.7"/>
<polygon points="408.60,705.00 409.26,703.91 409.93,703.45 410.59,703.20 411.26,703.20 411.92,703.20 412.59,703.20 413.25,703.20 413.92,703.20 414.58,703.20 415.25,703.20 415.91,703.20 416.58,703.20 417.24,703.20 417.90,703.20 418.57,703.20 419.23,703.20 419.90,703.20 420.56,702.55 421.23,701.92 421.89,701.44 422.56,701.05 423.22,700.72 423.89,700.45 424.55,700.21 425.21,700.02 425.88,699.85 426.54,699.71 427.21,699.60 427.87,699.52 428.54,699.45 429.20,699.42 429.87,699.40 430.53,699.41 431.20,699.44 431.86,699.49 432.52,699.56 433.19,699.66 433.85,699.79 434.52,699.95 435.18,700.13 435.85,700.35 436.51,700.61 437.18,700.91 437.84,701.28 438.51,701.72 439.17,702.27 439.84,703.04 440.50,705.00 440.50,705.00 439.84,706.96 439.17,707.73 438.51,708.28 437.84,708.72 437.18,709.09 436.51,709.39 435.85,709.65 435.18,709.87 434.52,710.05 433.85,710.21 433.19,710.34 432.52,710.44 431.86,710.51 431.20,710.56 430.53,710.59 429.87,710.60 429.20,710.58 428.54,710.55 427.87,710.48 427.21,710.40 426.54,710.29 425.88,710.15 425.21,709.98 424.55,709.79 423.89,709.55 423.22,709.28 422.56,708.95 421.89,708.56 421.23,708.08 420.56,707.45 419.90,706.80 419.23,706.80 418.57,706.80 417.90,706.80 417.24,706.80 416.58,706.80 415.91,706.80 415.25,706.80 414.58,706.80 413.92,706.80 413.25,706.80 412.59,706.80 411.92,706.80 411.26,706.80 410.59,706.80 409.93,706.55 409.26,706.09 408.60,705.00" fill="#000" fill-opacity="0.03" stroke="#4a4a4a" stroke-width="0.5"/>
<polygon points="418.23,705.00 418.66,704.26 419.09,703.96 419.52,703.74 419.95,703.74 420.39,703.74 420.82,703.74 421.25,703.74 421.68,703.74 422.11,703.74 422.54,703.61 422.97,703.04 423.40,702.62 423.83,702.29 424.27,702.01 424.70,701.77 425.13,701.57 425.56,701.39 425.99,701.23 426.42,701.09 426.85,700.97 427.28,700.87 427.72,700.78 428.15,700.70 428.58,700.64 429.01,700.59 429.44,700.56 429.87,700.53 430.30,700.52 430.73,700.52 431.16,700.53 431.60,700.56 432.03,700.59 432.46,700.64 432.89,700.70 433.32,700.78 433.75,700.86 434.18,700.97 434.61,701.09 435.04,701.22 435.48,701.38 435.91,701.56 436.34,701.77 436.77,702.00 437.20,702.28 437.63,702.61 438.06,703.02 438.49,703.58 438.92,705.00 438.92,705.00 438.49,706.42 438.06,706.98 437.63,707.39 437.20,707.72 436.77,708.00 436.34,708.23 435.91,708.44 435.48,708.62 435.04,708.78 434.61,708.91 434.18,709.03 433.75,709.14 433.32,709.22 432.89,709.30 432.46,709.36 432.03,709.41 431.60,709.44 431.16,709.47 430.73,709.48 430.30,709.48 429.87,709.47 429.44,709.44 429.01,709.41 428.58,709.36 428.15,709.30 427.72,709.22 427.28,709.13 426.85,709.03 426.42,708.91 425.99,708.77 425.56,708.61 425.13,708.43 424.70,708.23 424.27,707.99 423.83,707.71 423.40,707.38 422.97,706.96 422.54,706.39 422.11,706.26 421.68,706.26 421.25,706.26 420.82,706.26 420.39,706.26 419.95,706.26 419.52,706.26 419.09,706.04 418.66,705.74 418.23,705.00" fill="#000" fill-opacity="0.08" stroke="#4a4a4a" stroke-width="0.5"/>
<polygon points="424.49,705.00 424.76,704.01 425.03,703.61 425.30,703.32 425.57,703.08 425.84,702.88 426.12,702.70 426.39,702.55 426.66,702.41 426.93,702.29 427.20,702.18 427.47,702.08 427.74,701.99 428.01,701.91 428.29,701.84 428.56,701.78 428.83,701.73 429.10,701.68 429.37,701.64 429.64,701.60 429.91,701.58 430.18,701.56 430.45,701.54 430.73,701.53 431.00,701.53 431.27,701.53 431.54,701.54 431.81,701.56 432.08,701.58 432.35,701.60 432.62,701.64 432.90,701.68 433.17,701.73 433.44,701.78 433.71,701.84 433.98,701.91 434.25,701.99 434.52,702.08 434.80,702.18 435.07,702.29 435.34,702.41 435.61,702.55 435.88,702.70 436.15,702.88 436.42,703.08 436.69,703.32 436.96,703.61 437.24,704.01 437.51,705.00 437.51,705.00 437.24,705.99 436.96,706.39 436.69,706.68 436.42,706.92 436.15,707.12 435.88,707.30 435.61,707.45 435.34,707.59 435.07,707.71 434.80,707.82 434.52,707.92 434.25,708.01 433.98,708.09 433.71,708.16 433.44,708.22 433.17,708.27 432.90,708.32 432.62,708.36 432.35,708.40 432.08,708.42 431.81,708.44 431.54,708.46 431.27,708.47 431.00,708.47 430.73,708.47 430.45,708.46 430.18,708.44 429.91,708.42 429.64,708.40 429.37,708.36 429.10,708.32 428.83,708.27 428.56,708.22 428.29,708.16 428.01,708.09 427.74,708.01 427.47,707.92 427.20,707.82 426.93,707.71 426.66,707.59 426.39,707.45 426.12,707.30 425.84,707.12 425.57,706.92 425.30,706.68 425.03,706.39 424.76,705.99 424.49,705.00" fill="#000" fill-opacity="0.13" stroke="#4a4a4a" stroke-width="0.5"/>
<polygon points="426.72,705.00 426.92,704.28 427.11,703.99 427.31,703.78 427.51,703.61 427.70,703.46 427.90,703.33 428.10,703.22 428.29,703.12 428.49,703.03 428.69,702.95 428.88,702.88 429.08,702.82 429.28,702.76 429.48,702.71 429.67,702.66 429.87,702.62 430.07,702.59 430.26,702.56 430.46,702.54 430.66,702.52 430.85,702.50 431.05,702.49 431.25,702.48 431.44,702.48 431.64,702.48 431.84,702.49 432.03,702.50 432.23,702.52 432.43,702.54 432.62,702.56 432.82,702.59 433.02,702.62 433.22,702.66 433.41,702.71 433.61,702.76 433.81,702.82 434.00,702.88 434.20,702.95 434.40,703.03 434.59,703.12 434.79,703.22 434.99,703.33 435.18,703.46 435.38,703.61 435.58,703.78 435.78,703.99 435.97,704.28 436.17,705.00 436.17,705.00 435.97,705.72 435.78,706.01 435.58,706.22 435.38,706.39 435.18,706.54 434.99,706.67 434.79,706.78 434.59,706.88 434.40,706.97 434.20,707.05 434.00,707.12 433.81,707.18 433.61,707.24 433.41,707.29 433.22,707.34 433.02,707.38 432.82,707.41 432.62,707.44 432.43,707.46 432.23,707.48 432.03,707.50 431.84,707.51 431.64,707.52 431.44,707.52 431.25,707.52 431.05,707.51 430.85,707.50 430.66,707.48 430.46,707.46 430.26,707.44 430.07,707.41 429.87,707.38 429.67,707.34 429.48,707.29 429.28,707.24 429.08,707.18 428.88,707.12 428.69,707.05 428.49,706.97 428.29,706.88 428.10,706.78 427.90,706.67 427.70,706.54 427.51,706.39 427.31,706.22 427.11,706.01 426.92,705.72 426.72,705.00" fill="#000" fill-opacity="0.18" stroke="#4a4a4a" stroke-width="0.5"/>
<polygon points="428.69,705.00 428.82,704.52 428.95,704.33 429.08,704.19 429.21,704.07 429.34,703.97 429.48,703.89 429.61,703.81 429.74,703.75 429.87,703.69 430.00,703.64 430.13,703.59 430.26,703.55 430.39,703.51 430.52,703.47 430.66,703.44 430.79,703.42 430.92,703.39 431.05,703.37 431.18,703.36 431.31,703.34 431.44,703.33 431.57,703.33 431.71,703.32 431.84,703.32 431.97,703.32 432.10,703.33 432.23,703.33 432.36,703.34 432.49,703.36 432.62,703.37 432.76,703.39 432.89,703.42 433.02,703.44 433.15,703.47 433.28,703.51 433.41,703.55 433.54,703.59 433.67,703.64 433.81,703.69 433.94,703.75 434.07,703.81 434.20,703.89 434.33,703.97 434.46,704.07 434.59,704.19 434.72,704.33 434.86,704.52 434.99,705.00 434.99,705.00 434.86,705.48 434.72,705.67 434.59,705.81 434.46,705.93 434.33,706.03 434.20,706.11 434.07,706.19 433.94,706.25 433.81,706.31 433.67,706.36 433.54,706.41 433.41,706.45 433.28,706.49 433.15,706.53 433.02,706.56 432.89,706.58 432.76,706.61 432.62,706.63 432.49,706.64 432.36,706.66 432.23,706.67 432.10,706.67 431.97,706.68 431.84,706.68 431.71,706.68 431.57,706.67 431.44,706.67 431.31,706.66 431.18,706.64 431.05,706.63 430.92,706.61 430.79,706.58 430.66,706.56 430.52,706.53 430.39,706.49 430.26,706.45 430.13,706.41 430.00,706.36 429.87,706.31 429.74,706.25 429.61,706.19 429.48,706.11 429.34,706.03 429.21,705.93 429.08,705.81 428.95,705.67 428.82,705.48 428.69,705.00" fill="#000" fill-opacity="0.23" stroke="#4a4a4a" stroke-width="0.5"/>
<ellipse cx="432.1" cy="705" rx="1.6900000000000002" ry="1.3" fill="#111" fill-opacity="0.6"/>
<ellipse cx="409.5" cy="705.5" rx="1.5" ry="1.2" fill="none" stroke="#444" stroke-width="0.5"/>
<path d="M409.5,722.3 C409.5,719 415,718.5 418.5,721 C420,717 426,714.5 432,715.5 C437,716 439,719 440.5,720.5 C443,718.5 448,718.5 448,722.2 C448,726 443,726 440.5,724.5 C438.5,727.5 433,729 427,728.5 C422,728 420,726 418.5,723.5 C415,726 409.5,726 409.5,722.3Z" fill="#000" fill-opacity="0.08" stroke="#3c3c3c" stroke-width="0.5"/>
<polygon points="434.45,721.80 434.36,722.51 434.09,723.20 433.65,723.84 433.06,724.42 432.32,724.93 431.48,725.33 430.54,725.63 429.53,725.82 428.50,725.88 427.47,725.82 426.46,725.63 425.52,725.33 424.68,724.93 423.94,724.42 423.35,723.84 422.91,723.20 422.64,722.51 422.55,721.80 422.64,721.09 422.91,720.40 423.35,719.76 423.94,719.18 424.68,718.67 425.52,718.27 426.46,717.97 427.47,717.78 428.50,717.72 429.53,717.78 430.54,717.97 431.48,718.27 432.32,718.67 433.06,719.18 433.65,719.76 434.09,720.40 434.36,721.09" fill="#000" fill-opacity="0.03" stroke="#4a4a4a" stroke-width="0.5"/>
<polygon points="432.70,721.80 432.64,722.30 432.45,722.79 432.14,723.24 431.72,723.65 431.20,724.01 430.60,724.29 429.94,724.51 429.23,724.64 428.50,724.68 427.77,724.64 427.06,724.51 426.40,724.29 425.80,724.01 425.28,723.65 424.86,723.24 424.55,722.79 424.36,722.30 424.30,721.80 424.36,721.30 424.55,720.81 424.86,720.36 425.28,719.95 425.80,719.59 426.40,719.31 427.06,719.09 427.77,718.96 428.50,718.92 429.23,718.96 429.94,719.09 430.60,719.31 431.20,719.59 431.72,719.95 432.14,720.36 432.45,720.81 432.64,721.30" fill="#000" fill-opacity="0.08" stroke="#4a4a4a" stroke-width="0.5"/>
<polygon points="431.16,721.80 431.12,722.12 431.00,722.42 430.80,722.71 430.54,722.97 430.21,723.20 429.83,723.38 429.41,723.51 428.96,723.60 428.50,723.62 428.04,723.60 427.59,723.51 427.17,723.38 426.79,723.20 426.46,722.97 426.20,722.71 426.00,722.42 425.88,722.12 425.84,721.80 425.88,721.48 426.00,721.18 426.20,720.89 426.46,720.63 426.79,720.40 427.17,720.22 427.59,720.09 428.04,720.00 428.50,719.98 428.96,720.00 429.41,720.09 429.83,720.22 430.21,720.40 430.54,720.63 430.80,720.89 431.00,721.18 431.12,721.48" fill="#000" fill-opacity="0.13" stroke="#4a4a4a" stroke-width="0.5"/>
<ellipse cx="413" cy="722.2" rx="2" ry="1.2" fill="none" stroke="#444" stroke-width="0.5"/>
<ellipse cx="444" cy="722.2" rx="2" ry="1.4" fill="none" stroke="#444" stroke-width="0.5"/>
<ellipse cx="402.09999999999997" cy="704.75" rx="1.7" ry="4.25" fill="#15153a" fill-opacity="0.85"/>
<ellipse cx="402.09999999999997" cy="722.4" rx="1.7" ry="4.600000000000023" fill="#15153a" fill-opacity="0.85"/>
<text x="404.3" y="702.5" font-size="7.2" text-anchor="start" fill="#c8485a" stroke="#c8485a" stroke-width="0.12">45%</text>
<text x="445.5" y="751" font-size="7.2" text-anchor="start" fill="#4e7e4e" stroke="#4e7e4e" stroke-width="0.12">5%</text>
<rect x="249.2" y="763.4" width="60.80000000000001" height="60.39999999999998" fill="#fff" stroke="#5a5a5a" stroke-width="0.9"/>
<line x1="256.8" y1="823.8" x2="256.8" y2="822.5" stroke="#555" stroke-width="0.7"/>
<line x1="264.4" y1="823.8" x2="264.4" y2="822.5" stroke="#555" stroke-width="0.7"/>
<line x1="272.0" y1="823.8" x2="272.0" y2="822.5" stroke="#555" stroke-width="0.7"/>
<line x1="279.6" y1="823.8" x2="279.6" y2="822.5" stroke="#555" stroke-width="0.7"/>
<line x1="287.2" y1="823.8" x2="287.2" y2="822.5" stroke="#555" stroke-width="0.7"/>
<line x1="294.8" y1="823.8" x2="294.8" y2="822.5" stroke="#555" stroke-width="0.7"/>
<line x1="302.4" y1="823.8" x2="302.4" y2="822.5" stroke="#555" stroke-width="0.7"/>
<line x1="249.2" y1="770.9499999999999" x2="250.5" y2="770.9499999999999" stroke="#555" stroke-width="0.7"/>
<line x1="249.2" y1="778.5" x2="250.5" y2="778.5" stroke="#555" stroke-width="0.7"/>
<line x1="249.2" y1="786.05" x2="250.5" y2="786.05" stroke="#555" stroke-width="0.7"/>
<line x1="249.2" y1="793.5999999999999" x2="250.5" y2="793.5999999999999" stroke="#555" stroke-width="0.7"/>
<line x1="249.2" y1="801.15" x2="250.5" y2="801.15" stroke="#555" stroke-width="0.7"/>
<line x1="249.2" y1="808.6999999999999" x2="250.5" y2="808.6999999999999" stroke="#555" stroke-width="0.7"/>
<line x1="249.2" y1="816.25" x2="250.5" y2="816.25" stroke="#555" stroke-width="0.7"/>
<polygon points="249.2,763.4 289.8,763.4 289.8,774.8 283.7,784.6 249.2,784.6" fill="none" stroke="#7c7cd6" stroke-width="0.7"/>
<polygon points="280.2,823.8 280.2,799.4 290.5,780.3 304.9,780.3 304.9,823.8" fill="none" stroke="#7c7cd6" stroke-width="0.7"/>
<polygon points="251.00,772.80 251.78,771.37 252.56,770.78 253.34,770.33 254.12,770.20 254.91,770.20 255.69,770.20 256.47,770.20 257.25,770.20 258.03,770.20 258.81,770.20 259.59,770.20 260.38,770.20 261.16,770.20 261.94,770.20 262.72,770.20 263.50,770.20 264.28,770.20 265.06,770.20 265.84,770.20 266.62,770.20 267.41,770.20 268.19,770.20 268.97,770.20 269.75,770.10 270.53,769.63 271.31,769.26 272.09,768.95 272.88,768.70 273.66,768.49 274.44,768.33 275.22,768.20 276.00,768.10 276.78,768.04 277.56,768.00 278.34,768.00 279.12,768.03 279.91,768.09 280.69,768.18 281.47,768.31 282.25,768.47 283.03,768.67 283.81,768.92 284.59,769.22 285.38,769.59 286.16,770.04 286.94,770.61 287.72,771.42 288.50,772.80 288.50,772.80 287.72,775.58 286.94,776.39 286.16,776.96 285.38,777.41 284.59,777.78 283.81,778.08 283.03,778.33 282.25,778.53 281.47,778.69 280.69,778.82 279.91,778.91 279.12,778.97 278.34,779.00 277.56,779.00 276.78,778.96 276.00,778.90 275.22,778.80 274.44,778.67 273.66,778.51 272.88,778.30 272.09,778.05 271.31,777.74 270.53,777.37 269.75,776.90 268.97,776.31 268.19,775.46 267.41,775.40 266.62,775.40 265.84,775.40 265.06,775.40 264.28,775.40 263.50,775.40 262.72,775.40 261.94,775.40 261.16,775.40 260.38,775.40 259.59,775.40 258.81,775.40 258.03,775.40 257.25,775.40 256.47,775.40 255.69,775.40 254.91,775.40 254.12,775.40 253.34,775.27 252.56,774.82 251.78,774.23 251.00,772.80" fill="#000" fill-opacity="0.03" stroke="#4a4a4a" stroke-width="0.5"/>
<polygon points="263.15,772.80 263.65,771.85 264.14,771.46 264.64,771.16 265.13,770.98 265.63,770.98 266.12,770.98 266.62,770.98 267.11,770.98 267.61,770.98 268.10,770.98 268.60,770.98 269.09,770.98 269.59,770.98 270.08,770.98 270.58,770.98 271.07,770.98 271.57,770.98 272.07,770.69 272.56,770.40 273.06,770.16 273.55,769.95 274.05,769.78 274.54,769.63 275.04,769.50 275.53,769.39 276.03,769.30 276.52,769.23 277.02,769.17 277.51,769.13 278.01,769.11 278.50,769.10 279.00,769.11 279.50,769.13 279.99,769.17 280.49,769.22 280.98,769.29 281.48,769.38 281.97,769.49 282.47,769.61 282.96,769.76 283.46,769.94 283.95,770.14 284.45,770.38 284.94,770.66 285.44,771.00 285.93,771.43 286.43,772.01 286.92,773.50 286.92,773.50 286.43,774.99 285.93,775.57 285.44,776.00 284.94,776.34 284.45,776.62 283.95,776.86 283.46,777.06 282.96,777.24 282.47,777.39 281.97,777.51 281.48,777.62 280.98,777.71 280.49,777.78 279.99,777.83 279.50,777.87 279.00,777.89 278.50,777.90 278.01,777.89 277.51,777.87 277.02,777.83 276.52,777.77 276.03,777.70 275.53,777.61 275.04,777.50 274.54,777.37 274.05,777.22 273.55,777.05 273.06,776.84 272.56,776.60 272.07,776.31 271.57,775.97 271.07,775.53 270.58,774.93 270.08,774.62 269.59,774.62 269.09,774.62 268.60,774.62 268.10,774.62 267.61,774.62 267.11,774.62 266.62,774.62 266.12,774.62 265.63,774.62 265.13,774.62 264.64,774.44 264.14,774.14 263.65,773.75 263.15,772.80" fill="#000" fill-opacity="0.08" stroke="#4a4a4a" stroke-width="0.5"/>
<polygon points="272.49,773.50 272.76,772.53 273.03,772.14 273.30,771.85 273.57,771.62 273.84,771.42 274.12,771.24 274.39,771.09 274.66,770.96 274.93,770.84 275.20,770.73 275.47,770.63 275.74,770.55 276.01,770.47 276.29,770.40 276.56,770.34 276.83,770.29 277.10,770.24 277.37,770.20 277.64,770.16 277.91,770.14 278.18,770.12 278.45,770.10 278.73,770.09 279.00,770.09 279.27,770.09 279.54,770.10 279.81,770.12 280.08,770.14 280.35,770.16 280.62,770.20 280.90,770.24 281.17,770.29 281.44,770.34 281.71,770.40 281.98,770.47 282.25,770.55 282.52,770.63 282.80,770.73 283.07,770.84 283.34,770.96 283.61,771.09 283.88,771.24 284.15,771.42 284.42,771.62 284.69,771.85 284.96,772.14 285.24,772.53 285.51,773.50 285.51,773.50 285.24,774.47 284.96,774.86 284.69,775.15 284.42,775.38 284.15,775.58 283.88,775.76 283.61,775.91 283.34,776.04 283.07,776.16 282.80,776.27 282.52,776.37 282.25,776.45 281.98,776.53 281.71,776.60 281.44,776.66 281.17,776.71 280.90,776.76 280.62,776.80 280.35,776.84 280.08,776.86 279.81,776.88 279.54,776.90 279.27,776.91 279.00,776.91 278.73,776.91 278.45,776.90 278.18,776.88 277.91,776.86 277.64,776.84 277.37,776.80 277.10,776.76 276.83,776.71 276.56,776.66 276.29,776.60 276.01,776.53 275.74,776.45 275.47,776.37 275.20,776.27 274.93,776.16 274.66,776.04 274.39,775.91 274.12,775.76 273.84,775.58 273.57,775.38 273.30,775.15 273.03,774.86 272.76,774.47 272.49,773.50" fill="#000" fill-opacity="0.13" stroke="#4a4a4a" stroke-width="0.5"/>
<polygon points="274.72,772.80 274.92,772.79 275.11,772.51 275.31,772.30 275.51,772.13 275.70,771.99 275.90,771.86 276.10,771.75 276.29,771.66 276.49,771.57 276.69,771.49 276.88,771.42 277.08,771.36 277.28,771.30 277.48,771.25 277.67,771.21 277.87,771.17 278.07,771.13 278.26,771.10 278.46,771.08 278.66,771.06 278.85,771.04 279.05,771.03 279.25,771.03 279.44,771.02 279.64,771.03 279.84,771.03 280.03,771.04 280.23,771.06 280.43,771.08 280.62,771.10 280.82,771.13 281.02,771.17 281.22,771.21 281.41,771.25 281.61,771.30 281.81,771.36 282.00,771.42 282.20,771.49 282.40,771.57 282.59,771.66 282.79,771.75 282.99,771.86 283.18,771.99 283.38,772.13 283.58,772.30 283.78,772.51 283.97,772.79 284.17,772.80 284.17,772.80 283.97,774.21 283.78,774.49 283.58,774.70 283.38,774.87 283.18,775.01 282.99,775.14 282.79,775.25 282.59,775.34 282.40,775.43 282.20,775.51 282.00,775.58 281.81,775.64 281.61,775.70 281.41,775.75 281.22,775.79 281.02,775.83 280.82,775.87 280.62,775.90 280.43,775.92 280.23,775.94 280.03,775.96 279.84,775.97 279.64,775.97 279.44,775.98 279.25,775.97 279.05,775.97 278.85,775.96 278.66,775.94 278.46,775.92 278.26,775.90 278.07,775.87 277.87,775.83 277.67,775.79 277.48,775.75 277.28,775.70 277.08,775.64 276.88,775.58 276.69,775.51 276.49,775.43 276.29,775.34 276.10,775.25 275.90,775.14 275.70,775.01 275.51,774.87 275.31,774.70 275.11,774.49 274.92,774.21 274.72,772.80" fill="#000" fill-opacity="0.18" stroke="#4a4a4a" stroke-width="0.5"/>
<polygon points="276.69,773.50 276.82,773.03 276.95,772.84 277.08,772.70 277.21,772.59 277.34,772.49 277.48,772.41 277.61,772.34 277.74,772.27 277.87,772.21 278.00,772.16 278.13,772.11 278.26,772.07 278.39,772.03 278.52,772.00 278.66,771.97 278.79,771.94 278.92,771.92 279.05,771.90 279.18,771.89 279.31,771.87 279.44,771.86 279.57,771.86 279.71,771.85 279.84,771.85 279.97,771.85 280.10,771.86 280.23,771.86 280.36,771.87 280.49,771.89 280.62,771.90 280.76,771.92 280.89,771.94 281.02,771.97 281.15,772.00 281.28,772.03 281.41,772.07 281.54,772.11 281.67,772.16 281.81,772.21 281.94,772.27 282.07,772.34 282.20,772.41 282.33,772.49 282.46,772.59 282.59,772.70 282.72,772.84 282.86,773.03 282.99,773.50 282.99,773.50 282.86,773.97 282.72,774.16 282.59,774.30 282.46,774.41 282.33,774.51 282.20,774.59 282.07,774.66 281.94,774.73 281.81,774.79 281.67,774.84 281.54,774.89 281.41,774.93 281.28,774.97 281.15,775.00 281.02,775.03 280.89,775.06 280.76,775.08 280.62,775.10 280.49,775.11 280.36,775.13 280.23,775.14 280.10,775.14 279.97,775.15 279.84,775.15 279.71,775.15 279.57,775.14 279.44,775.14 279.31,775.13 279.18,775.11 279.05,775.10 278.92,775.08 278.79,775.06 278.66,775.03 278.52,775.00 278.39,774.97 278.26,774.93 278.13,774.89 278.00,774.84 277.87,774.79 277.74,774.73 277.61,774.66 277.48,774.59 277.34,774.51 277.21,774.41 277.08,774.30 276.95,774.16 276.82,773.97 276.69,773.50" fill="#000" fill-opacity="0.23" stroke="#4a4a4a" stroke-width="0.5"/>
<ellipse cx="280.1" cy="773.5" rx="1.6900000000000002" ry="1.3" fill="#111" fill-opacity="0.6"/>
<path d="M284.3,787.7 C289,786.5 296,786.5 299.7,787.7 C299,795 294,803 290.5,810.5 C288,803 285.5,795 284.3,787.7Z" fill="#000" fill-opacity="0.10" stroke="#3c3c3c" stroke-width="0.5"/>
<path d="M286.5,789.5 C290,788.5 295,788.5 297.5,789.5 C296.5,795 293.5,800.5 291,805.5 C289,800 287.5,795 286.5,789.5Z" fill="#000" fill-opacity="0.14" stroke="#3c3c3c" stroke-width="0.5"/>
<path d="M289,791.5 C291,791 293.5,791 295,791.5 C294.5,795 292.5,798.5 291,801 C290,798 289.5,795 289,791.5Z" fill="#000" fill-opacity="0.2" stroke="#3c3c3c" stroke-width="0.5"/>
<ellipse cx="291.5" cy="794.5" rx="1.0" ry="2.5" fill="#222" fill-opacity="0.8"/>
<ellipse cx="290.5" cy="823" rx="2.4" ry="1.0" fill="#444"/>
<ellipse cx="250.3" cy="774.25" rx="1.0" ry="6.75" fill="#15153a" fill-opacity="0.85"/>
<text x="253.5" y="770.5" font-size="7.2" text-anchor="start" fill="#c8485a" stroke="#c8485a" stroke-width="0.12">62%</text>
<text x="289.8" y="819.7" font-size="7.2" text-anchor="start" fill="#4e7e4e" stroke="#4e7e4e" stroke-width="0.12">36%</text>
<rect x="325.8" y="763.4" width="60.0" height="60.39999999999998" fill="#fff" stroke="#5a5a5a" stroke-width="0.9"/>
<line x1="333.3" y1="823.8" x2="333.3" y2="822.5" stroke="#555" stroke-width="0.7"/>
<line x1="340.8" y1="823.8" x2="340.8" y2="822.5" stroke="#555" stroke-width="0.7"/>
<line x1="348.3" y1="823.8" x2="348.3" y2="822.5" stroke="#555" stroke-width="0.7"/>
<line x1="355.8" y1="823.8" x2="355.8" y2="822.5" stroke="#555" stroke-width="0.7"/>
<line x1="363.3" y1="823.8" x2="363.3" y2="822.5" stroke="#555" stroke-width="0.7"/>
<line x1="370.8" y1="823.8" x2="370.8" y2="822.5" stroke="#555" stroke-width="0.7"/>
<line x1="378.3" y1="823.8" x2="378.3" y2="822.5" stroke="#555" stroke-width="0.7"/>
<line x1="325.8" y1="770.9499999999999" x2="327.1" y2="770.9499999999999" stroke="#555" stroke-width="0.7"/>
<line x1="325.8" y1="778.5" x2="327.1" y2="778.5" stroke="#555" stroke-width="0.7"/>
<line x1="325.8" y1="786.05" x2="327.1" y2="786.05" stroke="#555" stroke-width="0.7"/>
<line x1="325.8" y1="793.5999999999999" x2="327.1" y2="793.5999999999999" stroke="#555" stroke-width="0.7"/>
<line x1="325.8" y1="801.15" x2="327.1" y2="801.15" stroke="#555" stroke-width="0.7"/>
<line x1="325.8" y1="808.6999999999999" x2="327.1" y2="808.6999999999999" stroke="#555" stroke-width="0.7"/>
<line x1="325.8" y1="816.25" x2="327.1" y2="816.25" stroke="#555" stroke-width="0.7"/>
<polygon points="325.8,763.4 366.5,763.4 366.5,781.5 365.2,785.2 325.8,785.2" fill="none" stroke="#7c7cd6" stroke-width="0.7"/>
<polygon points="356.2,823.8 356.2,799.4 364.6,780.3 380.9,780.3 380.9,823.8" fill="none" stroke="#7c7cd6" stroke-width="0.7"/>
<polygon points="361.18,776.53 361.15,777.62 360.76,778.73 360.02,779.82 358.96,780.87 357.60,781.83 355.99,782.68 354.18,783.40 352.21,783.96 350.16,784.34 348.09,784.54 346.05,784.54 344.11,784.35 342.32,783.98 340.75,783.43 339.44,782.72 338.43,781.87 337.75,780.91 337.42,779.87 337.45,778.78 337.84,777.67 338.58,776.58 339.64,775.53 341.00,774.57 342.61,773.72 344.42,773.00 346.39,772.44 348.44,772.06 350.51,771.86 352.55,771.86 354.49,772.05 356.28,772.42 357.85,772.97 359.16,773.68 360.17,774.53 360.85,775.49" fill="#000" fill-opacity="0.03" stroke="#4a4a4a" stroke-width="0.5"/>
<polygon points="358.59,776.95 358.56,777.77 358.27,778.60 357.72,779.42 356.92,780.20 355.90,780.92 354.69,781.56 353.33,782.10 351.86,782.52 350.32,782.80 348.76,782.95 347.23,782.96 345.78,782.81 344.44,782.53 343.26,782.12 342.28,781.59 341.52,780.95 341.01,780.23 340.76,779.45 340.79,778.63 341.08,777.80 341.63,776.98 342.43,776.20 343.45,775.48 344.66,774.84 346.02,774.30 347.49,773.88 349.03,773.60 350.59,773.45 352.12,773.44 353.57,773.59 354.91,773.87 356.09,774.28 357.07,774.81 357.83,775.45 358.34,776.17" fill="#000" fill-opacity="0.08" stroke="#4a4a4a" stroke-width="0.5"/>
<polygon points="356.51,777.28 356.49,777.88 356.28,778.49 355.87,779.09 355.29,779.67 354.54,780.20 353.65,780.67 352.66,781.06 351.58,781.37 350.45,781.58 349.31,781.69 348.19,781.69 347.12,781.58 346.14,781.38 345.27,781.07 344.55,780.68 344.00,780.22 343.62,779.69 343.44,779.12 343.46,778.52 343.67,777.91 344.08,777.31 344.66,776.73 345.41,776.20 346.30,775.73 347.29,775.34 348.37,775.03 349.50,774.82 350.64,774.71 351.76,774.71 352.83,774.82 353.81,775.02 354.68,775.33 355.40,775.72 355.95,776.18 356.33,776.71" fill="#000" fill-opacity="0.13" stroke="#4a4a4a" stroke-width="0.5"/>
<polygon points="354.54,777.60 354.53,777.99 354.39,778.39 354.12,778.78 353.74,779.16 353.25,779.51 352.67,779.81 352.02,780.07 351.31,780.27 350.57,780.41 349.82,780.48 349.09,780.48 348.39,780.41 347.75,780.28 347.18,780.08 346.71,779.83 346.35,779.52 346.10,779.18 345.98,778.80 345.99,778.41 346.13,778.01 346.40,777.62 346.78,777.24 347.27,776.89 347.85,776.59 348.50,776.33 349.21,776.13 349.95,775.99 350.70,775.92 351.43,775.92 352.13,775.99 352.77,776.12 353.34,776.32 353.81,776.57 354.17,776.88 354.42,777.22" fill="#000" fill-opacity="0.18" stroke="#4a4a4a" stroke-width="0.5"/>
<polygon points="360.25,793.53 360.26,794.51 359.97,795.52 359.39,796.52 358.52,797.49 357.40,798.39 356.06,799.19 354.55,799.88 352.90,800.42 351.17,800.81 349.41,801.04 347.68,801.09 346.02,800.96 344.49,800.66 343.13,800.20 341.99,799.59 341.09,798.85 340.48,798.00 340.15,797.07 340.14,796.09 340.43,795.08 341.01,794.08 341.88,793.11 343.00,792.21 344.34,791.41 345.85,790.72 347.50,790.18 349.23,789.79 350.99,789.56 352.72,789.51 354.38,789.64 355.91,789.94 357.27,790.40 358.41,791.01 359.31,791.75 359.92,792.60" fill="#000" fill-opacity="0.03" stroke="#4a4a4a" stroke-width="0.5"/>
<polygon points="358.11,793.97 358.12,794.71 357.90,795.47 357.46,796.22 356.82,796.94 355.98,797.61 354.97,798.22 353.84,798.73 352.60,799.14 351.30,799.44 349.99,799.60 348.68,799.64 347.44,799.55 346.29,799.32 345.27,798.98 344.42,798.52 343.75,797.96 343.28,797.33 343.04,796.63 343.03,795.89 343.25,795.13 343.69,794.38 344.33,793.66 345.17,792.99 346.18,792.38 347.31,791.87 348.55,791.46 349.85,791.16 351.16,791.00 352.47,790.96 353.71,791.05 354.86,791.28 355.88,791.62 356.73,792.08 357.40,792.64 357.87,793.27" fill="#000" fill-opacity="0.08" stroke="#4a4a4a" stroke-width="0.5"/>
<polygon points="356.40,794.33 356.41,794.87 356.25,795.42 355.93,795.97 355.45,796.50 354.84,797.00 354.10,797.44 353.27,797.82 352.36,798.12 351.41,798.33 350.44,798.46 349.49,798.48 348.58,798.41 347.73,798.25 346.99,798.00 346.36,797.66 345.87,797.25 345.53,796.79 345.35,796.27 345.34,795.73 345.50,795.18 345.82,794.63 346.30,794.10 346.91,793.60 347.65,793.16 348.48,792.78 349.39,792.48 350.34,792.27 351.31,792.14 352.26,792.12 353.17,792.19 354.02,792.35 354.76,792.60 355.39,792.94 355.88,793.35 356.22,793.81" fill="#000" fill-opacity="0.13" stroke="#4a4a4a" stroke-width="0.5"/>
<polygon points="354.78,794.66 354.78,795.02 354.68,795.38 354.47,795.74 354.16,796.09 353.75,796.41 353.27,796.70 352.73,796.95 352.13,797.14 351.51,797.29 350.88,797.37 350.25,797.38 349.66,797.34 349.10,797.23 348.61,797.06 348.20,796.84 347.88,796.58 347.66,796.27 347.54,795.94 347.54,795.58 347.64,795.22 347.85,794.86 348.16,794.51 348.57,794.19 349.05,793.90 349.59,793.65 350.19,793.46 350.81,793.31 351.44,793.23 352.07,793.22 352.66,793.26 353.22,793.37 353.71,793.54 354.12,793.76 354.44,794.02 354.66,794.33" fill="#000" fill-opacity="0.18" stroke="#4a4a4a" stroke-width="0.5"/>
<polygon points="376.96,789.75 377.56,791.05 377.92,792.44 378.03,793.87 377.87,795.31 377.47,796.71 376.83,798.02 375.97,799.22 374.92,800.26 373.70,801.10 372.36,801.73 370.94,802.13 369.47,802.27 368.01,802.17 366.60,801.82 365.28,801.23 364.09,800.42 363.06,799.42 362.24,798.25 361.64,796.95 361.28,795.56 361.18,794.13 361.33,792.69 361.73,791.29 362.37,789.98 363.23,788.78 364.28,787.74 365.50,786.90 366.84,786.27 368.26,785.87 369.73,785.73 371.19,785.83 372.60,786.18 373.93,786.77 375.11,787.58 376.14,788.58" fill="#000" fill-opacity="0.03" stroke="#4a4a4a" stroke-width="0.5"/>
<polygon points="375.49,790.60 375.97,791.64 376.26,792.75 376.34,793.90 376.22,795.05 375.90,796.17 375.39,797.22 374.70,798.18 373.85,799.00 372.88,799.68 371.81,800.19 370.67,800.50 369.50,800.62 368.33,800.54 367.20,800.26 366.14,799.79 365.19,799.14 364.37,798.33 363.71,797.40 363.23,796.36 362.94,795.25 362.86,794.10 362.98,792.95 363.30,791.83 363.81,790.78 364.50,789.82 365.35,789.00 366.32,788.32 367.39,787.81 368.53,787.50 369.70,787.38 370.87,787.46 372.00,787.74 373.06,788.21 374.01,788.86 374.83,789.67" fill="#000" fill-opacity="0.08" stroke="#4a4a4a" stroke-width="0.5"/>
<polygon points="374.16,791.37 374.54,792.17 374.76,793.03 374.82,793.92 374.73,794.81 374.48,795.68 374.08,796.50 373.55,797.24 372.90,797.88 372.14,798.40 371.31,798.79 370.43,799.04 369.52,799.13 368.61,799.07 367.74,798.85 366.92,798.48 366.18,797.98 365.55,797.36 365.04,796.63 364.66,795.83 364.44,794.97 364.38,794.08 364.47,793.19 364.72,792.32 365.12,791.50 365.65,790.76 366.30,790.12 367.06,789.60 367.89,789.21 368.77,788.96 369.68,788.87 370.59,788.93 371.46,789.15 372.28,789.52 373.02,790.02 373.65,790.64" fill="#000" fill-opacity="0.13" stroke="#4a4a4a" stroke-width="0.5"/>
<polygon points="372.91,792.09 373.18,792.67 373.34,793.30 373.39,793.94 373.32,794.59 373.14,795.22 372.85,795.81 372.47,796.35 371.99,796.81 371.45,797.20 370.84,797.48 370.20,797.66 369.54,797.72 368.88,797.68 368.25,797.52 367.65,797.25 367.12,796.89 366.66,796.44 366.29,795.91 366.02,795.33 365.86,794.70 365.81,794.06 365.88,793.41 366.06,792.78 366.35,792.19 366.73,791.65 367.21,791.19 367.75,790.80 368.36,790.52 369.00,790.34 369.66,790.28 370.32,790.32 370.95,790.48 371.55,790.75 372.08,791.11 372.54,791.56" fill="#000" fill-opacity="0.18" stroke="#4a4a4a" stroke-width="0.5"/>
<polygon points="371.81,792.73 371.99,793.11 372.10,793.53 372.13,793.96 372.08,794.39 371.96,794.81 371.77,795.21 371.51,795.57 371.19,795.88 370.83,796.13 370.43,796.32 370.00,796.44 369.56,796.48 369.12,796.45 368.70,796.35 368.30,796.17 367.95,795.93 367.64,795.63 367.39,795.27 367.21,794.89 367.10,794.47 367.07,794.04 367.12,793.61 367.24,793.19 367.43,792.79 367.69,792.43 368.01,792.12 368.37,791.87 368.77,791.68 369.20,791.56 369.64,791.52 370.08,791.55 370.50,791.65 370.90,791.83 371.25,792.07 371.56,792.37" fill="#000" fill-opacity="0.23" stroke="#4a4a4a" stroke-width="0.5"/>
<ellipse cx="369.6" cy="794" rx="1.3" ry="1.0" fill="#111" fill-opacity="0.6"/>
<ellipse cx="368.5" cy="795" rx="3.5" ry="4" fill="#111" fill-opacity="0.35"/>
<ellipse cx="326.7" cy="775.25" rx="1.0" ry="3.75" fill="#15153a" fill-opacity="0.85"/>
<ellipse cx="326.7" cy="795.5" rx="1.0" ry="3.0" fill="#808080" fill-opacity="0.85"/>
<text x="329" y="770.5" font-size="7.2" text-anchor="start" fill="#c8485a" stroke="#c8485a" stroke-width="0.12">22%</text>
<text x="370.2" y="819.7" font-size="7.2" text-anchor="start" fill="#4e7e4e" stroke="#4e7e4e" stroke-width="0.12">2%</text>
<rect x="401.2" y="763.4" width="60.400000000000034" height="60.39999999999998" fill="#fff" stroke="#5a5a5a" stroke-width="0.9"/>
<line x1="408.75" y1="823.8" x2="408.75" y2="822.5" stroke="#555" stroke-width="0.7"/>
<line x1="416.3" y1="823.8" x2="416.3" y2="822.5" stroke="#555" stroke-width="0.7"/>
<line x1="423.85" y1="823.8" x2="423.85" y2="822.5" stroke="#555" stroke-width="0.7"/>
<line x1="431.4" y1="823.8" x2="431.4" y2="822.5" stroke="#555" stroke-width="0.7"/>
<line x1="438.95" y1="823.8" x2="438.95" y2="822.5" stroke="#555" stroke-width="0.7"/>
<line x1="446.5" y1="823.8" x2="446.5" y2="822.5" stroke="#555" stroke-width="0.7"/>
<line x1="454.05" y1="823.8" x2="454.05" y2="822.5" stroke="#555" stroke-width="0.7"/>
<line x1="401.2" y1="770.9499999999999" x2="402.5" y2="770.9499999999999" stroke="#555" stroke-width="0.7"/>
<line x1="401.2" y1="778.5" x2="402.5" y2="778.5" stroke="#555" stroke-width="0.7"/>
<line x1="401.2" y1="786.05" x2="402.5" y2="786.05" stroke="#555" stroke-width="0.7"/>
<line x1="401.2" y1="793.5999999999999" x2="402.5" y2="793.5999999999999" stroke="#555" stroke-width="0.7"/>
<line x1="401.2" y1="801.15" x2="402.5" y2="801.15" stroke="#555" stroke-width="0.7"/>
<line x1="401.2" y1="808.6999999999999" x2="402.5" y2="808.6999999999999" stroke="#555" stroke-width="0.7"/>
<line x1="401.2" y1="816.25" x2="402.5" y2="816.25" stroke="#555" stroke-width="0.7"/>
<polygon points="401.2,763.4 441.2,763.4 441.2,774.8 435.7,785.2 401.2,785.2" fill="none" stroke="#7c7cd6" stroke-width="0.7"/>
<polygon points="431.4,823.8 431.4,799.4 442.5,780.3 456.9,780.3 456.9,823.8" fill="none" stroke="#7c7cd6" stroke-width="0.7"/>
<polygon points="415.50,772.60 416.02,771.31 416.54,770.77 417.06,770.36 417.58,770.02 418.10,769.71 418.62,769.44 419.15,769.40 419.67,769.40 420.19,769.40 420.71,769.40 421.23,769.40 421.75,769.40 422.27,769.40 422.79,769.26 423.31,769.05 423.83,768.88 424.35,768.72 424.88,768.59 425.40,768.47 425.92,768.36 426.44,768.27 426.96,768.20 427.48,768.13 428.00,768.08 428.52,768.05 429.04,768.02 429.56,768.00 430.08,768.00 430.60,768.01 431.12,768.03 431.65,768.06 432.17,768.10 432.69,768.15 433.21,768.22 433.73,768.30 434.25,768.39 434.77,768.50 435.29,768.63 435.81,768.77 436.33,768.93 436.85,769.12 437.38,769.33 437.90,769.57 438.42,769.85 438.94,770.19 439.46,770.60 439.98,771.17 440.50,772.60 440.50,772.60 439.98,774.03 439.46,774.60 438.94,775.01 438.42,775.35 437.90,775.63 437.38,775.87 436.85,776.08 436.33,776.27 435.81,776.43 435.29,776.57 434.77,776.70 434.25,776.81 433.73,776.90 433.21,776.98 432.69,777.05 432.17,777.10 431.65,777.14 431.12,777.17 430.60,777.19 430.08,777.20 429.56,777.20 429.04,777.18 428.52,777.15 428.00,777.12 427.48,777.07 426.96,777.00 426.44,776.93 425.92,776.84 425.40,776.73 424.88,776.61 424.35,776.48 423.83,776.32 423.31,776.15 422.79,775.94 422.27,775.80 421.75,775.80 421.23,775.80 420.71,775.80 420.19,775.80 419.67,775.80 419.15,775.80 418.62,775.76 418.10,775.49 417.58,775.18 417.06,774.84 416.54,774.43 416.02,773.89 415.50,772.60" fill="#000" fill-opacity="0.03" stroke="#4a4a4a" stroke-width="0.5"/>
<polygon points="422.02,772.60 422.37,771.72 422.72,771.35 423.07,771.07 423.42,770.83 423.77,770.61 424.12,770.39 424.47,770.21 424.82,770.05 425.16,769.91 425.51,769.78 425.86,769.67 426.21,769.56 426.56,769.47 426.91,769.39 427.26,769.32 427.61,769.26 427.95,769.20 428.30,769.15 428.65,769.11 429.00,769.08 429.35,769.05 429.70,769.03 430.05,769.02 430.40,769.01 430.75,769.01 431.09,769.02 431.44,769.03 431.79,769.05 432.14,769.08 432.49,769.11 432.84,769.15 433.19,769.20 433.54,769.25 433.88,769.32 434.23,769.39 434.58,769.47 434.93,769.56 435.28,769.66 435.63,769.78 435.98,769.90 436.33,770.04 436.67,770.20 437.02,770.39 437.37,770.60 437.72,770.85 438.07,771.15 438.42,771.56 438.77,772.60 438.77,772.60 438.42,773.64 438.07,774.05 437.72,774.35 437.37,774.60 437.02,774.81 436.67,775.00 436.33,775.16 435.98,775.30 435.63,775.42 435.28,775.54 434.93,775.64 434.58,775.73 434.23,775.81 433.88,775.88 433.54,775.95 433.19,776.00 432.84,776.05 432.49,776.09 432.14,776.12 431.79,776.15 431.44,776.17 431.09,776.18 430.75,776.19 430.40,776.19 430.05,776.18 429.70,776.17 429.35,776.15 429.00,776.12 428.65,776.09 428.30,776.05 427.95,776.00 427.61,775.94 427.26,775.88 426.91,775.81 426.56,775.73 426.21,775.64 425.86,775.53 425.51,775.42 425.16,775.29 424.82,775.15 424.47,774.99 424.12,774.81 423.77,774.59 423.42,774.37 423.07,774.13 422.72,773.85 422.37,773.48 422.02,772.60" fill="#000" fill-opacity="0.08" stroke="#4a4a4a" stroke-width="0.5"/>
<polygon points="425.01,772.60 425.27,771.84 425.52,771.53 425.77,771.31 426.03,771.13 426.28,770.97 426.54,770.84 426.79,770.72 427.04,770.61 427.30,770.52 427.55,770.43 427.80,770.36 428.06,770.29 428.31,770.23 428.57,770.17 428.82,770.13 429.07,770.08 429.33,770.05 429.58,770.02 429.83,769.99 430.09,769.97 430.34,769.95 430.60,769.94 430.85,769.93 431.10,769.93 431.36,769.93 431.61,769.94 431.86,769.95 432.12,769.97 432.37,769.99 432.62,770.02 432.88,770.05 433.13,770.08 433.39,770.13 433.64,770.17 433.89,770.23 434.15,770.29 434.40,770.36 434.66,770.43 434.91,770.52 435.16,770.61 435.42,770.72 435.67,770.84 435.92,770.97 436.18,771.13 436.43,771.31 436.69,771.53 436.94,771.84 437.19,772.60 437.19,772.60 436.94,773.36 436.69,773.67 436.43,773.89 436.18,774.07 435.92,774.23 435.67,774.36 435.42,774.48 435.16,774.59 434.91,774.68 434.66,774.77 434.40,774.84 434.15,774.91 433.89,774.97 433.64,775.03 433.39,775.07 433.13,775.12 432.88,775.15 432.62,775.18 432.37,775.21 432.12,775.23 431.86,775.25 431.61,775.26 431.36,775.27 431.10,775.27 430.85,775.27 430.60,775.26 430.34,775.25 430.09,775.23 429.83,775.21 429.58,775.18 429.33,775.15 429.07,775.12 428.82,775.07 428.57,775.03 428.31,774.97 428.06,774.91 427.80,774.84 427.55,774.77 427.30,774.68 427.04,774.59 426.79,774.48 426.54,774.36 426.28,774.23 426.03,774.07 425.77,773.89 425.52,773.67 425.27,773.36 425.01,772.60" fill="#000" fill-opacity="0.13" stroke="#4a4a4a" stroke-width="0.5"/>
<polygon points="427.38,772.60 427.55,772.07 427.73,771.86 427.90,771.71 428.07,771.58 428.25,771.48 428.43,771.38 428.60,771.30 428.77,771.23 428.95,771.16 429.12,771.11 429.30,771.05 429.48,771.01 429.65,770.96 429.82,770.93 430.00,770.89 430.18,770.87 430.35,770.84 430.52,770.82 430.70,770.80 430.88,770.79 431.05,770.77 431.22,770.77 431.40,770.76 431.57,770.76 431.75,770.76 431.93,770.77 432.10,770.77 432.27,770.79 432.45,770.80 432.62,770.82 432.80,770.84 432.97,770.87 433.15,770.89 433.32,770.93 433.50,770.96 433.67,771.01 433.85,771.05 434.02,771.11 434.20,771.16 434.38,771.23 434.55,771.30 434.72,771.38 434.90,771.48 435.07,771.58 435.25,771.71 435.42,771.86 435.60,772.07 435.77,772.60 435.77,772.60 435.60,773.13 435.42,773.34 435.25,773.49 435.07,773.62 434.90,773.72 434.72,773.82 434.55,773.90 434.38,773.97 434.20,774.04 434.02,774.09 433.85,774.15 433.67,774.19 433.50,774.24 433.32,774.27 433.15,774.31 432.97,774.33 432.80,774.36 432.62,774.38 432.45,774.40 432.27,774.41 432.10,774.43 431.93,774.43 431.75,774.44 431.57,774.44 431.40,774.44 431.22,774.43 431.05,774.43 430.88,774.41 430.70,774.40 430.52,774.38 430.35,774.36 430.18,774.33 430.00,774.31 429.82,774.27 429.65,774.24 429.48,774.19 429.30,774.15 429.12,774.09 428.95,774.04 428.77,773.97 428.60,773.90 428.43,773.82 428.25,773.72 428.07,773.62 427.90,773.49 427.73,773.34 427.55,773.13 427.38,772.60" fill="#000" fill-opacity="0.18" stroke="#4a4a4a" stroke-width="0.5"/>
<polygon points="429.21,772.60 429.33,772.26 429.44,772.12 429.55,772.02 429.67,771.94 429.78,771.87 429.89,771.81 430.01,771.76 430.12,771.71 430.24,771.67 430.35,771.63 430.46,771.59 430.58,771.56 430.69,771.54 430.81,771.51 430.92,771.49 431.03,771.47 431.15,771.46 431.26,771.44 431.37,771.43 431.49,771.42 431.60,771.41 431.71,771.41 431.83,771.41 431.94,771.40 432.06,771.41 432.17,771.41 432.28,771.41 432.40,771.42 432.51,771.43 432.62,771.44 432.74,771.46 432.85,771.47 432.97,771.49 433.08,771.51 433.19,771.54 433.31,771.56 433.42,771.59 433.54,771.63 433.65,771.67 433.76,771.71 433.88,771.76 433.99,771.81 434.10,771.87 434.22,771.94 434.33,772.02 434.44,772.12 434.56,772.26 434.67,772.60 434.67,772.60 434.56,772.94 434.44,773.08 434.33,773.18 434.22,773.26 434.10,773.33 433.99,773.39 433.88,773.44 433.76,773.49 433.65,773.53 433.54,773.57 433.42,773.61 433.31,773.64 433.19,773.66 433.08,773.69 432.97,773.71 432.85,773.73 432.74,773.74 432.62,773.76 432.51,773.77 432.40,773.78 432.28,773.79 432.17,773.79 432.06,773.79 431.94,773.80 431.83,773.79 431.71,773.79 431.60,773.79 431.49,773.78 431.37,773.77 431.26,773.76 431.15,773.74 431.03,773.73 430.92,773.71 430.81,773.69 430.69,773.66 430.58,773.64 430.46,773.61 430.35,773.57 430.24,773.53 430.12,773.49 430.01,773.44 429.89,773.39 429.78,773.33 429.67,773.26 429.55,773.18 429.44,773.08 429.33,772.94 429.21,772.60" fill="#000" fill-opacity="0.23" stroke="#4a4a4a" stroke-width="0.5"/>
<ellipse cx="432.1" cy="772.6" rx="1.6900000000000002" ry="1.3" fill="#111" fill-opacity="0.6"/>
<ellipse cx="433" cy="772.2" rx="3.5" ry="1.8" fill="#111" fill-opacity="0.85"/>
<polygon points="448.48,787.43 448.17,788.36 447.77,789.23 447.29,790.01 446.73,790.69 446.12,791.24 445.48,791.65 444.83,791.90 444.18,791.99 443.55,791.91 442.97,791.67 442.45,791.26 442.01,790.72 441.65,790.04 441.40,789.26 441.26,788.40 441.24,787.47 441.32,786.52 441.52,785.57 441.83,784.64 442.23,783.77 442.71,782.99 443.27,782.31 443.88,781.76 444.52,781.35 445.17,781.10 445.82,781.01 446.45,781.09 447.03,781.33 447.55,781.74 447.99,782.28 448.35,782.96 448.60,783.74 448.74,784.60 448.76,785.53 448.68,786.48" fill="#000" fill-opacity="0.03" stroke="#4a4a4a" stroke-width="0.5"/>
<polygon points="447.16,787.08 446.97,787.65 446.72,788.19 446.42,788.68 446.07,789.10 445.70,789.44 445.30,789.69 444.89,789.85 444.49,789.90 444.10,789.85 443.74,789.70 443.42,789.45 443.14,789.12 442.93,788.70 442.77,788.21 442.68,787.68 442.67,787.10 442.72,786.51 442.84,785.92 443.03,785.35 443.28,784.81 443.58,784.32 443.93,783.90 444.30,783.56 444.70,783.31 445.11,783.15 445.51,783.10 445.90,783.15 446.26,783.30 446.58,783.55 446.86,783.88 447.07,784.30 447.23,784.79 447.32,785.32 447.33,785.90 447.28,786.49" fill="#000" fill-opacity="0.08" stroke="#4a4a4a" stroke-width="0.5"/>
<polygon points="446.04,786.78 445.95,787.06 445.83,787.32 445.69,787.55 445.52,787.76 445.34,787.92 445.15,788.05 444.95,788.12 444.75,788.15 444.57,788.12 444.39,788.05 444.23,787.93 444.10,787.77 444.00,787.56 443.92,787.33 443.88,787.07 443.87,786.79 443.90,786.51 443.96,786.22 444.05,785.94 444.17,785.68 444.31,785.45 444.48,785.24 444.66,785.08 444.85,784.95 445.05,784.88 445.25,784.85 445.43,784.88 445.61,784.95 445.77,785.07 445.90,785.23 446.00,785.44 446.08,785.67 446.12,785.93 446.13,786.21 446.10,786.49" fill="#000" fill-opacity="0.13" stroke="#4a4a4a" stroke-width="0.5"/>
<ellipse cx="402.09999999999997" cy="773.5" rx="1.5999999999999999" ry="3.5" fill="#15153a" fill-opacity="0.85"/>
<text x="404" y="770.5" font-size="7.2" text-anchor="start" fill="#c8485a" stroke="#c8485a" stroke-width="0.12">84%</text>
<text x="444.3" y="819.7" font-size="7.2" text-anchor="start" fill="#4e7e4e" stroke="#4e7e4e" stroke-width="0.12">15%</text>
<path d="M0,0H520V998H0Z M1,1V997H519V1Z" fill="#000" fill-rule="evenodd"/>
<path d="M1,1H519V997H1Z M2,2V996H518V2Z" fill="#8a8a8a" fill-rule="evenodd"/>
</svg>
</body></html>
